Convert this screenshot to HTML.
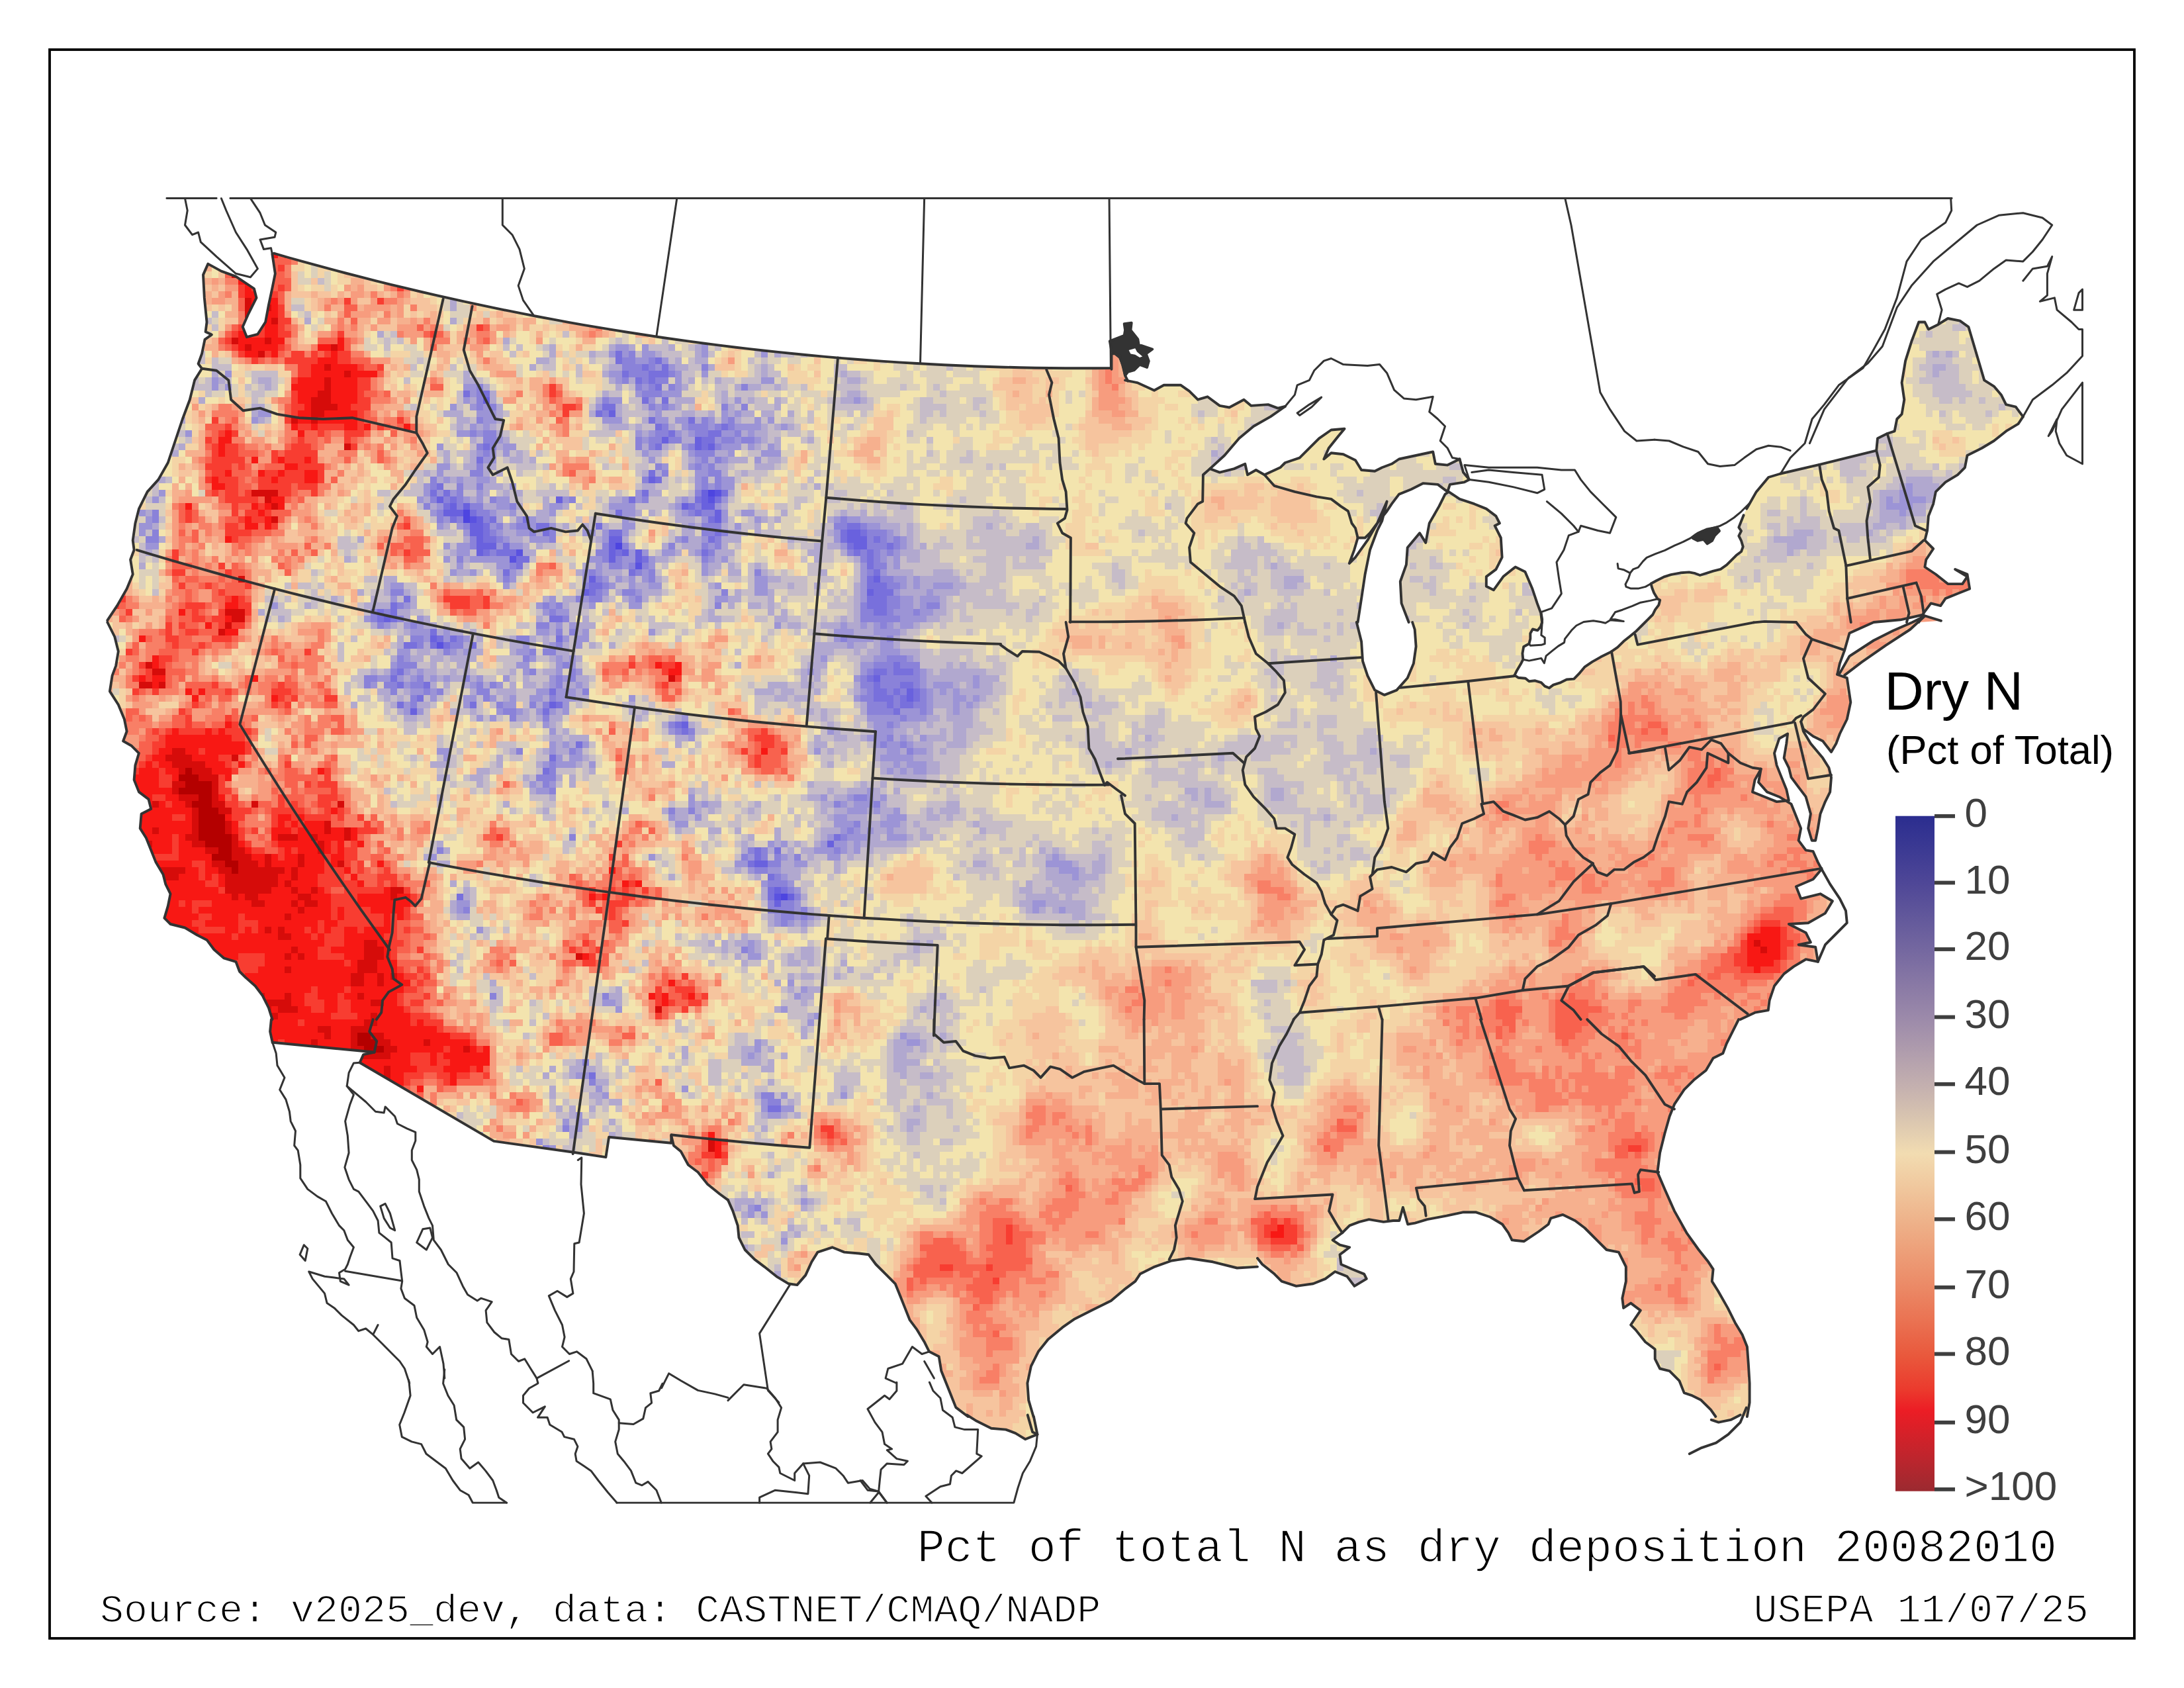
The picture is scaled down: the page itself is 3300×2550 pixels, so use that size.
<!DOCTYPE html>
<html><head><meta charset="utf-8"><title>Pct of total N as dry deposition 20082010</title>
<style>
html,body{margin:0;padding:0;background:#fff;}
body{width:3300px;height:2550px;overflow:hidden;position:relative;}
svg{position:absolute;left:0;top:0;display:block;}
.tk{font-family:"Liberation Sans",Arial,Helvetica,sans-serif;font-size:62px;fill:#3f3f3f;}
.lt{font-family:"Liberation Sans",Arial,Helvetica,sans-serif;font-size:82px;fill:#000;}
.ls{font-family:"Liberation Sans",Arial,Helvetica,sans-serif;font-size:61.5px;fill:#000;}
.cap{font-family:"Liberation Mono","Courier New",Courier,monospace;font-size:70px;fill:#000;stroke:#fff;stroke-width:1.6px;}
.src{font-family:"Liberation Mono","Courier New",Courier,monospace;font-size:60px;fill:#000;stroke:#fff;stroke-width:1.6px;}
</style></head>
<body>
<svg width="3300" height="2550" viewBox="0 0 3300 2550">
<rect x="0" y="0" width="3300" height="2550" fill="#fff"/>
<clipPath id="us"><path clip-rule="evenodd" d="M413.7 382.7l22 6.3 22 6.2 22.1 6 22.1 6 22.1 5.8 22.1 5.7 22.2 5.7 22.2 5.5 22.3 5.3 22.2 5.3 22.3 5.1 22.3 5.1 22.4 4.9 22.3 4.8 22.4 4.7 22.4 4.6 22.5 4.4 22.4 4.4 22.5 4.2 22.5 4.1 22.5 4 22.6 3.8 22.6 3.8 22.5 3.6 22.6 3.5 22.7 3.5 22.6 3.2 22.7 3.2 22.6 3.1 22.7 2.9 22.7 2.8 22.7 2.7 22.8 2.6 22.7 2.4 22.8 2.4 22.7 2.2 22.8 2.1 22.8 2 22.8 1.9 22.8 1.7 22.8 1.7 22.8 1.5 22.9 1.4 22.8 1.2 22.8 1.2 22.9 1.1 22.9 0.9 22.8 0.8 22.9 0.7 22.8 0.5 22.9 0.5 22.9 0.3 22.9 0.2 22.8 0.1 22.9 0 22.9 -0.2 1.1 -21.7 5.5 0 7 5.6 5 13 3 14 0 7.4 18.3 3.7 25.7 11.7 14.6 -8 25.6 0 12.9 9.1 12.8 12.8 14.6 -4.4 18.4 13.6 14.6 2.6 22 -11.8 11 9.2 25.6 -1.8 14.7 5.5 11 -2.6 -22 15.4 -25.7 14.6 -21.9 18.3 -22 25.7 -22 20.1 14.7 5.5 21.9 -5.5 16.5 -7.3 3.7 16.5 12.8 -7.3 12.8 7.3 23.8 -11 7.4 -7.3 21.9 -7.4 11 -10.9 18.3 -18.4 18.4 -12.8 20.1 -1.8 -9.2 11 -14.6 18.3 -7.3 16.5 11 -9.2 18.3 1.9 18.3 9.1 9.1 14.7 20.2 1.8 11 -5.5 14.6 -5.5 11 -7.3 25.7 -5.5 25.6 -5.5 3.7 18.3 18.3 1.8 18.3 -9.1 5.5 20.1 9.1 11 -7.3 3.7 -22 3.6 -3.6 11 -14.7 -11 -22 -1.8 -18.3 9.2 -18.3 7.3 -11 14.6 -7.3 11 -14.6 18.3 -11 14.7 -7.4 7.3 -11 0 -5.4 18.3 -7.4 20.2 9.2 -9.2 18.3 -25.6 14.7 -25.7 14.6 -32.9 -7.3 29.3 -7.3 14.6 -11 29.3 -7.4 36.7 -5.5 36.6 -5.5 35.9 -1.8 0 7.3 29.3 1.9 29.3 7.3 22 11 22 14.6 7.3 18.4 -7.3 16.4 -18.4 9.2 -21.9 3.7 -25.7 -1.9 -25.6 -3.6 -11 -5.5 0 -11 -28.6 -1.8 -32.9 9.1 -25.7 1.8 -25.6 18.4 -22 9.1 14.7 5.5 -29.4 14.7 -25.6 9.1 -18.3 5.5 -3.7 16.5 11 22 7.3 18.3 7.4 14.6 11 5.5 10.9 -7.3 3.7 9.2 18.3 1.8 29.3 -9.2 18.3 -14.6 11 0 14.7 11 5.5 14.6 -20.2 18.3 -14.6 14.7 7.3 11 25.7 7.3 21.9 5.5 14.7 1.8 13.9 -2.2 6.8 -4.5 5.5 -7.4 -1.8 -3.6 6.4 0 8.2 -1.9 7.4 -8.2 4.5 -1.8 10.1 0.9 9.2 -3.7 7.3 -5.5 9.1 -3.6 7.4 5.5 3.6 10.9 1 5.5 4.5 9.2 -0.9 9.2 2.8 5.4 5.5 6.5 2.7 6.4 -4.6 11 -3.6 9.1 -4.6 11 -0.9 7.3 -7.4 9.2 -10.9 11 -7.4 12.8 -7.3 14.7 -7.3 10.9 -7.4 9.2 -9.1 9.2 -7.3 9.1 -7.4 9.2 -9.1 9.1 -9.2 7.4 -7.3 3.6 -7.3 5.5 -7.4 1.8 -7.3 -3.6 -1.8 -5.5 -9.2 -2.8 -7.3 -1.8 -6.4 8.2 -4.6 11 -5.5 11 -3.6 14.7 -2.8 12.8 -0.9 9.2 1.8 7.3 2.8 9.1 -2.8 11 -3.6 11 -2.8 9.2 -6.4 7.3 -7.3 7.3 -7.3 7.4 -5.5 2.7 -7.4 -2.7 -9.1 -3.7 -7.3 3.7 -7.4 -3.7 -5.5 7.3 -18.3 4.6 -9.7 14.6 -25.7 18.4 -21.9 18.3 -5.5 58.6 -13.6 86.1 -21.2 1.8 -18.4 14.6 -7.3 11 -3.6 3.7 -18.4 7.3 -7.3 3.7 -22 -3.7 -25.6 5.5 -33 9.2 -29.3 11 -29.3 9.1 0 5.5 11 14.7 -7.3 14.6 -9.2 18.3 3.7 12.9 9.1 23.8 80.6 14.6 9.2 11 12.8 7.3 14.7 14.7 3.6 11 14.7 -7.3 11 -18.4 11 -18.3 14.6 -18.3 11 -22 11 -3.6 18.3 -11 11 -18.3 11 -14.7 14.6 -3.7 18.3 -7.3 18.4 -1.8 21.9 -3.7 14.7 12.8 12.8 -10.9 16.5 -1.9 11 16.5 11 18.3 14.6 22 0 7.3 -11 -18.3 -11 18.3 7.4 3.7 22 -18.3 7.3 -18.3 7.3 -7.4 11 -14.6 -3.7 -11 14.7 -7.3 13.9 33.7 -2.2 -28.6 -8.8 -33 7.3 -40.3 3.7 -36.6 16.5 -7.3 25.6 -7.3 20.2 -3.7 16.5 14.6 5.4 5.5 36.7 -5.5 25.6 -10.9 22 -5.5 14.7 -7.4 12.8 -12.8 -16.5 -14.6 -7.3 -14.7 -11 -3.7 -11 3.7 14.6 11 18.4 18.3 21.9 9.2 14.7 3.6 14.6 -1.8 22 -7.3 14.7 -7.4 18.3 -3.6 22 -3.7 18.3 -5.5 0 -5.5 -18.3 3.7 -22 -7.3 -25.7 -11 -14.6 -11 -14.7 -3.7 -14.6 -7.3 -14.7 3.7 -21.9 1.8 -14.7 -12.8 7.3 -7.3 22 3.6 18.3 7.3 18.3 7.4 18.3 3.6 16.5 -18.3 1.9 -18.3 -7.4 -18.3 -7.3 3.6 -18.3 9.2 -16.5 -3.7 20.2 12.9 14.6 18.3 7.3 18.3 11 7.3 18.3 7.3 18.4 -3.6 18.3 11 14.6 11 1.9 7.3 16.4 5.5 10.3 -12.8 15.4 -25.7 11 7.3 18.3 29.3 -7.3 18.4 10.9 -11 18.4 -25.7 14.6 -29.3 1.8 25.7 12.9 7.3 14.6 -18.3 3.7 25.6 3.6 3.7 22 -18.3 -3.6 -18.3 10.9 -14.7 11 -14.6 18.4 -7.4 21.9 -1.8 14.7 -20.2 3.6 -21.9 10.3 -2.6 0 -9.2 18.3 -9.1 18.3 -5.5 14.7 -14.7 7.3 -10.9 18.3 -18.4 14.7 -14.6 14.6 -14.7 22 -7.3 18.3 -7.3 25.7 -7.3 29.3 -3.7 29.3 11 25.6 14.6 33 18.4 32.9 18.3 25.7 14.6 18.3 7.3 11 -1.8 18.3 9.2 14.7 14.6 25.6 11 22 11 18.3 7.3 18.3 1.9 25.6 1.8 29.4 0 29.3 -3.7 21.2 -10.2 -2.4 -14.7 7.3 -18.3 3.7 -11 -3.7 6.6 -4.9 -7.3 -10.3 -14.7 -14.6 -14.6 -7.3 -11 -3.7 -7.3 -18.3 -14.7 -14.7 -14.6 -3.6 -7.4 -14.7 0 -14.6 -14.6 -11 -14.7 -18.3 -7.3 -7.4 7.3 -11 7.4 -10.9 -14.7 -11 -11 7.3 -1.8 -14.7 5.5 -25.6 0 -22 -11 -22 -18.3 -3.6 -14.7 -14.7 -18.3 -18.3 -14.6 -11 -18.4 -9.1 -18.3 5.5 -3.6 9.1 -14.7 11 -22 14.7 -18.3 -1.9 -5.5 -11 -9.1 -12.8 -18.4 -11 -21.9 -7.3 -18.3 0 -25.7 5.5 -29.3 5.5 -18.3 5.5 -11 1.8 -7.3 -25.6 -5.5 20.1 -9.2 0 -14.6 1.9 -22 -3.7 -14.7 3.7 -14.6 5.5 -11 10.9 -14.6 11 10.9 7.4 14.7 3.6 -14.7 11 1.9 14.7 16.5 7.3 18.3 7.3 3.6 7.3 -18.3 11 -11 -14.6 -18.3 -7.3 -14.6 10.9 -18.4 7.4 -25.6 3.6 -22 -7.3 -11 -11 -18.3 -14.6 -7.3 -9.2 0 12.8 -30.8 1.9 -36.6 -9.2 -36.6 -5.5 -25.7 3.7 -25.6 9.1 -22 11 -7.3 11 -14.7 11 -21.9 18.3 -29.3 14.7 -25.7 12.8 -18.3 12.8 -22 18.3 -14.6 18.3 -11 22 -5.5 25.7 1.8 25.6 7.3 24.9 5.9 26.9 -18.3 7.3 -14.7 -9.1 -14.6 -5.5 -22 -1.8 -22 -11 -14.6 -9.2 1.4 2.4 -18.3 -13.9 -7.3 -18.3 -7.3 -18.3 -7.4 -18.4 -3.6 -21.9 -14.7 -7.4 -7.3 -14.6 -11 -18.3 -11 -14.7 -7.3 -18.3 -7.3 -18.3 -7.4 -18.3 -14.6 -14.7 -14.7 -14.6 -10.9 -14.7 -14.7 -1.8 -22 -1.9 -18.3 -7.3 -22 7.3 -9.1 14.7 -9.2 20.1 -12.8 14.7 -12.8 -1.8 -18.3 -11 -18.4 -14.7 -14.6 -11 -14.7 -14.6 -9.1 -18.3 -1.8 -18.3 -7.4 -22 -7.3 -16.5 -12.5 -9.2 -18.3 -14.6 -14.6 -18.3 -14.7 -11 -11 -20.2 -11 -9.1 -3.6 -14.7 0 11 -94.2 -9.1 -4.7 30.4 -48.4 -7.4 -120.8 -16.8 -202.6 -118.7 5.5 -12.1 16.5 -3.6 -153.9 -14.7 -3.6 -16.5 1.8 -18.3 1.5 0 -5.5 -17.6 -9.2 -18.3 -11 -14.6 -14.6 -12.9 -9.2 -9.1 -5.5 -14.7 -18.3 -5.5 -14.7 -12.8 -10.9 -14.6 -14.7 -7.4 -18.3 -11 -22 -5.5 -9.1 -9.1 5.4 -18.3 3.7 -18.3 -7.3 -14.7 -3.7 -14.6 -11 -18.4 -7.3 -18.3 -7.3 -18.3 -9.2 -14.6 1.9 -22 14.6 -7.3 -3.7 -14.7 -14.6 -11 -7.3 -18.3 1.8 -22 5.5 -18.3 -11 -11 -12.8 -7.3 5.5 -14.7 -3.7 -18.3 -9.1 -22 -12.9 -20.1 3.7 -23.8 5.5 -14.7 3.7 -21.9 -5.5 -22 -11 -22 0 -2.9 14.6 -22 14.7 -25.6 9.1 -22 -3.6 -22 5.5 -14.7 -1.9 -14.6 3.7 -25.7 5.5 -21.9 12.8 -25.7 16.5 -18.3 14.6 -25.6 11 -33 11 -33 11 -29.3 7.3 -29.3 11 -17.6 -5.5 -7.3 5.5 -15.4 4.4 -21.2 10.3 -7.3 -9.2 -4.4 1.9 -14.7 -3.7 -36.6 -1.8 -34.8 7.3 -16.5 20.1 11 22 8.1 27.5 18.3 3.6 13.9 -12.8 25.6 -8 18.3 6.2 15.4 16.5 -4.4 11.7 -18.3 4.8 -25.6 5.5 -25.7 4.4 -21.9 -4.4 -29.3ZM2779.9 1016.9l14.6 -25.6 36.6 -23.8 29.3 -14.7 29.3 -12.8 18.4 -9.2 -22 20.2 -36.6 23.8 -36.7 25.6 -25.6 19.5Z"/></clipPath><g clip-path="url(#us)" shape-rendering="crispEdges" fill="none" stroke-width="10"><path stroke="#4d45e0" d="M1070 745h10M700 775h10M700 785h10M930 825h10M1180 1355h10"/>
<path stroke="#5a52e0" d="M1080 745h10M1070 755h10M710 785h10M780 835h10M770 845h10M960 855h10M660 975h10M1170 1355h10"/>
<path stroke="#6961de" d="M730 605h10M920 625h10M1000 665h10m40 0h10M1050 675h10m10 0h10M980 725h10M1060 745h10M660 755h10m170 0h10m210 0h10M680 765h10m10 0h10m320 0h10m20 0h20M670 775h30m380 0h10M720 785h10m350 0h10M710 795h20M710 805h20m550 0h20M720 815h10m190 0h20m340 0h30M720 825h30m170 0h10m360 0h20M720 835h10m190 0h10m10 0h10m10 0h10M920 845h10m30 0h10M890 875h10m420 0h10M880 895h10m420 0h10M580 935h10M650 965h10M1320 1025h10M1370 1045h10M1370 1055h10M830 1065h10M620 1075h10M1030 1095h10M1250 1275h10M1140 1305h20M1170 1345h10M1190 1355h10M1170 1365h10"/>
<path stroke="#7870dc" d="M930 535h10M930 545h10m50 0h10M970 555h10m20 0h10M940 565h10m30 0h30M960 575h10m10 0h10M990 585h10M700 595h10m20 0h10M970 605h10m20 0h10M910 615h20M900 625h10M980 635h10m50 0h10M990 645h10m90 0h10M1010 655h10m50 0h20M1060 665h20M730 675h10m250 0h10m60 0h10M720 695h10M980 715h10M990 725h10M660 735h10M650 745h10m10 0h10m290 0h10m110 0h10M680 755h10m260 0h10m90 0h10m20 0h10M670 765h10m360 0h10M710 775h10m210 0h10m110 0h10M680 785h10m50 0h10m40 0h10m270 0h10M730 795h10m70 0h20m70 0h10m370 0h20M730 805h10m80 0h10m90 0h20m140 0h10m180 0h10m20 0h10M730 815h20m320 0h10m190 0h10m40 0h10M760 825h10m510 0h10m50 0h10M730 835h10m10 0h30m150 0h10m120 0h10m220 0h10m10 0h10M780 845h20m170 0h10m330 0h10M780 855h10m520 0h10M760 865h10m180 0h10m360 0h10M1310 875h10M890 885h20m400 0h30M890 895h10m420 0h30M610 905h10m690 0h30M590 915h10m710 0h30M570 925h10m10 0h10m720 0h20M570 935h10m10 0h10m230 0h20M650 955h10M660 965h10m10 0h10m150 0h10M610 975h20m20 0h10m10 0h10m30 0h10M1350 1005h10M600 1015h10m710 0h20m10 0h30M590 1025h10m710 0h10M600 1035h10m30 0h10m670 0h10m30 0h20M830 1045h10m480 0h20m10 0h10m20 0h10M630 1055h10m680 0h30m10 0h10m10 0h10M600 1065h10m100 0h10m120 0h10m490 0h10m10 0h20M820 1075h10m520 0h10M1020 1095h10M1030 1105h10M870 1125h10M830 1145h10M820 1165h10M1260 1265h10M1140 1285h10m20 0h10M1140 1295h10M1130 1305h10M1160 1325h10M1160 1345h10m10 0h10M690 1355h10m460 0h10M890 1625h10M1160 1675h20"/>
<path stroke="#8a82d9" d="M950 535h10M940 545h20m20 0h10M940 555h30m10 0h10m70 0h10M950 565h30m30 0h10M940 575h10m20 0h10m10 0h20M720 585h10m230 0h10m10 0h10m20 0h10m100 0h10M720 595h10m240 0h30M720 605h10m180 0h10M720 615h10m10 0h10m230 0h10m10 0h10m80 0h10m20 0h10M910 625h10M720 635h10m330 0h10m30 0h10M1000 645h10m30 0h30m10 0h10m10 0h10M710 655h10m10 0h20m240 0h20m40 0h20m40 0h10M730 665h20m210 0h10m10 0h20m10 0h20m60 0h20m10 0h20M720 675h10m10 0h10m210 0h10m10 0h10m50 0h10m30 0h10M730 685h10m310 0h30M1060 695h10m10 0h10M720 705h10m260 0h10m50 0h10m10 0h10M710 715h20m270 0h10m60 0h20M650 725h10m310 0h10m80 0h10m10 0h10M650 735h10m30 0h10m20 0h10m330 0h10m10 0h10M690 745h10m350 0h10M650 755h10m10 0h10m10 0h10m40 0h10m110 0h10m100 0h10M640 765h10m40 0h10m10 0h20m40 0h10m270 0h10M230 775h10m420 0h10m50 0h20m300 0h10m10 0h20M230 785h10m420 0h10m20 0h10m30 0h10m530 0h10M700 795h10m40 0h10m20 0h20m260 0h30m170 0h20m20 0h10M230 805h10m500 0h10m50 0h10m20 0h10m220 0h20m10 0h10m210 0h30M220 815h20m470 0h10m30 0h10m70 0h10m190 0h10m40 0h10m220 0h10m10 0h10m10 0h10M710 825h10m190 0h10m20 0h10m60 0h10m40 0h10m10 0h10m220 0h30m10 0h10M740 835h10m150 0h20m150 0h10m200 0h10m10 0h10m10 0h10m10 0h10M690 845h10m210 0h10m10 0h10m120 0h10m230 0h10m10 0h10M770 855h10m140 0h20m10 0h10m10 0h10m340 0h20M890 865h10m60 0h10m10 0h10m150 0h10m160 0h10M760 875h10m130 0h10m70 0h10m340 0h20M880 885h10m20 0h10m420 0h20M590 895h20m290 0h10m30 0h20m130 0h10M870 905h10m10 0h20m50 0h10m370 0h20M600 915h10m210 0h10m10 0h10m230 0h10m210 0h10m30 0h20m40 0h20M560 925h10m10 0h10m240 0h10m460 0h20m20 0h10m30 0h10M560 935h10m30 0h10m240 0h10m440 0h60M570 945h10m40 0h10m180 0h20m500 0h10M840 955h10m10 0h10M620 965h20m50 0h10m80 0h20m470 0h10m60 0h10M630 975h10m40 0h20m140 0h10M670 985h10m120 0h10m10 0h20M600 995h10m180 0h10m540 0h30M600 1005h30m220 0h10m460 0h30m10 0h30M590 1015h10m200 0h10m50 0h10m440 0h10m20 0h10m30 0h10M550 1025h20m60 0h10m60 0h10m130 0h10m10 0h10m430 0h10m20 0h60M550 1035h10m20 0h20m20 0h20m80 0h10m10 0h10m90 0h10m450 0h20m10 0h30m20 0h10M590 1045h10m40 0h10m10 0h10m50 0h20m140 0h10m420 0h10m20 0h10m10 0h10m20 0h10M620 1055h10m100 0h10m90 0h10m460 0h20m30 0h10m30 0h10M620 1065h10m120 0h10m40 0h10m10 0h10m480 0h30m10 0h10m20 0h20M760 1075h20m530 0h40m40 0h10M770 1085h10m40 0h10m530 0h10M1010 1095h10m320 0h10M1020 1105h10m10 0h10M1340 1115h10M1330 1125h10m20 0h10M780 1135h10m70 0h10m500 0h10M830 1155h10M830 1165h10M810 1175h30M820 1185h10M830 1195h10M1290 1205h20M1260 1215h10m50 0h10M1010 1225h10m20 0h10M1290 1245h10M1280 1255h10M860 1265h10m400 0h10M660 1285h10m460 0h10m10 0h10m100 0h10M1120 1295h10m20 0h10m10 0h10m20 0h10M1160 1305h20M1140 1315h20M1170 1325h10M1160 1335h30M1190 1345h10M1200 1355h10M1160 1365h10m10 0h20M700 1375h10m450 0h40m10 0h10M1180 1385h20m10 0h10M1180 1395h10M1120 1435h10M740 1505h10m160 0h10M880 1605h10M890 1635h10M1150 1655h20M1160 1665h20M850 1705h10M820 1735h10M1140 1825h10M1110 1885h10"/>
<path stroke="#9c94d6" d="M830 475h10M1000 505h10M930 525h20m20 0h10m80 0h10M290 535h10m620 0h10m10 0h10m20 0h20m70 0h10m80 0h10M960 545h20m20 0h10M990 555h10m10 0h10M340 565h10m570 0h20m80 0h10m30 0h10M320 575h10m600 0h10m80 0h10m120 0h20M320 585h10m10 0h10m350 0h20m250 0h10m40 0h10M710 595h10m240 0h10m30 0h30M700 605h10m210 0h20m40 0h10m120 0h10m170 0h10M680 615h10m20 0h10m10 0h10m160 0h10m80 0h10m10 0h10M390 625h20m310 0h30m240 0h10m90 0h10m10 0h10M380 635h10m340 0h20m160 0h30m50 0h20m10 0h20m30 0h10m10 0h10m40 0h10m10 0h10M710 645h10m10 0h10m290 0h10m30 0h10m30 0h40m30 0h10M280 655h10m400 0h20m10 0h10m230 0h10m10 0h10m30 0h10m10 0h10m40 0h20m20 0h10M750 665h10m210 0h10m100 0h10m20 0h10m20 0h10M660 675h10m90 0h20m250 0h10m50 0h30m10 0h10m20 0h10M720 685h10m10 0h10m10 0h10m200 0h10m60 0h10m50 0h10m40 0h30M730 695h20m230 0h10m60 0h10m30 0h10m40 0h10M660 705h20m320 0h10m30 0h10m10 0h10M660 715h10m380 0h20M670 725h10m10 0h10m20 0h20m310 0h10m30 0h20M640 735h10m120 0h10m270 0h10m10 0h10m10 0h20m1770 0h10M240 745h10m390 0h10m10 0h10m10 0h10m30 0h10m230 0h10m1900 0h20M230 755h10m390 0h10m60 0h10m10 0h10m20 0h20m80 0h10m80 0h10m10 0h10m60 0h10m50 0h10m1750 0h10m10 0h40M660 765h10m80 0h20m60 0h20m70 0h40m60 0h10m50 0h10m1760 0h40M210 775h10m430 0h10m80 0h10m20 0h10m50 0h10m100 0h20m70 0h10m50 0h10m20 0h20m1730 0h10M220 785h10m440 0h10m100 0h10m10 0h10m130 0h10m110 0h10m20 0h10m40 0h10m110 0h10m10 0h20M210 795h20m430 0h10m20 0h10m40 0h10m20 0h10m20 0h10m20 0h10m100 0h20m80 0h10m60 0h10m190 0h20M210 805h10m480 0h10m40 0h10m20 0h20m80 0h20m10 0h10m20 0h10m310 0h10m70 0h10M760 815h10m30 0h30m80 0h10m100 0h10m30 0h10m190 0h10m70 0h10m10 0h10M220 825h20m430 0h10m10 0h20m40 0h10m10 0h20m280 0h10m190 0h10m80 0h10M690 835h20m240 0h10m10 0h10m20 0h20m30 0h10m270 0h10m10 0h10M670 845h10m30 0h60m120 0h20m30 0h20m20 0h10m80 0h10m10 0h10m230 0h10m10 0h10M690 855h10m50 0h20m130 0h10m30 0h10m30 0h10m70 0h10m230 0h10m40 0h10M680 865h10m20 0h10m50 0h10m100 0h10m10 0h10m60 0h10m80 0h10m230 0h10m20 0h10M770 875h10m100 0h10m20 0h10m10 0h10m10 0h10m10 0h10m160 0h20m140 0h10m40 0h20m10 0h10M590 885h20m150 0h10m150 0h10m20 0h10m20 0h20m80 0h10m50 0h20m140 0h10m50 0h10m10 0h10m20 0h30M910 895h10m40 0h10m170 0h20m140 0h10m40 0h10m40 0h10M590 905h10m230 0h10m40 0h10m60 0h10m120 0h20m200 0h10m50 0h20m10 0h30M410 915h10m190 0h10m190 0h10m10 0h10m50 0h10m50 0h20m390 0h20m10 0h10M820 925h10m10 0h20m490 0h30m10 0h20M550 935h10m70 0h10m720 0h40M580 945h10m20 0h10m10 0h10m200 0h10m10 0h10m300 0h10m90 0h10m20 0h10m10 0h10m10 0h10m10 0h20M620 955h30m20 0h10m130 0h20m50 0h10m90 0h10m270 0h30m30 0h40M640 965h10m20 0h10m20 0h10m140 0h10m10 0h20m370 0h10m10 0h40m10 0h10M790 975h10m30 0h10m30 0h10m400 0h10m40 0h20M600 985h20m60 0h10m10 0h10m70 0h20m530 0h30M610 995h10m180 0h10m30 0h10m10 0h10m370 0h10m70 0h20m30 0h10M590 1005h10m180 0h20m40 0h10m10 0h10m430 0h20M610 1015h10m10 0h10m150 0h10m40 0h10m20 0h10m340 0h10m70 0h10m80 0h10M570 1025h20m10 0h10m10 0h10m20 0h10m10 0h10m40 0h10m30 0h10m60 0h10m10 0h10m430 0h10m90 0h10m70 0h10M560 1035h10m40 0h10m90 0h10m30 0h10m70 0h10m30 0h10m510 0h10m10 0h30m30 0h10M620 1045h20m10 0h10m150 0h20m10 0h30m430 0h10m90 0h10m10 0h10m10 0h10M650 1055h10m40 0h20m20 0h10m20 0h10m20 0h20m20 0h30m80 0h10m330 0h10m100 0h10m30 0h20m10 0h10M610 1065h10m80 0h10m50 0h20m70 0h10m540 0h10m30 0h10m10 0h10M610 1075h10m10 0h10m110 0h10m20 0h10m20 0h10m10 0h10m10 0h10m500 0h30m10 0h10m30 0h10M720 1085h10m10 0h10m280 0h10m270 0h50m10 0h30M820 1095h10m490 0h20m10 0h10M830 1105h10m170 0h10m230 0h10m60 0h30M1040 1115h10m260 0h30m20 0h10m20 0h10M830 1125h10m10 0h10m20 0h10m430 0h10m10 0h20m10 0h10M660 1135h20m150 0h10m30 0h10m350 0h10m100 0h20m20 0h20M670 1145h10m160 0h10m10 0h20m450 0h50M820 1155h10m10 0h30m20 0h10m450 0h10m10 0h30M1340 1165h10m10 0h10m10 0h20M800 1185h10m20 0h10M810 1195h20m480 0h10M1040 1205h10m190 0h10m30 0h10m20 0h10m10 0h10M1040 1215h10m10 0h10m200 0h10m10 0h30M1280 1225h30m10 0h10m20 0h10M1010 1235h10m30 0h10m200 0h20m60 0h30M1020 1245h20m220 0h30m40 0h30M1270 1255h10m10 0h10m10 0h10m20 0h10M1250 1265h10m20 0h30m30 0h30M1160 1275h10m10 0h10m50 0h10m10 0h20m10 0h10M1230 1285h30m10 0h10m10 0h10M650 1295h10m320 0h10m140 0h10m40 0h10m60 0h20m320 0h10M1110 1305h20m70 0h20m360 0h40M1130 1315h10m20 0h20m420 0h30M1180 1325h10m430 0h10M1150 1335h10m30 0h10M1200 1345h10M690 1365h20m490 0h10m350 0h20M690 1375h10m500 0h10m350 0h10m30 0h10M1170 1385h10m20 0h10m10 0h10M1170 1395h10m10 0h10m10 0h10M720 1405h10M1130 1425h10M1130 1435h10M1130 1445h20M1190 1485h10M1210 1495h10M1200 1505h10M910 1515h20M930 1525h10m240 0h10M1230 1535h10M1220 1545h10M1360 1565h10M1140 1575h10m220 0h20M1140 1585h10M1130 1595h10M870 1625h20M900 1645h10m120 0h10M910 1655h10m260 0h10m80 0h10M1150 1665h10M1150 1675h10m20 0h20M870 1685h10m280 0h20M850 1695h10m10 0h10M870 1705h10M810 1725h10M830 1735h10M1210 1815h10M1130 1825h10M1130 1835h10m10 0h10M1180 1875h10M1120 1895h10"/>
<path stroke="#b1a8cf" d="M680 455h10M680 465h10M820 475h10M460 485h10m210 0h10M570 505h10m410 0h10M760 515h10M830 525h10m80 0h10m20 0h10m50 0h10m30 0h10M830 535h10m50 0h10m90 0h10m50 0h10m110 0h10m1740 0h10m10 0h10M290 545h10m510 0h20m190 0h10m20 0h20M290 555h10m500 0h10m110 0h20m80 0h20m30 0h10m70 0h10m1760 0h20M290 565h10m20 0h10m370 0h10m200 0h10m230 0h10m110 0h10m1640 0h10M330 575h10m50 0h20m290 0h20m200 0h10m20 0h10m80 0h10m30 0h10m190 0h20M400 585h10m320 0h10m190 0h10m90 0h10m70 0h10m10 0h20m20 0h10M740 595h10m160 0h10m170 0h10m180 0h20M300 605h10m400 0h10m20 0h10m150 0h10m110 0h30m40 0h10m30 0h10m30 0h10m90 0h20m10 0h10M380 615h20m350 0h10m170 0h10m30 0h10m40 0h10m70 0h10m60 0h10M380 625h10m280 0h30m50 0h10m130 0h10m30 0h10m40 0h10m40 0h20m20 0h10m20 0h10m10 0h20m10 0h20m20 0h10M270 635h10m110 0h10m290 0h20m40 0h10m210 0h10m70 0h10m50 0h10M690 645h10m20 0h10m10 0h10m170 0h30m10 0h10m40 0h10m130 0h10m10 0h10m10 0h10M750 655h10m210 0h10m50 0h10m80 0h10m10 0h20M710 665h10m40 0h10m260 0h20m100 0h10m10 0h10m40 0h10M270 675h10m470 0h10m210 0h10m20 0h10m130 0h10m20 0h10m1640 0h10M260 685h10m400 0h10m30 0h10m60 0h10m190 0h20m80 0h20m730 0h10M670 695h10m30 0h10m50 0h20m10 0h10m230 0h10m20 0h10m20 0h30m30 0h20m660 0h10M700 705h20m10 0h20m330 0h20m40 0h30M640 715h10m80 0h10m10 0h10m210 0h10m10 0h10m90 0h10m20 0h10M240 725h10m410 0h10m10 0h10m10 0h20m20 0h10m2130 0h40M700 735h20m10 0h30m210 0h20m240 0h10m1630 0h10m10 0h40M730 745h10m20 0h10m10 0h10m190 0h20m100 0h10m1730 0h30m20 0h40M640 755h10m60 0h10m100 0h10m90 0h20m80 0h10m10 0h10m1790 0h10m10 0h10m40 0h10M650 765h10m70 0h20m30 0h10m30 0h10m20 0h10m150 0h10m70 0h10m260 0h10m1470 0h10m40 0h20M220 775h10m520 0h20m40 0h20m90 0h10m30 0h10m10 0h10m30 0h10m150 0h10m80 0h10m20 0h10m780 0h10m740 0h30m10 0h30M750 785h10m50 0h20m120 0h10m60 0h30m100 0h10m10 0h10m70 0h10m40 0h40m1500 0h40M230 795h10m430 0h10m80 0h10m80 0h10m20 0h10m20 0h10m110 0h10m10 0h10m30 0h10m40 0h10m180 0h30m10 0h10m110 0h10m1330 0h20m20 0h10M760 805h20m30 0h10m210 0h20m50 0h20m20 0h10m100 0h10m90 0h10m10 0h10m1330 0h30m80 0h10M240 815h10m290 0h10m150 0h10m60 0h20m110 0h10m30 0h10m90 0h20m30 0h30m70 0h10m170 0h10m180 0h10m1110 0h50M790 825h10m10 0h10m130 0h10m40 0h10m20 0h30m30 0h10m130 0h10m10 0h20m100 0h10m10 0h10m150 0h20m1130 0h30M220 835h10m450 0h10m100 0h20m210 0h10m10 0h10m30 0h30m110 0h20m30 0h10m80 0h30m1310 0h10M520 845h10m170 0h10m280 0h20m70 0h10m140 0h10m50 0h10m40 0h10m20 0h20M210 855h10m660 0h10m20 0h10m150 0h20m10 0h10m30 0h10m190 0h10m570 0h10M690 865h20m40 0h10m20 0h10m80 0h10m30 0h30m130 0h10m20 0h20m30 0h10m80 0h10m90 0h40m30 0h30M580 875h20m150 0h10m180 0h10m40 0h10m160 0h20m190 0h10m10 0h60m490 0h30M580 885h10m370 0h20m90 0h10m110 0h10m30 0h10m50 0h10m70 0h10m10 0h20m30 0h20m480 0h20M540 895h10m30 0h10m20 0h10m310 0h10m30 0h30m110 0h10m40 0h10m120 0h10m60 0h40m10 0h40m430 0h10M500 905h10m50 0h10m50 0h10m190 0h10m20 0h20m40 0h10m20 0h10m20 0h10m120 0h20m40 0h10m120 0h10m80 0h10m30 0h10M460 915h10m80 0h40m30 0h10m220 0h10m20 0h10m210 0h10m20 0h20m10 0h10m120 0h10m80 0h10m30 0h10M390 925h10m200 0h20m450 0h10m80 0h10m10 0h10m100 0h10m110 0h20M420 935h10m180 0h10m20 0h10m160 0h10m60 0h10m180 0h20m80 0h20m80 0h10m10 0h10m100 0h20M560 945h10m20 0h10m40 0h20m170 0h10m30 0h30m290 0h20m30 0h30m10 0h20m10 0h10m30 0h10m20 0h10m540 0h10M610 955h10m40 0h10m10 0h20m10 0h10m110 0h10m30 0h10m410 0h30m40 0h10M600 965h10m110 0h10m40 0h10m20 0h10m10 0h10m490 0h10m20 0h10M600 975h10m30 0h10m50 0h10m60 0h20m30 0h10m20 0h10m30 0h10m20 0h10m300 0h50m10 0h20m10 0h10m20 0h10M630 985h20m10 0h10m20 0h10m10 0h20m40 0h10m60 0h20m370 0h30m30 0h10m10 0h20m30 0h30M590 995h10m20 0h20m10 0h20m10 0h40m110 0h10m10 0h10m10 0h10m350 0h10m60 0h20m60 0h10m620 0h10M650 1005h10m30 0h20m400 0h10m100 0h30m180 0h10m10 0h10M560 1015h10m10 0h10m30 0h10m10 0h20m20 0h10m10 0h10m60 0h10m40 0h20m370 0h10m10 0h10m160 0h10m10 0h70M610 1025h10m20 0h10m10 0h10m10 0h20m10 0h10m70 0h10m70 0h20m320 0h10m10 0h10m160 0h70m10 0h30M650 1035h10m10 0h10m20 0h10m20 0h10m30 0h10m10 0h20m10 0h10m20 0h20m10 0h10m270 0h30m20 0h20m60 0h10m100 0h10m30 0h10m10 0h10m10 0h20M570 1045h20m20 0h10m90 0h10m30 0h30m90 0h10m260 0h30m10 0h20m30 0h10m50 0h10m110 0h10m10 0h10m10 0h50m120 0h10M580 1055h10m10 0h10m150 0h10m50 0h10m40 0h20m280 0h20m10 0h20m190 0h30m20 0h10m10 0h10M530 1065h10m50 0h10m30 0h20m160 0h10m130 0h10m340 0h10m100 0h30m10 0h10m10 0h10m160 0h10M600 1075h10m70 0h10m20 0h10m70 0h10m40 0h10m100 0h10m10 0h10m240 0h10m10 0h10m50 0h10m120 0h10m10 0h20M610 1085h20m150 0h20m10 0h10m10 0h20m110 0h10m50 0h10m210 0h10m150 0h20m10 0h40M830 1095h10m160 0h10m30 0h10m200 0h10m50 0h10m40 0h30m10 0h10m30 0h30M850 1105h10m400 0h10m80 0h20m10 0h10m30 0h10m10 0h20M830 1115h20m10 0h30m130 0h20m190 0h10m20 0h20m20 0h10m40 0h10m10 0h10m20 0h30m10 0h20m270 0h10M840 1125h10m10 0h10m150 0h10m200 0h20m130 0h30m20 0h30M770 1135h10m40 0h10m10 0h20m390 0h10m60 0h20m20 0h10m30 0h10m10 0h10m270 0h10m360 0h10M750 1145h10m120 0h10m430 0h10m50 0h30m430 0h10M650 1155h30m70 0h10m50 0h10m50 0h10m120 0h20m230 0h10m70 0h20m10 0h10m30 0h20m250 0h10M720 1165h20m150 0h10m430 0h10m10 0h10m10 0h10m20 0h20M660 1175h20m30 0h20m60 0h10m40 0h10m10 0h10m480 0h50M720 1185h10m80 0h10m40 0h10m350 0h10m70 0h10m20 0h10M800 1195h10m230 0h10m200 0h10m20 0h30m10 0h10m20 0h10m430 0h20m10 0h10m90 0h20M660 1205h10m160 0h10m380 0h20m20 0h20m40 0h10m470 0h10m10 0h10m90 0h20M760 1215h10m140 0h10m130 0h10m10 0h20m50 0h10m90 0h20m20 0h10m40 0h10m90 0h20m370 0h30M820 1225h10m110 0h10m50 0h10m10 0h20m10 0h10m10 0h10m50 0h10m100 0h10m10 0h20m30 0h10m10 0h20m50 0h10m10 0h30M1020 1235h20m210 0h10m20 0h30m20 0h10m60 0h20m10 0h10m330 0h10m220 0h10M1300 1245h30m30 0h10m10 0h10m80 0h10M1020 1255h10m40 0h20m20 0h10m50 0h10m60 0h30m30 0h10m10 0h20m10 0h20m20 0h10m80 0h10M1130 1265h10m30 0h10m60 0h10m60 0h20m40 0h10m10 0h20M660 1275h10m450 0h10m40 0h10m20 0h10m20 0h10m40 0h10m10 0h70M670 1285h10m440 0h10m30 0h10m20 0h10m10 0h20m50 0h10m20 0h10m250 0h10m10 0h10M640 1295h10m540 0h10m20 0h10m50 0h10m290 0h10m10 0h10m50 0h10M660 1305h20m500 0h20m60 0h10m200 0h20m130 0h10m20 0h20M1110 1315h10m60 0h30m50 0h10m310 0h20m30 0h10m10 0h20M1010 1325h10m120 0h10m40 0h20m370 0h40m10 0h30M680 1335h10m860 0h10m30 0h50M700 1345h10m440 0h10m380 0h20m20 0h10m10 0h30M700 1355h10m440 0h10m50 0h10m330 0h50m10 0h10M680 1365h10m850 0h20m20 0h60M680 1375h10m530 0h10m320 0h10m10 0h10m10 0h10m10 0h30M690 1385h20m450 0h10m60 0h10m380 0h20M1160 1395h10m30 0h10m10 0h10M1210 1405h10M1120 1415h10M1070 1425h10m10 0h10m10 0h20m10 0h10m230 0h10m10 0h10M1090 1435h10m40 0h10m60 0h20m150 0h10M1110 1445h10m70 0h10m10 0h20M1120 1455h10m60 0h20m10 0h10m40 0h10M1280 1465h10M1190 1475h10m10 0h20m30 0h10M740 1485h10m420 0h10M930 1495h10m250 0h10m20 0h20M920 1505h20m270 0h20m190 0h10M930 1515h10m270 0h10m190 0h10M1170 1525h10m210 0h10M1220 1535h10M1210 1555h10M1210 1565h10m150 0h20m30 0h10M1150 1575h10m190 0h20m20 0h10M1030 1585h10m80 0h20m20 0h10m180 0h30m10 0h10M1030 1595h10m80 0h10m10 0h10m30 0h10m160 0h20M870 1605h10m240 0h30m10 0h10m180 0h40M830 1615h10m20 0h40m250 0h20m180 0h20M820 1625h10m30 0h10m490 0h10m20 0h20M900 1635h20m240 0h10M830 1645h10m430 0h10M830 1655h10m50 0h20m230 0h10m250 0h10M900 1665h10m10 0h20m250 0h10M840 1675h10m10 0h10m20 0h10m480 0h10M860 1685h10m280 0h10m20 0h10m10 0h10M880 1695h10m30 0h10m440 0h20M860 1705h10m280 0h10m210 0h10M720 1715h10m130 0h10m50 0h10M920 1735h10M840 1745h10M1160 1775h10M1210 1795h10M1110 1815h30m10 0h10m60 0h10M1110 1825h10m90 0h10M1120 1835h10M1190 1855h10M1180 1865h10m10 0h10M1120 1885h10M1170 1925h10"/>
<path stroke="#c6bcc8" d="M480 425h10M670 445h10m10 0h10M440 465h20M320 475h10m130 0h10m340 0h10M310 485h10m2640 0h10M300 495h10m10 0h10m2620 0h20M590 505h10m250 0h10m150 0h10m1890 0h10M580 515h10m10 0h10m320 0h10m60 0h10M580 525h10m170 0h10m10 0h10m30 0h10m150 0h30m30 0h10m30 0h10m110 0h10M300 535h10m460 0h10m120 0h20m40 0h10m30 0h30m40 0h10m60 0h10m30 0h20m10 0h10m1690 0h10m10 0h10m10 0h10M300 545h10m10 0h10m300 0h10m190 0h10m50 0h10m20 0h10m80 0h10m20 0h10m80 0h10m10 0h10m270 0h10m1470 0h40M320 555h30m270 0h10m50 0h10m130 0h20m30 0h10m30 0h10m120 0h20m80 0h10m10 0h10m90 0h20m150 0h10m1460 0h20m20 0h20M380 565h40m450 0h10m150 0h20m90 0h10m10 0h20m80 0h10m10 0h20m1610 0h10m10 0h30M280 575h20m10 0h10m20 0h10m30 0h10m20 0h10m190 0h10m100 0h10m300 0h10m20 0h10m20 0h20m10 0h30m30 0h10m80 0h10m20 0h10m1590 0h60M290 585h30m10 0h10m30 0h10m10 0h10m10 0h10m530 0h10m40 0h10m70 0h20m50 0h20m10 0h10m20 0h10m40 0h40m60 0h10m40 0h10m1500 0h50M310 595h10m60 0h20m290 0h10m220 0h20m140 0h10m20 0h30m130 0h10m20 0h10m110 0h10m1490 0h60M380 605h10m300 0h10m250 0h20m20 0h10m10 0h10m60 0h10m10 0h10m10 0h10m10 0h20m20 0h10m60 0h20m40 0h10m70 0h20m60 0h20m430 0h10m1000 0h20m10 0h10m20 0h10M620 615h10m60 0h10m190 0h10m40 0h10m10 0h10m70 0h10m60 0h10m20 0h30m90 0h60m70 0h40m40 0h10m430 0h20m1090 0h10M760 625h10m170 0h40m20 0h30m20 0h20m150 0h10m50 0h10m10 0h10m80 0h20m10 0h10m50 0h10m320 0h10m1110 0h10m60 0h10M400 635h10m300 0h10m220 0h10m60 0h10m60 0h10m30 0h20m10 0h10m20 0h20m20 0h10m160 0h10M680 645h10m10 0h10m40 0h10m150 0h10m30 0h10m10 0h20m30 0h10m130 0h10m30 0h10m70 0h10m600 0h10M260 655h20m480 0h10m120 0h40m230 0h20m10 0h20m10 0h10m140 0h10m1460 0h10M280 665h10m430 0h10m430 0h10m40 0h10m180 0h10m420 0h10m30 0h10m950 0h30M260 675h10m440 0h10m290 0h10m100 0h10m20 0h10m680 0h10m1000 0h10M660 685h10m20 0h20m40 0h10m10 0h10m10 0h10m10 0h10m140 0h10m30 0h10m20 0h10m90 0h20m250 0h10m50 0h10m370 0h10m350 0h10m570 0h80M700 695h10m50 0h10m20 0h10m170 0h10m10 0h10m30 0h10m110 0h10m20 0h10m260 0h20m360 0h10m30 0h10m310 0h10m10 0h10m560 0h40M680 705h10m90 0h30m10 0h10m80 0h10m40 0h20m50 0h10m60 0h10m60 0h10m310 0h10m10 0h10m310 0h60m300 0h20m570 0h30m70 0h10m30 0h10m30 0h10M620 715h20m10 0h10m10 0h40m70 0h10m170 0h10m140 0h10m10 0h30m70 0h10m610 0h10m920 0h40m50 0h50m20 0h10M230 725h10m10 0h10m370 0h10m360 0h10m10 0h10m10 0h10m20 0h10m30 0h10m20 0h10m70 0h10m950 0h20m590 0h10m60 0h20m40 0h40M230 735h10m380 0h20m30 0h20m70 0h10m60 0h10m120 0h10m20 0h20m200 0h10m30 0h10m910 0h10m10 0h10m650 0h20m60 0h10M230 745h10m330 0h20m20 0h30m60 0h20m30 0h10m10 0h10m30 0h50m70 0h10m100 0h10m210 0h20m60 0h10m700 0h10m770 0h10M220 755h10m10 0h10m480 0h10m30 0h20m110 0h10m70 0h30m90 0h10m90 0h20m30 0h20m180 0h10m1260 0h10m100 0h10m80 0h10M570 765h10m50 0h10m230 0h10m30 0h10m40 0h50m120 0h10m30 0h20m10 0h10m70 0h10m10 0h10m10 0h10m10 0h20m10 0h10m50 0h10m320 0h10m310 0h10m630 0h10m90 0h20m70 0h10M780 775h10m120 0h10m70 0h10m10 0h10m90 0h10m20 0h20m100 0h10m10 0h20m20 0h20m10 0h30m120 0h10m560 0h20m580 0h20m30 0h10m100 0h10M240 785h10m400 0h10m110 0h10m50 0h10m30 0h10m10 0h20m60 0h10m70 0h10m40 0h10m20 0h10m20 0h10m170 0h40m90 0h50m560 0h10m610 0h10m10 0h30m70 0h20m40 0h30M840 795h10m40 0h10m20 0h20m160 0h10m10 0h20m20 0h10m70 0h20m100 0h10m10 0h10m80 0h20m10 0h10m10 0h10m20 0h20m510 0h10m530 0h10m40 0h20m10 0h50m30 0h50m20 0h20m10 0h10M220 805h10m430 0h30m170 0h10m30 0h10m40 0h10m50 0h10m100 0h10m20 0h30m50 0h20m110 0h10m10 0h10m70 0h60m20 0h40m140 0h10m410 0h10m530 0h10m10 0h10m30 0h20m20 0h40m10 0h10m10 0h10M190 815h20m300 0h20m260 0h10m90 0h10m110 0h10m180 0h20m20 0h20m120 0h10m30 0h10m30 0h10m10 0h80m10 0h10m290 0h10m20 0h10m220 0h20m520 0h10m50 0h30m10 0h10m10 0h20m10 0h30M210 825h10m290 0h30m140 0h10m130 0h20m60 0h10m110 0h10m80 0h10m70 0h10m10 0h20m10 0h10m130 0h10m20 0h30m20 0h90m20 0h10m290 0h20m10 0h20m200 0h20m530 0h30m30 0h30M210 835h10m10 0h10m280 0h10m140 0h10m30 0h10m120 0h10m140 0h10m240 0h20m130 0h30m70 0h100m270 0h70m190 0h10m530 0h40m10 0h10m10 0h20M210 845h10m10 0h10m290 0h10m140 0h10m110 0h10m200 0h10m30 0h10m40 0h10m100 0h10m20 0h20m20 0h10m70 0h10m20 0h30m50 0h50m10 0h10m10 0h20m290 0h40m10 0h10m10 0h10m220 0h10m480 0h10m10 0h30M680 855h10m10 0h10m20 0h20m40 0h10m60 0h10m20 0h10m100 0h10m100 0h10m10 0h10m10 0h10m60 0h20m50 0h10m60 0h80m50 0h30m10 0h50m100 0h10m160 0h50m10 0h10m10 0h20m50 0h10m120 0h10m20 0h20m550 0h10M470 865h10m240 0h10m10 0h10m190 0h10m40 0h10m80 0h10m40 0h10m20 0h10m10 0h10m30 0h20m50 0h10m80 0h30m30 0h10m10 0h10m20 0h30m160 0h20m170 0h10m10 0h10m20 0h50m680 0h10M550 875h20m100 0h10m10 0h10m220 0h10m30 0h10m30 0h10m50 0h10m30 0h20m10 0h10m40 0h40m20 0h20m30 0h10m150 0h10m20 0h40m160 0h20m170 0h20m30 0h20m190 0h20m10 0h10m460 0h10m10 0h10M430 885h10m10 0h20m10 0h10m120 0h20m140 0h10m80 0h10m60 0h20m180 0h10m20 0h30m10 0h20m240 0h50m180 0h10m160 0h10m10 0h20m20 0h20m20 0h20m170 0h20m50 0h10m70 0h10M230 895h10m230 0h10m80 0h20m40 0h10m240 0h10m120 0h10m60 0h20m30 0h20m50 0h30m10 0h10m10 0h10m10 0h10m170 0h40m10 0h20m350 0h10m10 0h10m30 0h40m30 0h10m150 0h10m130 0h20M400 905h20m10 0h10m30 0h20m20 0h10m50 0h20m10 0h10m310 0h10m60 0h10m70 0h10m50 0h30m20 0h10m70 0h10m10 0h10m140 0h10m10 0h70m50 0h10m260 0h10m20 0h10m60 0h10m270 0h10M420 915h10m40 0h10m60 0h10m310 0h20m50 0h10m130 0h10m70 0h10m10 0h10m70 0h40m140 0h30m10 0h70m20 0h10m360 0h10m10 0h10m90 0h10M410 925h30m110 0h10m60 0h20m170 0h10m40 0h30m20 0h10m140 0h10m150 0h10m50 0h10m140 0h10m10 0h10m60 0h10m20 0h20m350 0h40m60 0h10m180 0h10m70 0h10M400 935h10m20 0h10m70 0h10m300 0h10m30 0h10m90 0h10m10 0h10m60 0h20m20 0h20m30 0h20m30 0h20m30 0h10m10 0h10m10 0h10m130 0h20m10 0h20m80 0h10m350 0h50m160 0h10m90 0h10M600 945h10m60 0h10m20 0h10m70 0h20m50 0h10m120 0h40m30 0h10m20 0h10m90 0h10m20 0h10m10 0h10m150 0h20m10 0h10m480 0h20m10 0h10m10 0h10m30 0h10m10 0h10m10 0h10m160 0h10M160 955h10m410 0h10m10 0h10m240 0h10m70 0h10m50 0h10m30 0h10m120 0h10m30 0h10m10 0h20m10 0h10m110 0h20m70 0h10m440 0h30m20 0h30m30 0h10M170 965h10m350 0h10m170 0h10m30 0h20m40 0h10m10 0h10m20 0h10m150 0h10m120 0h10m70 0h10m10 0h10m100 0h20m620 0h10M510 975h10m70 0h10m120 0h10m20 0h10m40 0h10m50 0h10m30 0h10m400 0h10m40 0h30M510 985h10m60 0h10m30 0h10m20 0h10m200 0h10m240 0h10m140 0h30m10 0h10m80 0h20m10 0h50m450 0h10M510 995h10m150 0h10m70 0h40m20 0h20m380 0h20m20 0h10m20 0h20m90 0h60m10 0h10m20 0h20m410 0h10m10 0h30m10 0h10M630 1005h20m20 0h10m40 0h10m30 0h20m50 0h10m30 0h10m330 0h10m70 0h10m90 0h40m10 0h10m10 0h20m20 0h20m400 0h20m50 0h40M540 1015h20m10 0h10m80 0h20m10 0h10m10 0h10m30 0h20m40 0h10m380 0h10m30 0h10m40 0h10m110 0h10m70 0h30m100 0h10m280 0h30m50 0h30M530 1025h20m180 0h20m20 0h10m20 0h30m60 0h10m320 0h10m370 0h30m290 0h10m60 0h40M520 1035h10m10 0h10m260 0h10m310 0h10m50 0h20m20 0h20m200 0h10m40 0h20m90 0h10m10 0h10m280 0h10m50 0h30m10 0h10M520 1045h10m70 0h10m60 0h10m60 0h10m30 0h30m360 0h10m20 0h30m50 0h10m210 0h20m80 0h20m10 0h20m350 0h30M540 1055h20m10 0h10m10 0h10m10 0h10m20 0h10m10 0h10m50 0h10m20 0h10m20 0h20m170 0h10m160 0h30m20 0h10m20 0h10m260 0h20m90 0h50m10 0h10m250 0h10m80 0h10M580 1065h10m60 0h10m60 0h10m10 0h10m40 0h10m70 0h10m60 0h10m30 0h10m150 0h20m30 0h20m10 0h20m50 0h10m180 0h20m80 0h10m10 0h10m20 0h10m10 0h40M580 1075h10m50 0h10m40 0h20m10 0h10m70 0h10m150 0h10m20 0h10m20 0h10m110 0h10m20 0h10m20 0h20m10 0h10m10 0h20m140 0h20m40 0h10m20 0h10m140 0h30m70 0h10m190 0h10M590 1085h10m30 0h20m60 0h10m10 0h10m10 0h10m40 0h10m160 0h10m30 0h10m200 0h20m10 0h10m30 0h20m110 0h10m40 0h10m110 0h30m20 0h20m70 0h30m190 0h10m30 0h30M610 1095h20m10 0h10m120 0h20m10 0h10m30 0h10m200 0h10m180 0h10m10 0h10m20 0h10m90 0h10m10 0h30m30 0h20m170 0h10m40 0h10m10 0h30m170 0h30m10 0h10m10 0h30M610 1105h20m80 0h10m120 0h10m150 0h10m40 0h20m170 0h10m20 0h20m10 0h20m50 0h10m10 0h30m10 0h10m20 0h40m140 0h30m40 0h40m240 0h10m60 0h20M660 1115h10m150 0h10m20 0h10m380 0h20m20 0h20m80 0h10m40 0h10m20 0h20m130 0h10m20 0h30m40 0h10m20 0h20m110 0h40m10 0h40m30 0h30m30 0h40M660 1125h10m10 0h10m30 0h10m20 0h30m110 0h10m150 0h10m160 0h10m30 0h40m10 0h10m90 0h20m30 0h10m160 0h50m10 0h10m10 0h40m100 0h90m10 0h10m40 0h30m20 0h30M690 1135h10m60 0h10m40 0h10m60 0h10m100 0h20m30 0h10m170 0h10m10 0h10m10 0h20m10 0h10m110 0h10m10 0h30m180 0h60m10 0h10m10 0h10m50 0h10m40 0h110m50 0h30m20 0h20m10 0h10M620 1145h10m30 0h10m10 0h10m80 0h20m20 0h20m20 0h10m30 0h10m340 0h20m10 0h10m130 0h40m200 0h60m20 0h20m50 0h10m20 0h10m10 0h20m20 0h30m90 0h80m10 0h30M680 1155h10m50 0h10m130 0h10m350 0h10m70 0h10m90 0h30m200 0h20m10 0h20m40 0h10m30 0h40m10 0h20m150 0h40m20 0h30m20 0h20M660 1165h10m70 0h20m50 0h10m20 0h30m10 0h10m530 0h30m200 0h10m10 0h10m50 0h50m10 0h20m30 0h10m50 0h30m70 0h30m10 0h10m10 0h20M700 1175h10m20 0h10m60 0h10m70 0h10m440 0h20m50 0h20m10 0h10m300 0h70m100 0h30m80 0h30M680 1185h10m40 0h10m50 0h10m40 0h10m210 0h10m70 0h10m80 0h40m20 0h10m10 0h20m20 0h50m20 0h10m10 0h10m290 0h10m30 0h60m70 0h60m60 0h10m10 0h10M580 1195h10m120 0h10m10 0h10m310 0h20m150 0h30m10 0h20m50 0h10m70 0h10m10 0h10m370 0h10m10 0h20m60 0h10m20 0h10m10 0h10m60 0h10m10 0h20m20 0h20M800 1205h30m230 0h10m10 0h10m80 0h10m30 0h10m30 0h10m80 0h30m60 0h20m280 0h10m40 0h20m10 0h10m10 0h30m50 0h10m20 0h20m80 0h10m10 0h40M590 1215h10m60 0h10m150 0h20m170 0h10m90 0h10m10 0h10m90 0h10m100 0h30m30 0h30m320 0h30m10 0h30m30 0h10m50 0h50m80 0h10m10 0h40M770 1225h10m30 0h10m60 0h10m170 0h10m10 0h10m30 0h10m10 0h10m40 0h10m30 0h10m10 0h10m100 0h10m20 0h10m10 0h10m30 0h10m10 0h20m250 0h60m10 0h50m60 0h60m10 0h20m50 0h30M820 1235h20m200 0h10m10 0h10m40 0h10m10 0h20m50 0h10m20 0h20m60 0h20m40 0h30m20 0h10m10 0h20m20 0h20m240 0h30m10 0h40m150 0h30m10 0h10m30 0h10M890 1245h10m110 0h10m30 0h30m20 0h20m80 0h10m10 0h10m10 0h20m110 0h10m10 0h50m20 0h10m10 0h50m230 0h40m10 0h10m130 0h10m10 0h10m20 0h10m20 0h10M860 1255h10m160 0h20m180 0h10m130 0h20m10 0h20m70 0h30m130 0h10m130 0h30m150 0h10M1070 1265h10m40 0h10m100 0h10m90 0h10m40 0h10m30 0h10m40 0h20m20 0h10m40 0h10m100 0h10m100 0h40m150 0h10m40 0h20M650 1275h10m190 0h20m190 0h10m10 0h10m20 0h10m10 0h10m50 0h10m10 0h10m150 0h20m70 0h10m80 0h10m10 0h20m60 0h20m120 0h20m160 0h10m40 0h10M650 1285h10m190 0h10m200 0h10m110 0h10m110 0h10m10 0h50m110 0h10m20 0h20m10 0h10m30 0h10m10 0h10m40 0h30m320 0h10m30 0h20M990 1295h10m110 0h10m40 0h10m40 0h10m10 0h20m20 0h10m10 0h30m10 0h10m130 0h30m40 0h10m10 0h20m30 0h50m10 0h10m130 0h10m200 0h10m10 0h30M1000 1305h10m210 0h20m30 0h10m30 0h10m130 0h10m30 0h10m30 0h20m10 0h20m50 0h20m20 0h10m300 0h10m10 0h10M1090 1315h20m10 0h10m80 0h10m10 0h10m30 0h10m180 0h50m60 0h10m60 0h10m20 0h10m310 0h20M800 1325h10m320 0h10m110 0h10m180 0h10m30 0h10m10 0h10m50 0h20m80 0h10M700 1335h10m90 0h20m390 0h20m300 0h10m20 0h30m50 0h30M710 1345h10m490 0h10m80 0h10m220 0h10m20 0h20m10 0h10m30 0h20m10 0h10M710 1355h10m590 0h10m210 0h20m50 0h10m10 0h40M710 1365h10m430 0h10m50 0h10m50 0h10m250 0h10m100 0h20M1230 1375h10m300 0h10m30 0h10m50 0h10M680 1385h10m460 0h10m80 0h10m120 0h10m170 0h70m20 0h30M1230 1395h10m130 0h10m220 0h30m10 0h10M730 1405h10m20 0h10m390 0h10m20 0h20m170 0h10m20 0h10m190 0h30M710 1415h10m10 0h10m280 0h10m30 0h10m10 0h10m10 0h10m20 0h20m230 0h50M970 1425h10m60 0h30m30 0h10m40 0h10m10 0h10m40 0h10m140 0h10m10 0h10M1060 1435h30m10 0h20m30 0h10m40 0h10m20 0h10m130 0h10m10 0h20M690 1445h10m390 0h10m20 0h10m20 0h10m20 0h10m10 0h10m20 0h10m30 0h10m70 0h40M680 1455h10m280 0h10m90 0h10m50 0h20m10 0h10m10 0h10m20 0h10m10 0h10m90 0h10m10 0h10m20 0h10M690 1465h10m250 0h10m160 0h10m30 0h10m40 0h10m20 0h10m10 0h10m50 0h10M730 1475h10m60 0h10m390 0h10m20 0h20m20 0h10m20 0h20m20 0h10M1210 1485h20m10 0h10m640 0h40m10 0h10M740 1495h20m130 0h10m20 0h10m250 0h10m10 0h10m270 0h10m410 0h30M750 1505h10m130 0h20m280 0h10m200 0h20M740 1515h20m40 0h10m80 0h20m270 0h30m10 0h10m160 0h20m10 0h20m470 0h10M740 1525h10m440 0h30m160 0h10m10 0h40M820 1535h10m360 0h30m160 0h10m10 0h10m10 0h10m10 0h10m460 0h10M760 1545h10m30 0h10m210 0h10m130 0h10m40 0h10m150 0h10m40 0h20M1020 1555h20m180 0h10m130 0h40m10 0h20m490 0h30M790 1565h10m310 0h20m220 0h10m30 0h30m10 0h10m500 0h30M1110 1575h20m210 0h10m50 0h10m10 0h20m490 0h30M990 1585h10m100 0h20m30 0h10m60 0h10m110 0h10m30 0h10m10 0h10m10 0h10m490 0h50M900 1595h10m100 0h10m80 0h20m30 0h10m180 0h10m20 0h30m510 0h60M850 1605h20m30 0h10m30 0h10m80 0h10m30 0h20m60 0h10m180 0h10m60 0h10m510 0h40M780 1615h10m110 0h10m20 0h10m10 0h10m40 0h10m10 0h10m40 0h20m180 0h10m60 0h10m20 0h40m10 0h10m510 0h40M850 1625h10m40 0h20m10 0h10m130 0h20m30 0h10m130 0h40m40 0h20m10 0h20m20 0h30m490 0h40M880 1635h10m180 0h20m170 0h40m40 0h20m10 0h60m510 0h30M880 1645h20m10 0h10m190 0h10m20 0h20m100 0h10m10 0h10m50 0h30m20 0h20m10 0h10M1040 1655h10m120 0h10m20 0h10m40 0h20m10 0h10m50 0h30m20 0h10m10 0h10M830 1665h10m10 0h10m30 0h10m10 0h10m220 0h10m30 0h10m10 0h10m40 0h10m80 0h20m20 0h10m10 0h40M830 1675h10m70 0h10m10 0h10m410 0h10m10 0h10m10 0h10m30 0h10M690 1685h10m140 0h20m30 0h10m240 0h10m40 0h10m160 0h40m30 0h10M860 1695h10m270 0h20m200 0h10m20 0h10M840 1705h10m60 0h10m10 0h10m190 0h10m200 0h10m10 0h10m10 0h20m40 0h10M870 1715h10m50 0h10m200 0h10m220 0h20M820 1725h10m30 0h10m70 0h20m180 0h30m200 0h20m30 0h20M850 1735h20M850 1745h30m280 0h10m210 0h10M910 1755h10M1170 1765h10M1200 1795h10m180 0h20m10 0h10M1120 1805h10m10 0h10m60 0h10m180 0h10M1100 1815h10m30 0h10m10 0h10m30 0h10m20 0h10m180 0h10M1100 1825h10m10 0h10m20 0h10m60 0h10M1140 1835h10M1120 1845h10m20 0h10m30 0h10m60 0h10m10 0h20M1200 1855h20m20 0h10m40 0h10M1120 1865h20m50 0h10M1110 1875h10M1130 1885h10m40 0h10M2030 1895h10M2020 1905h20M1170 1915h10m840 0h10M2040 1935h30M2050 1945h10"/>
<path stroke="#dcd0bb" d="M480 395h10M470 405h10M450 415h10m10 0h10m10 0h10M450 425h20m20 0h10M490 435h10M660 445h10m10 0h10M440 455h20m210 0h10m10 0h10M670 465h10m10 0h20M450 475h10m220 0h30m20 0h10m2200 0h20M300 485h10m10 0h10m150 0h10m200 0h10m130 0h20m2050 0h10m30 0h20M470 495h10m190 0h10m260 0h10m1960 0h40m20 0h10M310 505h10m260 0h10m350 0h10m1950 0h10m10 0h40M300 515h10m240 0h10m10 0h10m10 0h10m170 0h10m50 0h10m80 0h10m10 0h10m10 0h10m50 0h20m1850 0h70m10 0h10M550 525h20m40 0h20m180 0h10m90 0h10m110 0h10m30 0h10m80 0h40m1700 0h90M580 535h10m30 0h20m180 0h10m20 0h10m10 0h20m140 0h20m110 0h10m30 0h10m10 0h10m1740 0h30M330 545h20m260 0h20m10 0h10m40 0h10m160 0h10m30 0h20m220 0h10m10 0h20m10 0h20m50 0h10m10 0h10m40 0h10m10 0h40m20 0h20m10 0h10m10 0h10m1420 0h20m40 0h30m10 0h10M640 555h10m50 0h20m60 0h10m20 0h10m310 0h10m210 0h20m10 0h10m10 0h30m10 0h20m10 0h20m1400 0h10m60 0h40M330 565h10m30 0h10m240 0h20m30 0h30m10 0h10m60 0h10m40 0h10m10 0h10m190 0h10m10 0h20m40 0h10m160 0h20m40 0h20m10 0h40m10 0h40m1410 0h20m50 0h20m10 0h20M300 575h10m110 0h10m260 0h10m30 0h10m130 0h10m30 0h10m90 0h10m50 0h10m30 0h10m50 0h10m70 0h20m40 0h10m20 0h40m20 0h40m30 0h10m1400 0h20m60 0h20m10 0h20M280 585h10m60 0h10m20 0h10m350 0h10m160 0h20m10 0h10m90 0h10m10 0h10m30 0h10m80 0h20m90 0h60m10 0h20m10 0h10m10 0h10m20 0h40m1400 0h30m50 0h50M320 595h20m10 0h10m10 0h10m20 0h20m210 0h10m260 0h10m40 0h10m70 0h30m10 0h10m20 0h10m30 0h10m10 0h20m10 0h10m10 0h30m10 0h20m40 0h50m40 0h20m10 0h70m110 0h10m10 0h10m1250 0h30m60 0h30m10 0h10M390 605h10m350 0h10m130 0h10m300 0h10m20 0h20m70 0h10m50 0h10m20 0h40m10 0h10m20 0h10m110 0h10m190 0h30m70 0h10m980 0h30m20 0h10m10 0h20m10 0h50M370 615h10m20 0h10m200 0h10m30 0h10m40 0h10m240 0h10m70 0h10m40 0h10m40 0h10m50 0h20m20 0h10m10 0h10m110 0h20m40 0h40m10 0h20m300 0h40m50 0h20m20 0h10m970 0h110m10 0h30M660 625h10m30 0h20m360 0h10m80 0h10m20 0h10m40 0h30m30 0h10m60 0h10m20 0h10m10 0h50m10 0h20m290 0h10m10 0h20m50 0h50m970 0h10m20 0h10m10 0h40m10 0h10m20 0h10M680 635h10m200 0h20m50 0h10m200 0h10m20 0h20m30 0h10m30 0h20m70 0h10m10 0h60m20 0h30m300 0h10m60 0h50m1000 0h20m20 0h40M260 645h20m100 0h10m510 0h10m340 0h10m10 0h10m10 0h10m70 0h40m20 0h20m10 0h10m10 0h10m120 0h10m220 0h10m30 0h10m10 0h10m940 0h20m70 0h30m10 0h20M390 655h10m280 0h10m80 0h10m10 0h10m150 0h10m220 0h10m20 0h10m40 0h20m100 0h20m40 0h10m140 0h10m160 0h10m70 0h10m20 0h20m140 0h10m810 0h10m30 0h20M270 665h10m390 0h10m10 0h10m70 0h40m70 0h10m10 0h20m10 0h10m10 0h10m270 0h10m30 0h10m90 0h20m60 0h20m70 0h20m40 0h10m150 0h10m50 0h10m10 0h20m1000 0h20m20 0h10M670 675h20m90 0h20m80 0h10m50 0h20m60 0h10m160 0h10m20 0h20m160 0h10m30 0h30m60 0h30m10 0h30m220 0h20m10 0h20m290 0h10m660 0h20m10 0h50m80 0h10M680 685h10m130 0h10m90 0h10m10 0h20m160 0h10m50 0h20m30 0h10m10 0h10m110 0h10m30 0h10m10 0h30m10 0h10m10 0h50m10 0h20m20 0h10m20 0h10m180 0h20m20 0h10m90 0h10m40 0h10m100 0h20m10 0h20m10 0h10m680 0h40m70 0h30M660 695h10m10 0h10m60 0h10m140 0h20m30 0h20m160 0h10m90 0h30m110 0h10m10 0h30m10 0h20m20 0h100m10 0h40m100 0h10m70 0h30m110 0h10m140 0h50m30 0h20m10 0h10m550 0h20m40 0h30m10 0h50m50 0h20M640 705h20m30 0h10m50 0h30m30 0h10m100 0h20m10 0h10m20 0h10m120 0h30m40 0h10m30 0h20m10 0h20m100 0h30m20 0h70m10 0h10m70 0h10m10 0h30m70 0h20m80 0h30m110 0h30m10 0h10m20 0h20m40 0h30m10 0h40m20 0h20m20 0h10m480 0h30m10 0h20m10 0h10m30 0h20m20 0h30m10 0h30m20 0h20m10 0h10M610 715h10m120 0h10m40 0h20m210 0h10m10 0h10m50 0h10m50 0h10m20 0h10m40 0h10m120 0h10m20 0h20m10 0h10m10 0h10m10 0h30m10 0h40m150 0h20m10 0h10m60 0h50m10 0h20m130 0h10m50 0h150m480 0h40m80 0h20m10 0h20m50 0h20m10 0h20M640 725h10m110 0h10m40 0h10m140 0h10m40 0h10m10 0h10m80 0h20m10 0h30m10 0h10m60 0h10m10 0h20m50 0h40m70 0h30m10 0h10m10 0h20m160 0h10m20 0h20m80 0h10m180 0h30m10 0h40m20 0h60m20 0h10m480 0h30m10 0h20m10 0h10m10 0h10m10 0h30m10 0h20M810 735h20m20 0h10m150 0h20m10 0h10m60 0h10m20 0h10m40 0h20m10 0h10m10 0h10m10 0h60m10 0h40m10 0h10m70 0h40m10 0h40m200 0h10m270 0h70m20 0h50m10 0h10m10 0h20m490 0h10m10 0h10m50 0h60m90 0h10M220 745h10m70 0h10m280 0h20m180 0h20m60 0h10m20 0h20m20 0h10m60 0h30m70 0h10m30 0h10m10 0h10m10 0h40m10 0h20m20 0h30m10 0h10m20 0h40m20 0h10m20 0h60m10 0h40m110 0h10m70 0h10m20 0h10m240 0h30m10 0h40m20 0h20m40 0h30m510 0h10m60 0h40M530 755h10m40 0h20m190 0h30m10 0h10m40 0h10m20 0h10m90 0h10m90 0h10m70 0h10m20 0h10m40 0h30m10 0h10m10 0h50m50 0h20m10 0h30m30 0h30m40 0h10m70 0h20m70 0h30m240 0h80m90 0h10m460 0h20m10 0h20m10 0h10m50 0h10m10 0h20M220 765h30m330 0h10m310 0h10m190 0h30m10 0h10m40 0h10m50 0h30m10 0h10m10 0h10m10 0h10m40 0h10m20 0h20m10 0h60m30 0h20m50 0h10m50 0h10m100 0h20m270 0h20m10 0h10m560 0h30m10 0h20m10 0h20m50 0h20m100 0h10M240 775h10m240 0h20m60 0h10m50 0h20m140 0h20m30 0h10m40 0h20m190 0h10m60 0h10m10 0h10m30 0h10m10 0h10m50 0h10m20 0h10m30 0h10m40 0h10m10 0h50m10 0h20m130 0h10m40 0h10m50 0h20m250 0h10m10 0h10m90 0h10m80 0h10m400 0h10m20 0h30m10 0h30m10 0h60m80 0h20M200 785h20m420 0h10m270 0h20m20 0h10m40 0h10m100 0h10m50 0h30m20 0h10m140 0h10m60 0h20m50 0h20m30 0h30m100 0h40m20 0h10m10 0h10m270 0h10m80 0h10m80 0h30m390 0h40m10 0h10m30 0h70m90 0h10M200 795h10m30 0h10m300 0h10m120 0h10m170 0h10m90 0h20m40 0h10m150 0h20m20 0h20m150 0h10m30 0h10m10 0h20m40 0h10m10 0h20m20 0h20m100 0h60m10 0h20m90 0h10m270 0h20m80 0h20m360 0h10m20 0h10m20 0h10m50 0h30m110 0h10M200 805h10m310 0h10m120 0h10m30 0h10m140 0h10m20 0h10m80 0h10m50 0h10m20 0h10m120 0h40m170 0h70m60 0h20m40 0h10m120 0h10m10 0h40m100 0h10m200 0h10m60 0h10m460 0h30m20 0h10m10 0h10m60 0h20m60 0h10m10 0h20M210 815h10m310 0h10m130 0h30m180 0h10m60 0h10m40 0h10m170 0h10m30 0h20m150 0h30m10 0h30m10 0h10m100 0h30m50 0h10m40 0h20m10 0h10m10 0h10m80 0h20m10 0h20m180 0h10m60 0h10m460 0h20m20 0h10m90 0h10m10 0h10m20 0h10m30 0h10M540 825h10m250 0h10m30 0h10m120 0h10m120 0h10m30 0h10m50 0h10m190 0h10m30 0h20m120 0h20m150 0h10m10 0h10m60 0h30m20 0h10m20 0h20m200 0h10m470 0h50m90 0h100M510 835h10m10 0h10m120 0h10m220 0h10m80 0h10m120 0h10m20 0h10m60 0h10m40 0h10m150 0h70m180 0h10m30 0h10m20 0h40m50 0h20m80 0h30m10 0h10m90 0h10m50 0h50m10 0h10m10 0h10m400 0h10m10 0h20m60 0h10m20 0h90m10 0h10M190 845h10m20 0h10m250 0h10m80 0h10m260 0h30m150 0h30m60 0h10m20 0h20m100 0h20m140 0h30m10 0h10m50 0h10m10 0h10m20 0h20m90 0h30m10 0h80m30 0h30m40 0h10m10 0h10m10 0h10m10 0h60m20 0h10m70 0h40m10 0h10m450 0h20m10 0h10m30 0h60M230 855h10m220 0h10m100 0h10m90 0h10m30 0h20m260 0h10m40 0h20m30 0h10m140 0h20m180 0h50m30 0h10m120 0h30m10 0h20m50 0h20m10 0h10m30 0h20m50 0h10m40 0h50m10 0h30m70 0h20m10 0h20m20 0h20m350 0h10m60 0h110m10 0h20M210 865h30m240 0h10m180 0h10m110 0h10m250 0h10m110 0h10m10 0h10m250 0h10m10 0h20m30 0h60m80 0h20m20 0h10m110 0h10m10 0h30m10 0h10m10 0h20m50 0h70m70 0h80m340 0h10m20 0h20m30 0h40m10 0h20m10 0h20m10 0h30M210 875h10m10 0h10m230 0h10m90 0h10m100 0h10m10 0h20m60 0h10m80 0h10m170 0h10m10 0h10m10 0h10m20 0h10m90 0h20m20 0h10m10 0h10m170 0h20m40 0h10m30 0h30m50 0h10m20 0h10m20 0h20m120 0h30m20 0h30m50 0h10m10 0h50m70 0h20m20 0h10m10 0h20m30 0h10m390 0h10m10 0h10m10 0h10m10 0h60M210 885h10m10 0h10m230 0h10m70 0h30m290 0h10m120 0h10m50 0h10m150 0h10m10 0h10m10 0h10m10 0h10m220 0h20m40 0h20m10 0h20m10 0h20m20 0h20m10 0h20m130 0h10m10 0h10m20 0h20m80 0h30m10 0h10m60 0h40m20 0h10m50 0h20m30 0h10m20 0h10m300 0h30m10 0h10m10 0h60M400 895h10m10 0h10m30 0h10m20 0h10m50 0h10m70 0h10m140 0h10m50 0h10m70 0h10m80 0h10m30 0h20m30 0h10m60 0h20m30 0h10m30 0h10m10 0h10m200 0h10m20 0h10m10 0h30m10 0h20m10 0h50m20 0h20m120 0h10m10 0h30m30 0h30m40 0h30m20 0h50m40 0h50m10 0h30m10 0h40m30 0h10m30 0h10m330 0h10m20 0h40M420 905h10m20 0h20m20 0h10m340 0h10m130 0h10m70 0h10m50 0h10m60 0h40m10 0h20m10 0h10m160 0h10m70 0h50m10 0h10m30 0h40m190 0h20m10 0h60m10 0h100m10 0h10m40 0h110m10 0h20m30 0h50m340 0h10m30 0h20M400 915h10m40 0h10m20 0h10m10 0h20m280 0h10m100 0h10m20 0h10m20 0h10m80 0h10m20 0h10m10 0h10m60 0h10m20 0h10m240 0h10m70 0h20m10 0h30m30 0h10m190 0h80m10 0h10m10 0h10m10 0h90m10 0h10m40 0h30m20 0h30m10 0h40m50 0h40m290 0h10m30 0h40M400 925h10m30 0h20m20 0h10m10 0h10m130 0h10m150 0h10m80 0h10m30 0h10m20 0h20m50 0h10m40 0h40m10 0h30m10 0h10m10 0h10m10 0h10m10 0h50m160 0h10m10 0h60m10 0h20m20 0h20m250 0h80m40 0h60m10 0h30m50 0h30m50 0h20m10 0h20m40 0h10m20 0h30m300 0h10m10 0h10M410 935h10m120 0h10m110 0h10m220 0h20m60 0h10m20 0h10m100 0h10m40 0h10m40 0h30m10 0h10m180 0h10m20 0h80m10 0h30m300 0h20m50 0h100m70 0h30m20 0h40m10 0h10m10 0h10m20 0h10m10 0h10m20 0h10m320 0h10M420 945h10m100 0h30m100 0h10m10 0h10m20 0h10m80 0h10m130 0h10m70 0h20m20 0h10m80 0h20m50 0h10m180 0h10m10 0h80m10 0h50m260 0h10m50 0h20m40 0h10m10 0h30m10 0h10m10 0h10m10 0h10m110 0h10m20 0h10m10 0h30m30 0h30m170 0h10m90 0h30m60 0h20M510 955h10m40 0h20m10 0h10m100 0h10m10 0h10m30 0h20m20 0h10m80 0h10m40 0h20m40 0h10m10 0h10m10 0h10m60 0h30m10 0h10m10 0h10m10 0h10m40 0h10m140 0h10m10 0h50m10 0h10m10 0h10m30 0h10m10 0h20m250 0h10m70 0h10m30 0h20m30 0h30m10 0h30m120 0h20m20 0h20m30 0h30m160 0h30m180 0h10M160 965h10m10 0h10m420 0h10m270 0h10m20 0h30m30 0h10m130 0h10m30 0h10m40 0h20m10 0h10m130 0h10m30 0h20m50 0h30m30 0h10m260 0h10m70 0h40m10 0h50m10 0h60m110 0h10m10 0h10m10 0h80m170 0h10m70 0h10m40 0h10m20 0h10m30 0h10M760 975h10m110 0h10m40 0h10m70 0h10m100 0h10m30 0h10m220 0h10m20 0h70m10 0h20m10 0h20m360 0h30m10 0h100m80 0h10m50 0h20m40 0h40m250 0h30m10 0h10m60 0h10M590 985h10m210 0h10m50 0h40m180 0h10m100 0h30m180 0h10m50 0h20m10 0h10m10 0h10m380 0h10m10 0h20m10 0h20m10 0h50m210 0h40m260 0h10m10 0h10M560 995h10m70 0h10m550 0h10m50 0h20m170 0h10m10 0h20m20 0h30m310 0h10m50 0h10m10 0h10m30 0h10m10 0h20m10 0h30m200 0h20m10 0h30m250 0h10M330 1005h20m210 0h10m90 0h10m10 0h10m60 0h10m40 0h10m10 0h10m50 0h10m210 0h10m160 0h20m190 0h20m20 0h10m80 0h10m230 0h30m10 0h30m20 0h50m40 0h30m210 0h20M720 1015h30m30 0h10m60 0h10m20 0h20m290 0h10m60 0h10m10 0h10m230 0h10m70 0h20m10 0h20m210 0h10m30 0h10m30 0h50m30 0h20m260 0h10M780 1025h10m330 0h20m10 0h40m10 0h10m30 0h10m260 0h20m30 0h10m20 0h10m30 0h30m60 0h10m110 0h20m30 0h30m10 0h60m40 0h20m110 0h10m140 0h10m390 0h10m10 0h10M530 1035h10m30 0h10m80 0h10m10 0h20m60 0h10m120 0h10m210 0h20m10 0h20m110 0h20m230 0h10m40 0h10m10 0h20m10 0h10m10 0h20m50 0h30m160 0h20m10 0h10m10 0h30m30 0h10m10 0h10M170 1045h10m370 0h10m120 0h10m10 0h10m410 0h20m100 0h10m270 0h10m50 0h20m50 0h90m90 0h10m70 0h20m10 0h10m10 0h40m30 0h20m270 0h10m10 0h20m350 0h10m10 0h10M670 1055h10m10 0h10m230 0h10m20 0h10m150 0h10m140 0h20m220 0h10m50 0h30m50 0h10m10 0h20m10 0h20m100 0h10m80 0h10m10 0h40m10 0h30m10 0h30m270 0h30m10 0h30m330 0h10M550 1065h20m110 0h20m160 0h10m10 0h10m20 0h10m40 0h20m90 0h10m80 0h30m20 0h10m20 0h30m230 0h20m50 0h10m10 0h10m10 0h20m60 0h10m10 0h10m10 0h30m150 0h50m30 0h50m10 0h10m270 0h20m20 0h10m280 0h10M550 1075h10m30 0h10m130 0h10m120 0h10m70 0h10m30 0h10m10 0h10m60 0h10m70 0h20m100 0h30m180 0h20m10 0h10m40 0h10m10 0h70m30 0h20m30 0h20m10 0h10m140 0h40m10 0h10m10 0h80m280 0h10m300 0h30M580 1085h10m10 0h10m80 0h10m60 0h10m80 0h10m80 0h20m30 0h20m30 0h20m10 0h20m70 0h10m90 0h10m210 0h40m20 0h20m10 0h10m40 0h20m20 0h70m30 0h10m10 0h20m110 0h10m10 0h20m10 0h30m30 0h40m610 0h10M600 1095h10m20 0h10m90 0h10m70 0h10m140 0h10m20 0h10m80 0h10m140 0h10m30 0h20m10 0h10m180 0h30m20 0h30m20 0h30m20 0h20m10 0h20m10 0h10m10 0h10m30 0h70m90 0h10m30 0h10m10 0h10m30 0h60m570 0h10m10 0h10M400 1105h10m140 0h20m130 0h10m20 0h10m30 0h10m40 0h10m30 0h10m120 0h10m70 0h10m140 0h10m60 0h10m200 0h20m30 0h90m30 0h20m60 0h70m50 0h20m10 0h90m10 0h60m90 0h10m490 0h30M400 1115h10m260 0h10m10 0h20m100 0h10m180 0h20m30 0h10m160 0h10m250 0h40m50 0h40m10 0h20m30 0h20m10 0h10m10 0h10m30 0h60m10 0h10m10 0h20m40 0h10m40 0h30m30 0h30m70 0h30m530 0h10M600 1125h20m50 0h10m20 0h10m70 0h20m230 0h10m210 0h10m40 0h10m160 0h30m60 0h20m10 0h10m10 0h20m50 0h10m10 0h10m40 0h60m10 0h30m90 0h10m10 0h40m30 0h20m30 0h30m10 0h20m10 0h10M400 1135h20m120 0h10m10 0h10m30 0h10m70 0h10m60 0h10m130 0h10m150 0h10m220 0h10m10 0h20m140 0h20m80 0h10m10 0h10m40 0h10m80 0h10m10 0h30m10 0h10m10 0h40m110 0h30m10 0h10m30 0h20m40 0h70M540 1145h20m10 0h10m30 0h10m10 0h10m50 0h10m40 0h10m10 0h10m30 0h10m90 0h10m90 0h10m10 0h10m200 0h10m20 0h10m10 0h30m140 0h20m60 0h10m50 0h30m10 0h20m60 0h20m20 0h50m10 0h20m40 0h20m30 0h50m10 0h30m80 0h10m30 0h20M530 1155h10m30 0h10m40 0h10m60 0h10m30 0h10m50 0h20m90 0h10m350 0h20m10 0h10m10 0h10m130 0h30m10 0h10m50 0h10m30 0h10m30 0h20m50 0h10m20 0h10m10 0h30m40 0h10m20 0h110m10 0h30m40 0h20m30 0h20m20 0h20M530 1165h10m70 0h10m50 0h20m100 0h20m60 0h10m350 0h30m40 0h30m120 0h20m10 0h10m30 0h10m10 0h10m40 0h10m40 0h10m10 0h10m10 0h30m10 0h10m50 0h10m20 0h10m10 0h10m10 0h50m30 0h70m30 0h10m10 0h10m20 0h50m90 0h30M680 1175h10m90 0h10m80 0h10m10 0h30m130 0h10m50 0h10m110 0h30m40 0h30m90 0h10m10 0h20m20 0h10m10 0h10m100 0h20m60 0h10m10 0h30m70 0h40m10 0h20m20 0h10m30 0h80m30 0h90m90 0h20M600 1185h10m30 0h10m20 0h10m10 0h30m20 0h10m140 0h20m130 0h10m110 0h10m40 0h10m50 0h20m50 0h10m50 0h20m10 0h10m20 0h50m110 0h20m70 0h30m10 0h30m60 0h20m40 0h10m60 0h40m10 0h10m10 0h10m10 0h80M590 1195h10m40 0h10m10 0h20m40 0h10m160 0h30m160 0h10m10 0h20m220 0h10m10 0h50m10 0h10m10 0h20m10 0h40m80 0h10m10 0h10m90 0h80m60 0h20m20 0h20m40 0h10m10 0h20m10 0h10m10 0h10m10 0h10m20 0h20m20 0h20M600 1205h10m10 0h30m20 0h10m230 0h10m130 0h10m10 0h10m40 0h10m30 0h10m20 0h20m160 0h10m20 0h30m20 0h50m70 0h20m20 0h20m60 0h10m10 0h20m10 0h20m10 0h10m80 0h10m30 0h10m50 0h50m10 0h20m10 0h10m40 0h20M600 1215h30m50 0h10m60 0h10m50 0h10m100 0h10m10 0h10m70 0h20m50 0h20m10 0h10m20 0h30m10 0h40m140 0h30m50 0h50m60 0h20m10 0h20m10 0h10m70 0h50m30 0h10m110 0h10m50 0h60m10 0h10m10 0h10m40 0h10M660 1225h10m80 0h10m20 0h10m10 0h10m20 0h10m50 0h10m10 0h30m150 0h30m30 0h30m30 0h10m150 0h20m70 0h10m20 0h20m50 0h10m10 0h40m40 0h10m50 0h20m60 0h10m50 0h10m30 0h20m60 0h10m20 0h50m30 0h20M680 1235h10m210 0h10m10 0h10m70 0h10m80 0h10m20 0h10m50 0h10m20 0h20m230 0h20m20 0h50m40 0h10m10 0h10m50 0h10m30 0h30m80 0h30m50 0h20m10 0h40m50 0h30m10 0h30M1040 1245h10m30 0h20m20 0h20m40 0h20m30 0h10m200 0h20m70 0h60m60 0h10m20 0h20m30 0h30m40 0h10m10 0h10m80 0h40m10 0h10m10 0h20m10 0h20m10 0h20m10 0h10M690 1255h10m190 0h10m110 0h10m80 0h10m70 0h20m220 0h60m40 0h70m10 0h10m20 0h20m10 0h50m30 0h10m10 0h30m30 0h10m120 0h20m10 0h60M670 1265h20m140 0h10m10 0h10m20 0h10m130 0h10m50 0h10m20 0h10m60 0h20m20 0h10m180 0h10m10 0h10m10 0h20m20 0h20m10 0h40m10 0h40m10 0h50m10 0h20m70 0h10m180 0h10m10 0h40m20 0h10M1050 1275h10m10 0h10m10 0h10m40 0h20m60 0h10m160 0h30m20 0h20m10 0h80m10 0h10m20 0h30m10 0h20m20 0h40m50 0h30m20 0h20m130 0h10m10 0h40m10 0h40M640 1285h10m210 0h10m130 0h10m60 0h10m30 0h10m80 0h10m160 0h10m10 0h10m10 0h30m10 0h30m10 0h10m30 0h10m20 0h10m40 0h40m30 0h20m70 0h70m120 0h40m10 0h30m20 0h30M660 1295h20m140 0h10m140 0h10m20 0h20m300 0h10m10 0h10m80 0h40m30 0h40m10 0h10m120 0h20m70 0h20m10 0h10m10 0h30m110 0h60m10 0h10m30 0h10M610 1305h10m30 0h10m330 0h10m10 0h10m60 0h30m130 0h20m20 0h30m10 0h20m100 0h10m10 0h10m30 0h20m30 0h10m120 0h30m70 0h10m30 0h10m140 0h10m10 0h10m10 0h40m10 0h30M660 1315h10m60 0h10m250 0h10m10 0h10m200 0h10m10 0h20m60 0h10m100 0h30m50 0h60m110 0h10m290 0h10m20 0h30M730 1325h10m70 0h10m180 0h10m10 0h10m70 0h10m10 0h10m20 0h10m50 0h20m30 0h10m40 0h10m130 0h30m10 0h10m10 0h10m10 0h30m110 0h30m280 0h30m20 0h10m80 0h10M790 1335h10m400 0h10m30 0h30m10 0h10m170 0h70m10 0h10m120 0h30m100 0h10m290 0h20M690 1345h10m520 0h20m10 0h30m10 0h10m10 0h10m140 0h70m120 0h10m10 0h30m420 0h10M680 1355h10m450 0h10m70 0h10m20 0h20m10 0h20m170 0h30m10 0h20m130 0h30M1040 1365h20m160 0h10m10 0h20m20 0h10m40 0h10m120 0h30m20 0h20m130 0h20M670 1375h10m30 0h10m430 0h10m90 0h10m60 0h20m40 0h10m50 0h40m170 0h30M710 1385h20m10 0h10m220 0h10m280 0h20m40 0h10m30 0h10m10 0h20m20 0h10m20 0h20m10 0h10m40 0h20m120 0h20M710 1395h20m30 0h10m210 0h10m30 0h10m120 0h10m80 0h10m20 0h10m10 0h10m10 0h10m40 0h10m10 0h40m10 0h10m20 0h20m20 0h10m30 0h60m30 0h10m10 0h20m10 0h10M700 1405h10m30 0h10m240 0h10m150 0h10m10 0h20m30 0h10m40 0h20m80 0h10m10 0h20m10 0h10m150 0h30m30 0h30m10 0h10m140 0h10M680 1415h10m30 0h10m90 0h10m160 0h10m30 0h10m10 0h10m10 0h10m30 0h10m90 0h10m40 0h30m20 0h10m40 0h20m60 0h20m130 0h70m150 0h10m160 0h20M700 1425h10m30 0h10m230 0h10m30 0h20m190 0h10m20 0h20m30 0h60m40 0h30m10 0h10m510 0h20M680 1435h10m10 0h10m250 0h10m80 0h10m100 0h10m10 0h20m40 0h20m10 0h20m20 0h60m40 0h10m20 0h10m530 0h10M700 1445h10m330 0h30m10 0h10m10 0h10m60 0h10m60 0h10m10 0h10m20 0h10m20 0h30m40 0h30m100 0h10M690 1455h10m240 0h10m130 0h30m130 0h10m10 0h10m40 0h20m10 0h10m20 0h10m10 0h30m50 0h20m30 0h30M790 1465h10m160 0h10m140 0h10m60 0h30m10 0h20m10 0h10m10 0h10m10 0h30m10 0h30m10 0h10m20 0h10m50 0h30m10 0h60m340 0h50M680 1475h20m390 0h10m20 0h20m20 0h30m60 0h10m20 0h20m110 0h10m40 0h90m360 0h40m140 0h10M680 1485h10m30 0h20m160 0h10m30 0h10m170 0h10m10 0h10m50 0h10m20 0h10m10 0h100m50 0h10m10 0h10m30 0h50m420 0h10m10 0h10M720 1495h20m160 0h20m200 0h20m10 0h10m140 0h10m10 0h10m70 0h40m20 0h20m10 0h10m390 0h10m30 0h20M940 1505h10m200 0h10m20 0h10m120 0h30m30 0h30m30 0h20m20 0h10m10 0h10m130 0h10m250 0h50M730 1515h10m70 0h10m20 0h10m90 0h10m420 0h20m50 0h40m10 0h10m20 0h10m90 0h10m270 0h10m10 0h30M750 1525h10m40 0h20m40 0h10m30 0h30m290 0h20m130 0h10m60 0h10m440 0h60m70 0h10M740 1535h10m50 0h10m150 0h10m130 0h10m40 0h20m200 0h10m10 0h10m10 0h10m10 0h10m10 0h10m30 0h10m400 0h10m10 0h50M740 1545h20m280 0h10m20 0h10m60 0h20m30 0h20m20 0h10m120 0h10m10 0h40m20 0h10m40 0h10m130 0h10m270 0h60M760 1555h10m270 0h10m90 0h10m50 0h10m140 0h10m40 0h10m20 0h20m460 0h10m30 0h30M800 1565h10m190 0h10m20 0h10m60 0h10m20 0h20m70 0h10m110 0h10m90 0h10m470 0h20m30 0h10M980 1575h10m50 0h10m50 0h10m20 0h10m20 0h20m230 0h10m20 0h20m440 0h30m30 0h30M800 1585h10m70 0h10m130 0h10m30 0h10m140 0h10m110 0h10m70 0h10m10 0h20m450 0h20m50 0h30M830 1595h10m20 0h10m10 0h10m20 0h10m120 0h10m20 0h10m80 0h20m30 0h30m40 0h20m30 0h10m60 0h30m40 0h20m410 0h10m60 0h30M890 1605h10m30 0h10m80 0h10m10 0h10m40 0h30m90 0h50m10 0h20m10 0h40m50 0h10m20 0h40m450 0h20m40 0h20M770 1615h10m20 0h20m30 0h10m50 0h10m90 0h10m70 0h30m10 0h20m50 0h20m30 0h20m10 0h20m10 0h10m10 0h10m70 0h10m10 0h50m430 0h30m40 0h10M770 1625h10m10 0h20m30 0h10m70 0h10m10 0h10m60 0h10m10 0h10m60 0h10m20 0h20m10 0h10m160 0h10m100 0h20m460 0h10m40 0h10M770 1635h20m10 0h40m10 0h10m60 0h10m90 0h30m40 0h10m10 0h10m10 0h10m10 0h10m10 0h10m180 0h10m60 0h30m460 0h20m30 0h10M930 1645h10m80 0h10m20 0h10m20 0h10m10 0h10m20 0h10m20 0h40m90 0h20m60 0h20m20 0h10m10 0h10m10 0h20m20 0h10m440 0h30M820 1655h10m10 0h20m20 0h10m140 0h10m10 0h10m20 0h10m30 0h20m50 0h10m20 0h20m90 0h10m30 0h20m30 0h30m490 0h30M860 1665h30m60 0h10m300 0h20m40 0h10m30 0h20m10 0h10m40 0h20M700 1675h10m10 0h10m10 0h10m100 0h10m40 0h10m230 0h10m50 0h10m120 0h20m10 0h10m30 0h30m10 0h20M700 1685h20m10 0h20m70 0h10m50 0h10m10 0h20m290 0h10m130 0h10m40 0h30m10 0h30m660 0h10M690 1695h40m110 0h10m60 0h10m10 0h10m220 0h30m130 0h20m10 0h10m40 0h60m10 0h10M710 1705h10m70 0h10m80 0h10m30 0h10m210 0h10m10 0h10m160 0h10m10 0h10m40 0h40m10 0h20M710 1715h10m110 0h10m40 0h20m40 0h20m190 0h10m180 0h30m20 0h90M730 1725h10m90 0h30m10 0h30m10 0h10m80 0h10m110 0h20m190 0h10m10 0h20m20 0h20m30 0h20m460 0h10M870 1735h10m10 0h10m460 0h80m490 0h10M830 1745h10m40 0h10m30 0h10m220 0h10m40 0h10m140 0h10m10 0h10m10 0h30m40 0h10m10 0h10m430 0h10M1160 1755h10m10 0h20m10 0h10m110 0h30m10 0h10m10 0h30m10 0h10m10 0h30m440 0h10M1160 1765h10m10 0h20m140 0h10m10 0h20m10 0h10m10 0h70M1100 1775h10m10 0h10m20 0h10m10 0h10m190 0h20m20 0h10m10 0h10m10 0h20M1190 1785h10m10 0h10m130 0h100M1090 1795h20m10 0h10m60 0h10m100 0h10m60 0h20m20 0h10m10 0h10M1080 1805h20m10 0h10m40 0h10m20 0h20m10 0h30m60 0h10m70 0h10m10 0h20m340 0h20M1090 1815h10m70 0h10m10 0h10m40 0h10m50 0h10m70 0h40M1160 1825h10m10 0h10m40 0h10m170 0h20M1100 1835h20m40 0h10m30 0h10m10 0h10m50 0h30M1140 1845h10m60 0h10m10 0h10m30 0h10M1160 1855h10m60 0h10m30 0h20M1110 1865h10m50 0h10m30 0h20m10 0h20m10 0h40m700 0h10M1120 1875h10m20 0h30m10 0h10m30 0h10m40 0h10m20 0h20m10 0h10M1140 1885h10m20 0h10m10 0h10m110 0h20m10 0h10m660 0h10m10 0h20M1130 1895h10m20 0h10m10 0h10m120 0h20m670 0h30M1160 1905h20m130 0h20M1160 1915h10m150 0h10m510 0h10m180 0h30M1160 1925h10m850 0h50M1170 1935h20m840 0h10M1180 1945h10m850 0h10M2500 2045h40M2500 2055h30M2510 2065h20M1560 2135h10"/>
<path stroke="#f3e4ae" d="M310 395h10m140 0h10M320 405h10m130 0h10m30 0h10M320 415h10m130 0h10m30 0h10M500 425h10m60 0h10M460 435h10m40 0h10m120 0h10M640 445h10M660 455h10m30 0h10m10 0h10M740 465h10m10 0h10M310 475h10m10 0h10m100 0h10m30 0h10m180 0h10m110 0h10M470 485h10m190 0h10m130 0h10m2100 0h20M460 495h10m20 0h10m180 0h10m240 0h10m1950 0h20M320 505h10m130 0h10m90 0h10m180 0h10m20 0h20m30 0h10m90 0h10m10 0h10m20 0h10m1890 0h20m60 0h30M560 515h10m60 0h10m140 0h20m20 0h10m10 0h30m30 0h20m30 0h10m30 0h10m10 0h10m30 0h50m1780 0h10m70 0h10m10 0h10M570 525h10m10 0h20m20 0h10m100 0h10m20 0h10m10 0h20m40 0h10m40 0h10m50 0h10m50 0h10m60 0h10m1780 0h20M310 535h10m240 0h20m120 0h10m50 0h10m30 0h20m260 0h10m30 0h20m90 0h30m10 0h10m1590 0h40m50 0h10M650 545h10m20 0h10m80 0h40m30 0h10m30 0h10m140 0h10m30 0h10m40 0h10m50 0h10m20 0h20m10 0h20m10 0h10m30 0h10m20 0h10m40 0h20m40 0h10m10 0h20m1390 0h10m90 0h10M300 555h20m30 0h10m270 0h10m50 0h10m90 0h10m40 0h10m40 0h20m210 0h10m40 0h20m20 0h10m20 0h20m20 0h40m10 0h20m20 0h10m10 0h10m60 0h10m120 0h50m1240 0h10M300 565h20m320 0h10m70 0h20m50 0h20m30 0h10m10 0h10m230 0h10m70 0h10m30 0h10m10 0h20m60 0h40m20 0h10m40 0h10m40 0h30m110 0h20m1240 0h10m90 0h10M350 575h10m10 0h10m220 0h10m10 0h20m40 0h10m50 0h10m110 0h10m180 0h10m180 0h10m70 0h20m40 0h20m40 0h30m10 0h20m110 0h30m70 0h20m20 0h30m1090 0h10m100 0h10M420 585h10m170 0h10m20 0h10m40 0h20m50 0h10m100 0h40m150 0h10m10 0h10m150 0h30m130 0h10m30 0h20m40 0h10m110 0h30m90 0h60m1070 0h30M280 595h20m40 0h10m70 0h10m250 0h10m190 0h20m40 0h10m230 0h10m10 0h10m150 0h40m200 0h10m10 0h10m90 0h20m10 0h30m20 0h30m1040 0h20m120 0h10M310 605h20m10 0h10m270 0h10m20 0h10m10 0h10m260 0h10m120 0h10m80 0h10m20 0h10m20 0h10m100 0h50m70 0h10m40 0h10m90 0h10m10 0h20m120 0h50m30 0h10m40 0h20m970 0h20M270 615h20m350 0h10m20 0h10m80 0h20m10 0h10m260 0h10m110 0h10m20 0h10m20 0h10m80 0h10m20 0h10m130 0h10m90 0h40m110 0h10m20 0h20m40 0h10m30 0h10m980 0h40M370 625h10m30 0h10m230 0h10m480 0h10m30 0h10m20 0h10m10 0h20m40 0h10m60 0h20m130 0h10m80 0h40m110 0h50m40 0h10m20 0h20m970 0h50m10 0h10m20 0h10m60 0h20m10 0h10M410 635h10m230 0h10m10 0h10m80 0h10m180 0h10m280 0h10m20 0h20m60 0h30m80 0h20m30 0h10m70 0h40m120 0h30m10 0h10m20 0h20m10 0h10m10 0h10m980 0h70m20 0h20m40 0h50M280 645h10m370 0h20m200 0h20m320 0h10m30 0h10m40 0h10m30 0h20m40 0h20m20 0h10m10 0h10m10 0h20m80 0h20m140 0h40m10 0h10m10 0h20m10 0h30m120 0h30m840 0h70m30 0h10m20 0h10m10 0h10m10 0h10M780 655h10m30 0h10m110 0h10m280 0h20m30 0h20m60 0h10m30 0h40m10 0h50m10 0h20m20 0h40m10 0h30m110 0h20m10 0h70m10 0h20m120 0h40m830 0h30m20 0h10m30 0h60m10 0h20M260 665h10m380 0h20m10 0h10m10 0h10m100 0h10m70 0h10m20 0h10m250 0h30m30 0h10m10 0h10m80 0h20m20 0h10m10 0h30m30 0h30m30 0h10m20 0h40m10 0h10m120 0h20m10 0h10m10 0h30m40 0h10m110 0h50m850 0h20m10 0h10m50 0h60M250 675h10m390 0h10m30 0h10m100 0h10m10 0h10m10 0h10m40 0h30m260 0h10m10 0h20m20 0h30m10 0h10m50 0h10m10 0h40m10 0h30m30 0h20m20 0h20m30 0h10m30 0h30m80 0h10m10 0h70m10 0h10m150 0h50m130 0h10m750 0h10m50 0h20m10 0h10M270 685h10m580 0h10m150 0h10m80 0h10m120 0h10m90 0h30m10 0h20m20 0h10m50 0h10m50 0h10m20 0h20m10 0h20m10 0h10m50 0h10m10 0h60m30 0h10m150 0h40m10 0h40m80 0h10m20 0h10m730 0h30M250 695h10m20 0h10m400 0h10m110 0h30m90 0h10m70 0h10m200 0h10m30 0h30m50 0h10m10 0h10m10 0h10m30 0h10m140 0h10m40 0h30m20 0h50m10 0h30m20 0h20m150 0h110m80 0h30m570 0h20m90 0h10m50 0h50M250 705h10m300 0h10m330 0h10m100 0h10m220 0h10m20 0h30m40 0h30m30 0h20m100 0h40m10 0h10m10 0h10m30 0h10m40 0h20m20 0h40m10 0h10m10 0h10m90 0h20m10 0h20m30 0h10m10 0h20m20 0h40m30 0h10m40 0h20m520 0h10m30 0h10m20 0h10m60 0h20m80 0h10M230 715h30m300 0h30m170 0h20m30 0h10m10 0h10m70 0h30m10 0h10m210 0h20m20 0h20m20 0h10m20 0h10m10 0h10m30 0h30m10 0h20m20 0h10m10 0h10m10 0h10m30 0h10m40 0h10m10 0h70m10 0h20m10 0h20m20 0h10m20 0h20m10 0h20m80 0h30m10 0h90m10 0h50m600 0h30m40 0h40m60 0h10M260 725h10m10 0h10m280 0h10m30 0h10m130 0h10m10 0h40m20 0h30m340 0h10m20 0h30m40 0h20m10 0h20m40 0h30m20 0h20m30 0h10m10 0h10m20 0h10m30 0h50m10 0h30m10 0h20m10 0h20m20 0h30m10 0h40m10 0h30m40 0h40m30 0h40m30 0h10m40 0h20m90 0h20m440 0h20m30 0h10m20 0h10m10 0h10m50 0h10M240 735h20m10 0h10m10 0h10m240 0h10m10 0h30m190 0h10m10 0h10m30 0h10m60 0h10m110 0h10m110 0h20m10 0h10m130 0h10m40 0h10m10 0h20m30 0h20m40 0h10m40 0h50m10 0h30m10 0h100m10 0h20m20 0h20m170 0h40m70 0h20m530 0h60m10 0h10m10 0h10m10 0h30M210 745h10m70 0h10m230 0h10m20 0h10m170 0h10m170 0h10m20 0h10m40 0h10m130 0h10m80 0h10m70 0h10m10 0h10m50 0h20m10 0h10m70 0h10m40 0h10m10 0h60m10 0h20m10 0h50m10 0h10m10 0h20m10 0h10m10 0h10m170 0h40m80 0h20m520 0h80m10 0h20m30 0h10M210 755h10m30 0h10m260 0h10m70 0h30m240 0h10m240 0h20m10 0h40m40 0h20m50 0h10m10 0h10m50 0h50m60 0h30m30 0h20m30 0h20m20 0h30m20 0h40m20 0h10m30 0h10m190 0h40m80 0h10m50 0h30m10 0h30m400 0h30m20 0h10m40 0h20m20 0h10m10 0h10M480 765h10m20 0h10m70 0h10m200 0h10m50 0h10m340 0h20m10 0h10m140 0h20m90 0h30m20 0h20m10 0h20m10 0h20m20 0h10m10 0h60m20 0h10m30 0h10m190 0h10m20 0h40m40 0h10m50 0h20m20 0h20m20 0h10m380 0h30m30 0h10m50 0h50M200 775h10m350 0h10m10 0h10m280 0h20m80 0h10m20 0h10m150 0h10m30 0h20m20 0h10m140 0h40m10 0h10m80 0h30m10 0h50m30 0h10m10 0h40m10 0h10m30 0h10m20 0h10m200 0h40m10 0h10m110 0h50m10 0h20m380 0h30m100 0h10M500 785h10m40 0h10m10 0h10m180 0h10m70 0h20m50 0h10m60 0h10m120 0h10m90 0h10m20 0h10m140 0h60m90 0h30m30 0h20m20 0h10m10 0h40m40 0h20m10 0h10m10 0h10m90 0h10m110 0h40m20 0h10m80 0h20m10 0h10m10 0h10m10 0h10m380 0h40M190 795h10m240 0h10m60 0h10m130 0h10m210 0h10m130 0h10m130 0h10m10 0h10m20 0h20m180 0h20m20 0h10m140 0h20m30 0h50m60 0h10m20 0h20m80 0h30m100 0h40m10 0h20m110 0h30m10 0h20m390 0h20m240 0h20M190 805h10m40 0h10m260 0h10m10 0h10m430 0h10m150 0h10m450 0h20m30 0h10m10 0h10m10 0h30m60 0h30m20 0h10m10 0h30m10 0h40m90 0h40m10 0h20m120 0h70m380 0h20m210 0h20M660 815h10m180 0h10m10 0h10m80 0h10m20 0h10m120 0h20m30 0h10m460 0h20m30 0h20m20 0h10m10 0h10m10 0h40m10 0h10m10 0h10m60 0h30m40 0h10m10 0h10m10 0h20m20 0h20m80 0h80m10 0h10m380 0h20m200 0h20m10 0h10M190 825h20m30 0h10m410 0h10m210 0h20m60 0h10m10 0h20m160 0h10m430 0h10m50 0h90m10 0h10m10 0h30m10 0h20m100 0h30m20 0h10m10 0h20m10 0h40m70 0h20m10 0h40m20 0h10M190 835h10m290 0h10m310 0h20m40 0h10m240 0h10m20 0h20m30 0h10m380 0h30m60 0h30m10 0h20m40 0h50m20 0h10m100 0h10m10 0h70m10 0h10m110 0h10m10 0h10m10 0h30m380 0h10m200 0h10M200 845h10m190 0h10m80 0h10m40 0h10m10 0h10m90 0h10m200 0h20m240 0h10m20 0h10m50 0h10m220 0h10m130 0h90m30 0h10m80 0h30m120 0h10m60 0h20m10 0h30m100 0h40m10 0h20m20 0h10m330 0h20m130 0h90M190 855h20m10 0h10m10 0h10m220 0h20m30 0h30m250 0h10m60 0h10m130 0h10m100 0h10m30 0h10m10 0h10m10 0h20m40 0h10m10 0h10m290 0h70m60 0h50m20 0h10m20 0h20m210 0h40m130 0h40m10 0h10m10 0h20m240 0h10m30 0h40m140 0h50M190 865h20m290 0h10m30 0h10m20 0h10m20 0h10m40 0h10m70 0h10m260 0h10m30 0h10m70 0h10m80 0h10m30 0h20m10 0h10m290 0h80m50 0h20m10 0h50m10 0h20m10 0h10m200 0h30m120 0h20m10 0h10m10 0h20m10 0h10m10 0h20m200 0h20m10 0h20m20 0h30m70 0h10m20 0h10m30 0h10m10 0h30M200 875h10m10 0h10m190 0h20m40 0h10m40 0h10m60 0h20m120 0h10m40 0h10m60 0h10m170 0h10m30 0h10m180 0h10m250 0h30m30 0h50m10 0h20m50 0h10m50 0h30m10 0h20m140 0h10m50 0h30m120 0h30m10 0h90m200 0h20m10 0h40m10 0h20m50 0h10m60 0h50M220 885h10m170 0h30m110 0h10m80 0h20m100 0h10m80 0h10m160 0h10m70 0h20m10 0h10m120 0h10m10 0h10m250 0h40m20 0h10m20 0h10m20 0h20m110 0h30m10 0h10m10 0h10m130 0h20m30 0h10m10 0h20m110 0h40m30 0h20m20 0h10m210 0h10m30 0h10m40 0h20m30 0h10m10 0h10m60 0h30M220 895h10m220 0h10m360 0h10m20 0h10m380 0h10m280 0h10m30 0h10m20 0h10m50 0h20m20 0h20m70 0h30m10 0h10m170 0h10m180 0h10m40 0h30m10 0h10m310 0h20m10 0h20m10 0h20m40 0h30M520 905h10m20 0h10m70 0h20m280 0h10m60 0h20m150 0h10m50 0h10m350 0h30m40 0h40m110 0h30m210 0h10m190 0h30m330 0h60m10 0h30m20 0h20M390 915h10m30 0h20m40 0h10m130 0h20m250 0h10m70 0h10m40 0h10m80 0h10m60 0h20m10 0h30m350 0h30m10 0h20m160 0h10m80 0h10m220 0h20m30 0h10m40 0h50m300 0h30m10 0h30m40 0h60M460 925h20m30 0h20m120 0h10m130 0h10m100 0h10m30 0h10m30 0h30m10 0h10m170 0h10m380 0h20m10 0h20m180 0h20m300 0h50m50 0h40m20 0h10m280 0h50m10 0h10m10 0h20m10 0h10M440 935h20m40 0h10m20 0h10m80 0h10m20 0h10m10 0h10m90 0h10m10 0h10m70 0h10m110 0h10m10 0h30m550 0h10m220 0h70m270 0h20m60 0h10m10 0h20m10 0h10m10 0h20m150 0h10m100 0h70m10 0h20M150 945h20m220 0h30m100 0h10m220 0h10m10 0h10m120 0h10m20 0h10m10 0h10m10 0h10m60 0h10m20 0h10m10 0h20m10 0h10m10 0h10m360 0h10m50 0h20m230 0h10m10 0h10m10 0h10m10 0h10m240 0h40m10 0h20m50 0h30m30 0h30m130 0h10m10 0h10m30 0h20m20 0h10m30 0h60m30 0h10M180 955h10m310 0h10m10 0h10m20 0h10m170 0h10m10 0h10m30 0h10m120 0h10m30 0h10m40 0h10m40 0h10m30 0h10m30 0h10m60 0h10m180 0h10m70 0h10m10 0h30m10 0h10m20 0h10m250 0h30m10 0h10m10 0h10m230 0h50m20 0h20m20 0h30m30 0h10m10 0h10m170 0h10m20 0h30m20 0h90m10 0h10M510 965h10m20 0h20m30 0h10m130 0h10m160 0h10m40 0h10m30 0h30m10 0h20m10 0h10m70 0h10m20 0h10m20 0h10m180 0h10m10 0h10m20 0h50m30 0h30m10 0h20m250 0h50m10 0h10m40 0h10m180 0h50m10 0h10m10 0h10m230 0h20m10 0h20m20 0h30m20 0h30m10 0h20m10 0h30m10 0h10M170 975h20m310 0h10m10 0h30m260 0h10m90 0h10m180 0h20m10 0h10m30 0h10m10 0h10m20 0h10m170 0h20m70 0h10m20 0h10m20 0h20m240 0h10m10 0h80m30 0h10m100 0h20m70 0h50m20 0h40m40 0h20m150 0h30m30 0h20m50 0h20m20 0h20m10 0h10M520 985h20m200 0h30m140 0h10m180 0h10m10 0h20m40 0h10m300 0h10m10 0h10m10 0h30m270 0h50m10 0h20m40 0h10m20 0h10m50 0h20m70 0h40m20 0h10m20 0h30m40 0h20m180 0h10m30 0h10m20 0h10m10 0h20M170 995h10m190 0h10m140 0h10m40 0h20m290 0h10m220 0h10m70 0h10m340 0h20m70 0h20m180 0h20m10 0h10m20 0h20m140 0h20m60 0h30m50 0h10m10 0h10m30 0h10m160 0h10m20 0h10m60 0h20m10 0h10M320 1005h10m40 0h10m170 0h10m10 0h20m120 0h10m90 0h10m70 0h10m190 0h10m70 0h10m10 0h20m40 0h20m260 0h30m10 0h10m20 0h10m10 0h50m30 0h30m100 0h20m30 0h10m170 0h10m70 0h40m10 0h10m60 0h10m20 0h20m260 0h10m140 0h10M330 1015h10m190 0h10m550 0h30m60 0h10m60 0h10m10 0h10m250 0h70m60 0h10m20 0h50m70 0h50m10 0h30m140 0h30m70 0h70m50 0h40m400 0h50M510 1025h20m220 0h10m430 0h10m60 0h30m240 0h30m10 0h20m70 0h60m10 0h10m70 0h10m10 0h10m20 0h30m160 0h10m60 0h10m10 0h20m10 0h30m60 0h10m10 0h30m10 0h10m20 0h30m320 0h10m10 0h10m10 0h10M510 1035h10m260 0h10m250 0h20m10 0h10m20 0h10m140 0h20m260 0h40m10 0h10m70 0h50m30 0h10m50 0h80m10 0h10m40 0h10m90 0h20m40 0h50m10 0h10m20 0h30m60 0h40m10 0h40m10 0h10m290 0h70M510 1045h10m10 0h20m140 0h10m190 0h10m30 0h20m150 0h10m140 0h10m10 0h10m250 0h10m10 0h30m160 0h20m30 0h40m10 0h20m40 0h10m20 0h10m10 0h10m90 0h10m30 0h60m50 0h10m40 0h10m20 0h20m10 0h10m10 0h10m20 0h50m10 0h10m240 0h10m10 0h20m10 0h10m10 0h10M170 1055h10m180 0h10m160 0h10m20 0h10m320 0h40m10 0h10m180 0h10m100 0h10m270 0h10m20 0h20m120 0h10m20 0h40m20 0h40m10 0h20m50 0h10m60 0h10m70 0h10m30 0h30m10 0h30m40 0h60m40 0h20m30 0h10m30 0h20m270 0h10m20 0h10m10 0h10M170 1065h10m360 0h10m20 0h10m80 0h10m230 0h10m10 0h10m100 0h20m10 0h10m60 0h10m130 0h20m230 0h10m10 0h30m130 0h10m10 0h10m30 0h40m10 0h20m70 0h10m50 0h30m50 0h10m10 0h20m10 0h20m110 0h60m10 0h40m20 0h20m10 0h30m260 0h20m10 0h40M460 1075h10m70 0h10m10 0h20m160 0h10m120 0h10m20 0h40m90 0h40m60 0h10m380 0h10m10 0h20m10 0h10m120 0h30m40 0h40m80 0h20m60 0h10m80 0h30m130 0h60m10 0h20m10 0h20m10 0h30m300 0h10m10 0h30M540 1085h30m130 0h10m270 0h10m220 0h10m50 0h10m240 0h20m20 0h10m10 0h10m180 0h10m20 0h30m70 0h10m10 0h10m130 0h30m140 0h10m130 0h10m270 0h20m10 0h20m10 0h10M550 1095h50m70 0h20m10 0h10m10 0h10m120 0h10m40 0h10m60 0h10m240 0h10m290 0h20m30 0h20m30 0h20m50 0h10m130 0h10m40 0h40m160 0h20m10 0h40m190 0h20m300 0h10m10 0h10m10 0h10M410 1105h10m180 0h10m20 0h20m20 0h30m80 0h10m10 0h20m50 0h10m200 0h20m130 0h10m290 0h20m140 0h20m110 0h50m20 0h10m180 0h70m10 0h20m500 0h20M390 1115h10m160 0h10m50 0h10m50 0h10m20 0h10m170 0h10m80 0h20m60 0h20m130 0h10m310 0h10m10 0h20m120 0h10m120 0h10m10 0h10m240 0h30m30 0h30m470 0h30M390 1125h20m150 0h10m120 0h10m100 0h20m80 0h10m40 0h20m10 0h10m20 0h10m20 0h10m10 0h10m430 0h40m10 0h10m20 0h10m10 0h10m200 0h10m290 0h10m20 0h10m10 0h20m10 0h10m460 0h30M510 1135h30m50 0h10m10 0h20m10 0h10m60 0h20m10 0h10m40 0h10m100 0h10m120 0h10m440 0h10m30 0h40m10 0h10m10 0h40m140 0h10m200 0h10m170 0h10m20 0h10M440 1145h10m80 0h10m50 0h20m40 0h10m390 0h10m10 0h10m140 0h10m80 0h10m150 0h60m10 0h50m30 0h10m340 0h10m170 0h30m20 0h10M540 1155h20m40 0h20m10 0h10m60 0h10m50 0h10m10 0h10m120 0h20m30 0h10m50 0h20m10 0h10m170 0h10m40 0h10m10 0h10m170 0h10m10 0h50m10 0h30m10 0h10m10 0h10m80 0h20m230 0h10m180 0h30m20 0h60m30 0h10M560 1165h10m130 0h10m190 0h20m80 0h10m10 0h10m80 0h10m90 0h20m30 0h20m190 0h10m10 0h30m10 0h10m10 0h40m10 0h40m70 0h10m100 0h10m300 0h20m50 0h20m30 0h10M520 1175h20m50 0h10m30 0h20m40 0h10m40 0h10m100 0h10m160 0h10m10 0h10m10 0h10m30 0h10m110 0h10m30 0h40m160 0h20m10 0h10m10 0h100m20 0h60m10 0h10m140 0h10m20 0h20m240 0h10m60 0h20m20 0h10M540 1185h10m40 0h10m10 0h10m10 0h10m10 0h20m180 0h10m50 0h10m10 0h10m160 0h10m10 0h10m70 0h10m240 0h10m60 0h30m20 0h10m10 0h30m20 0h30m20 0h20m150 0h40m110 0h10m120 0h10m60 0h20M600 1195h20m30 0h10m20 0h10m100 0h10m40 0h40m140 0h10m90 0h20m20 0h20m10 0h30m240 0h10m40 0h10m20 0h20m10 0h20m10 0h10m10 0h30m30 0h30m160 0h20m100 0h10m10 0h10m110 0h10m80 0h10M560 1205h10m20 0h10m10 0h10m100 0h10m10 0h10m40 0h10m40 0h10m10 0h10m10 0h30m10 0h20m80 0h20m50 0h10m30 0h30m20 0h10m190 0h20m100 0h20m10 0h40m20 0h20m20 0h10m10 0h10m10 0h20m10 0h10m50 0h10m100 0h30m110 0h10m100 0h20M560 1215h10m100 0h10m60 0h10m30 0h20m60 0h20m20 0h10m20 0h10m10 0h20m20 0h10m180 0h10m310 0h20m10 0h30m20 0h10m20 0h10m20 0h60m160 0h40m120 0h10m80 0h10m340 0h10M600 1225h20m30 0h10m10 0h20m40 0h20m10 0h10m20 0h10m40 0h10m50 0h10m40 0h30m200 0h10m10 0h10m10 0h10m280 0h50m10 0h10m40 0h20m10 0h10m10 0h50m150 0h30M770 1235h20m20 0h10m50 0h10m10 0h10m10 0h10m10 0h20m120 0h20m60 0h10m10 0h10m10 0h10m350 0h40m10 0h10m10 0h50m10 0h30m140 0h20m10 0h20m20 0h10m160 0h20M670 1245h20m120 0h20m10 0h10m30 0h10m10 0h20m10 0h10m230 0h10m30 0h10m370 0h60m10 0h20m20 0h30m100 0h20m10 0h20m10 0h20m150 0h10m10 0h20M800 1255h10m40 0h10m20 0h10m10 0h10m140 0h20m20 0h10m20 0h10m80 0h20m360 0h10m10 0h20m80 0h10m10 0h10m10 0h10m70 0h10m10 0h30m10 0h10m10 0h10m10 0h20m90 0h20m10 0h30M650 1265h20m20 0h10m80 0h10m30 0h10m40 0h10m130 0h10m40 0h10m30 0h10m30 0h30m30 0h20m220 0h10m160 0h10m80 0h30m10 0h30m50 0h10m20 0h10m10 0h10m20 0h10m40 0h10m90 0h40m70 0h10m10 0h10M670 1275h30m130 0h20m20 0h10m10 0h10m520 0h20m180 0h10m80 0h10m10 0h30m70 0h10m10 0h40m10 0h10m40 0h10m110 0h10m80 0h10m10 0h10M680 1285h30m10 0h10m150 0h10m100 0h10m10 0h10m30 0h10m20 0h30m270 0h10m10 0h10m30 0h10m50 0h10m40 0h10m140 0h70m70 0h40m70 0h10m130 0h10m30 0h10M680 1295h10m170 0h10m90 0h10m90 0h10m20 0h10m250 0h10m10 0h10m20 0h30m270 0h30m20 0h20m20 0h10m70 0h10m70 0h10m120 0h20m30 0h10M630 1305h20m160 0h10m160 0h10m350 0h10m60 0h30m80 0h10m190 0h10m30 0h20m10 0h30m10 0h20m110 0h10m80 0h10m70 0h10M670 1315h20m80 0h10m20 0h20m180 0h10m270 0h40m100 0h10m260 0h40m40 0h40m10 0h20m120 0h20m60 0h50m20 0h30M670 1325h10m60 0h20m10 0h10m10 0h10m20 0h10m250 0h10m20 0h10m110 0h20m20 0h20m10 0h10m10 0h10m80 0h30m80 0h10m180 0h10m50 0h20m20 0h30m130 0h10m30 0h20m10 0h10m30 0h10m10 0h20m10 0h10M670 1335h10m10 0h10m10 0h10m60 0h10m30 0h10m190 0h10m80 0h10m10 0h10m90 0h10m60 0h20m90 0h20m10 0h20m310 0h30m10 0h40m130 0h50m90 0h20M680 1345h10m30 0h10m60 0h20m330 0h10m90 0h10m30 0h10m130 0h10m20 0h10m240 0h20m50 0h10m20 0h10m20 0h40m140 0h10m80 0h20M670 1355h10m40 0h20m20 0h10m470 0h10m20 0h10m20 0h10m10 0h10m50 0h10m10 0h10m20 0h40m30 0h10m180 0h20m60 0h10m80 0h10m240 0h40M760 1365h10m360 0h10m90 0h10m60 0h30m10 0h10m30 0h80m30 0h20m170 0h40m60 0h10m50 0h10m20 0h10m240 0h40M1260 1375h30m10 0h20m20 0h40m10 0h50m40 0h60m140 0h40m30 0h50m320 0h20M770 1385h10m360 0h10m100 0h10m20 0h10m20 0h10m10 0h30m40 0h20m10 0h20m20 0h10m10 0h20m10 0h10m160 0h20m40 0h50m30 0h10m160 0h10M680 1395h10m10 0h10m20 0h10m10 0h10m240 0h20m60 0h10m50 0h10m150 0h10m10 0h40m60 0h10m10 0h20m20 0h20m10 0h30m130 0h10m10 0h20m50 0h110m120 0h10m420 0h10M690 1405h10m10 0h10m50 0h10m30 0h20m150 0h10m10 0h20m10 0h10m90 0h20m80 0h20m10 0h10m20 0h80m60 0h70m20 0h10m10 0h10m10 0h20m90 0h10m10 0h10m60 0h30m20 0h20m10 0h30m110 0h30m410 0h20m80 0h10M740 1415h20m70 0h10m120 0h10m30 0h20m20 0h10m40 0h10m50 0h20m20 0h20m10 0h30m40 0h20m10 0h10m10 0h20m70 0h10m20 0h20m60 0h10m10 0h30m70 0h40m60 0h50m10 0h40m140 0h20m180 0h10m10 0h10m180 0h40m60 0h20M680 1425h20m130 0h10m110 0h10m50 0h10m60 0h10m70 0h10m10 0h10m10 0h20m60 0h30m130 0h10m10 0h20m60 0h10m30 0h60m10 0h10m10 0h10m10 0h10m80 0h40m20 0h10m140 0h40m170 0h10m10 0h20m180 0h20m60 0h10M720 1435h10m300 0h20m120 0h10m80 0h10m20 0h10m120 0h20m10 0h30m30 0h40m30 0h10m10 0h30m330 0h20m10 0h20m190 0h10m20 0h10m220 0h50M680 1445h10m30 0h10m50 0h10m230 0h10m40 0h10m80 0h10m80 0h10m20 0h10m20 0h10m100 0h20m20 0h20m30 0h10m10 0h30m30 0h10m300 0h10m20 0h10m20 0h50m470 0h30M700 1455h10m80 0h10m230 0h10m20 0h10m40 0h10m30 0h10m10 0h10m70 0h10m20 0h30m50 0h10m50 0h50m20 0h30m30 0h40m310 0h50m10 0h10m10 0h10m20 0h10m50 0h10m110 0h10m280 0h30M680 1465h10m10 0h10m370 0h10m10 0h10m20 0h20m20 0h10m180 0h10m10 0h20m10 0h50m30 0h10m60 0h10m320 0h10m50 0h10m50 0h20m40 0h30m380 0h10M930 1475h30m140 0h20m20 0h10m170 0h20m10 0h30m10 0h20m10 0h20m10 0h10m90 0h10m330 0h20m100 0h30m20 0h30m390 0h10M690 1485h20m90 0h10m100 0h10m10 0h10m20 0h10m130 0h10m20 0h10m10 0h10m20 0h10m160 0h10m20 0h20m10 0h10m10 0h30m50 0h20m10 0h10m320 0h20m120 0h30m30 0h40M660 1495h10m90 0h10m170 0h10m190 0h10m90 0h30m20 0h10m10 0h10m10 0h40m10 0h20m50 0h10m40 0h40m10 0h10m40 0h20m10 0h10m240 0h10m130 0h20m10 0h10m20 0h10m10 0h20m10 0h10M700 1505h10m20 0h10m20 0h10m10 0h10m50 0h10m30 0h10m240 0h10m20 0h20m50 0h10m100 0h30m80 0h20m10 0h10m10 0h30m30 0h10m30 0h30m240 0h20m50 0h20m50 0h40m50 0h30M760 1515h10m20 0h10m30 0h10m10 0h10m90 0h10m120 0h10m10 0h10m60 0h10m50 0h10m90 0h10m10 0h20m110 0h10m10 0h20m80 0h20m10 0h10m230 0h30m50 0h10m50 0h40m60 0h10M780 1525h20m30 0h10m10 0h10m80 0h30m110 0h20m40 0h20m170 0h20m100 0h80m70 0h60m220 0h10m60 0h20m60 0h20m40 0h10m20 0h10M750 1535h50m10 0h10m90 0h10m100 0h10m10 0h10m20 0h30m10 0h10m50 0h20m50 0h10m100 0h20m90 0h30m10 0h30m90 0h40m220 0h20m70 0h10m20 0h40m50 0h10M790 1545h10m10 0h10m210 0h10m50 0h10m20 0h10m110 0h10m80 0h10m110 0h20m10 0h10m10 0h10m130 0h20m230 0h20m60 0h50M750 1555h10m20 0h30m160 0h10m30 0h10m30 0h10m20 0h20m50 0h10m30 0h10m30 0h20m90 0h10m100 0h10m10 0h30m130 0h40m210 0h30m70 0h30M760 1565h30m190 0h10m90 0h10m60 0h10m40 0h10m20 0h10m210 0h50m130 0h30m210 0h50m60 0h30m30 0h10m10 0h10M800 1575h10m80 0h10m120 0h20m30 0h10m100 0h10m20 0h20m90 0h20m120 0h40m380 0h20m90 0h20m40 0h10M750 1585h10m50 0h10m80 0h20m40 0h30m10 0h10m60 0h30m70 0h10m10 0h20m20 0h10m10 0h10m10 0h10m10 0h10m10 0h20m120 0h60m380 0h10m140 0h20M820 1595h10m120 0h20m30 0h10m10 0h10m20 0h20m120 0h20m30 0h10m20 0h10m20 0h30m100 0h40m20 0h30m120 0h10m350 0h20m20 0h20M800 1605h10m10 0h30m60 0h20m20 0h20m20 0h30m30 0h10m110 0h10m10 0h20m50 0h10m20 0h10m100 0h10m50 0h50m130 0h10m250 0h10m80 0h20m60 0h20M820 1615h10m10 0h10m70 0h10m10 0h10m80 0h10m20 0h10m100 0h10m10 0h10m40 0h10m50 0h10m10 0h10m150 0h20m10 0h20m370 0h10m80 0h20m60 0h10M760 1625h10m10 0h10m20 0h10m10 0h10m220 0h10m20 0h10m10 0h10m30 0h10m10 0h10m30 0h20m10 0h20m40 0h30m130 0h30m30 0h10m380 0h10m60 0h20m60 0h10M790 1635h10m40 0h10m10 0h20m60 0h10m60 0h10m40 0h10m50 0h10m50 0h20m10 0h20m20 0h10m40 0h40m120 0h30m10 0h10m10 0h10m370 0h20m60 0h10M780 1645h10m10 0h10m10 0h10m10 0h10m70 0h10m110 0h10m20 0h10m10 0h10m20 0h10m70 0h60m50 0h10m10 0h10m100 0h10m20 0h10m20 0h40m370 0h30m30 0h10M760 1655h10m250 0h10m30 0h10m40 0h10m90 0h10m20 0h10m40 0h10m10 0h20m120 0h10m10 0h70m370 0h10m10 0h10M710 1665h10m10 0h10m80 0h10m10 0h10m90 0h10m30 0h20m30 0h30m20 0h10m120 0h20m10 0h10m30 0h10m40 0h10m120 0h10m20 0h20m10 0h10m400 0h40M660 1675h10m20 0h10m10 0h10m150 0h20m30 0h10m40 0h10m250 0h10m40 0h10m20 0h20m150 0h10m630 0h30M670 1685h10m40 0h10m70 0h20m100 0h20m190 0h10m190 0h20m120 0h20m620 0h20M680 1695h10m40 0h10m60 0h10m80 0h10m40 0h10m180 0h10m60 0h20m120 0h10m110 0h10m10 0h10m610 0h40M700 1705h10m10 0h10m50 0h10m40 0h10m100 0h20m40 0h10m160 0h10m140 0h10m140 0h30m600 0h40m180 0h10M730 1715h10m40 0h10m20 0h10m20 0h20m260 0h10m30 0h10m160 0h10m140 0h20m420 0h20m170 0h30m170 0h40M740 1725h10m180 0h10m380 0h10m10 0h10m60 0h10m40 0h40m410 0h10m10 0h30m150 0h10m200 0h20M880 1735h10m240 0h60m20 0h20m90 0h40m80 0h60m410 0h20m10 0h10M910 1745h10m200 0h30m20 0h20m20 0h10m110 0h20m10 0h10m50 0h40m10 0h10m10 0h10m410 0h10m10 0h20M1110 1755h10m30 0h10m40 0h10m110 0h10m30 0h10m10 0h10m30 0h10m10 0h10m30 0h10m420 0h10m10 0h10M1110 1765h10m20 0h10m50 0h10m120 0h10m10 0h10m20 0h10m10 0h10m70 0h10m430 0h20M1090 1775h10m80 0h30m80 0h10m10 0h10m30 0h20m20 0h20m10 0h10m10 0h10m20 0h20m420 0h10m10 0h10M1100 1785h30m20 0h40m10 0h10m30 0h10m50 0h10m30 0h10m100 0h10m10 0h10m290 0h40m110 0h20M1110 1795h10m50 0h20m30 0h10m10 0h10m40 0h10m10 0h10m40 0h10m70 0h10m320 0h30m130 0h10M1100 1805h10m20 0h10m10 0h10m10 0h10m100 0h30m70 0h10m40 0h10m310 0h20m20 0h10M1180 1815h10m80 0h10m10 0h10m10 0h30m20 0h20m50 0h20m310 0h30m260 0h10m40 0h10m20 0h10M1190 1825h10m50 0h30m10 0h20m70 0h30m20 0h10m310 0h30m270 0h10m40 0h40m20 0h10M1210 1835h10m10 0h30m10 0h10m70 0h20m10 0h50m330 0h20m260 0h20m100 0h20m50 0h10M1110 1845h10m10 0h10m60 0h10m10 0h10m10 0h20m40 0h20m20 0h10m20 0h10m650 0h20m110 0h20M1130 1855h30m20 0h10m30 0h10m20 0h20m30 0h20m10 0h10m670 0h10M1140 1865h10m10 0h10m90 0h10m50 0h30m670 0h20M1130 1875h20m50 0h20m20 0h20m10 0h10m50 0h10m10 0h10m640 0h40M1200 1885h10m10 0h30m30 0h10m700 0h20m10 0h10M1170 1895h10m70 0h20m30 0h10m20 0h10m370 0h20m10 0h30m220 0h10M1130 1905h10m10 0h10m170 0h10m380 0h30m10 0h10m70 0h10m150 0h20M1150 1915h10m560 0h10m20 0h20m50 0h20m40 0h10m120 0h10M1330 1925h10m660 0h20M1190 1935h10m10 0h10m780 0h10M1190 1945h10M2600 1955h10M2590 1965h10M2610 1975h10M1400 1985h10M1400 1995h10m210 0h20M2460 2005h10M2470 2015h10M2480 2025h10m30 0h10M2500 2035h30M2540 2045h10M2530 2055h20M2500 2065h10m20 0h10M2510 2075h30M2530 2085h10M2530 2095h10M2620 2115h10M1550 2125h20M1550 2135h10M1560 2145h10M1560 2155h10M1550 2165h30"/>
<path stroke="#f4d4a6" d="M450 395h10m10 0h10M440 405h20m20 0h20m10 0h10M310 415h10m160 0h10m20 0h10m20 0h10m10 0h10M510 425h20m30 0h10M450 435h10m10 0h20m10 0h10m60 0h10m50 0h10M300 445h10m190 0h10m110 0h10m20 0h10M300 455h10m150 0h10m180 0h10m70 0h10M320 465h10m10 0h10m110 0h10m140 0h10m40 0h10m50 0h20m10 0h10m20 0h20M470 475h10m20 0h10m100 0h10m10 0h10m70 0h10m60 0h10m10 0h10m30 0h10M330 485h10m110 0h10m100 0h10m90 0h10m30 0h10m30 0h10m70 0h10M310 495h10m10 0h10m140 0h10m200 0h10m80 0h10m10 0h20m10 0h10m110 0h20M550 505h10m120 0h10m110 0h10m10 0h10m10 0h10m10 0h10m150 0h10M460 515h20m130 0h10m60 0h10m110 0h10m60 0h10m90 0h10m60 0h10M750 525h10m80 0h10m10 0h10m10 0h20m200 0h10m10 0h20m10 0h10M330 535h10m250 0h30m20 0h10m40 0h10m30 0h10m40 0h10m70 0h10m220 0h10m10 0h10m140 0h10m10 0h40M310 545h10m380 0h20m130 0h10m10 0h10m200 0h10m20 0h10m170 0h20m10 0h10m160 0h40m1340 0h10M360 555h10m10 0h20m20 0h10m220 0h10m200 0h10m10 0h10m220 0h10m80 0h10m10 0h20m80 0h10m160 0h40m20 0h10m20 0h10m50 0h10m50 0h10m1160 0h10M350 565h20m50 0h20m150 0h10m10 0h10m190 0h10m80 0h10m180 0h10m10 0h20m60 0h30m290 0h20m30 0h60m20 0h10m1220 0h10M590 575h10m70 0h10m70 0h10m30 0h10m80 0h30m280 0h50m260 0h10m60 0h10m20 0h10m170 0h10m1070 0h10M360 585h10m210 0h10m30 0h10m40 0h10m80 0h10m20 0h10m100 0h10m310 0h10m330 0h20m10 0h20m30 0h10m60 0h20M300 595h10m50 0h10m300 0h10m110 0h10m70 0h10m180 0h10m80 0h10m80 0h10m250 0h20m40 0h20m10 0h10m40 0h10m90 0h10m30 0h20M330 605h10m30 0h10m20 0h10m220 0h10m20 0h10m10 0h10m90 0h30m240 0h20m140 0h10m290 0h10m40 0h10m10 0h20m40 0h10m70 0h40m100 0h30m980 0h10M300 615h10m100 0h10m210 0h10m20 0h10m140 0h10m60 0h10m180 0h10m140 0h10m90 0h10m10 0h20m150 0h10m20 0h10m40 0h10m40 0h10m70 0h30m10 0h20m70 0h30M270 625h20m340 0h20m120 0h20m90 0h10m430 0h20m10 0h10m160 0h20m50 0h10m120 0h30m100 0h10M280 635h10m20 0h10m50 0h10m260 0h10m120 0h10m20 0h10m20 0h10m20 0h10m10 0h10m340 0h10m20 0h10m40 0h10m200 0h20m40 0h10m40 0h10m100 0h10m30 0h10m10 0h10m30 0h10m10 0h10M290 645h10m90 0h10m10 0h10m340 0h10m40 0h10m390 0h10m10 0h20m50 0h10m200 0h40m10 0h30m30 0h10m100 0h20m40 0h10m10 0h10m1190 0h10m10 0h10M290 655h10m280 0h10m70 0h20m120 0h10m50 0h30m360 0h10m40 0h10m30 0h20m140 0h10m20 0h20m80 0h10m70 0h30m1180 0h30m60 0h10M410 665h10m410 0h10m100 0h10m330 0h10m50 0h10m90 0h10m50 0h30m90 0h20m50 0h50m40 0h10m1140 0h20m10 0h10M280 675h20m280 0h10m20 0h10m20 0h10m50 0h10m220 0h10m330 0h10m70 0h10m130 0h20m120 0h10m20 0h50m10 0h10m70 0h10m1110 0h10m10 0h30M250 685h10m280 0h10m50 0h10m40 0h10m140 0h10m20 0h10m30 0h20m20 0h10m10 0h10m70 0h10m180 0h10m10 0h10m30 0h20m40 0h10m310 0h10m10 0h30m10 0h10m60 0h30m1130 0h40M260 695h20m270 0h10m50 0h10m20 0h10m240 0h10m100 0h10m10 0h10m160 0h10m130 0h10m10 0h10m290 0h20m90 0h20M260 705h10m260 0h10m10 0h10m10 0h10m20 0h10m410 0h10m160 0h10m10 0h10m80 0h10m20 0h10m220 0h10m70 0h40m80 0h10m10 0h10M260 715h10m20 0h10m520 0h10m70 0h10m30 0h10m60 0h10m10 0h10m220 0h20m10 0h10m10 0h30m220 0h10m70 0h10m20 0h10m60 0h10m20 0h10m130 0h10M290 725h10m250 0h10m20 0h20m20 0h10m190 0h10m70 0h10m30 0h20m250 0h10m50 0h10m40 0h10m90 0h20m110 0h30m50 0h10m30 0h10m100 0h10m80 0h40m40 0h30m680 0h10M220 735h10m320 0h10m40 0h20m170 0h10m70 0h10m10 0h20m40 0h10m170 0h10m270 0h30m160 0h10m30 0h10m130 0h20m20 0h60m30 0h10m10 0h30m10 0h20m760 0h10M250 745h10m280 0h10m310 0h10m10 0h20m220 0h20m20 0h10m10 0h10m240 0h10m120 0h10m60 0h10m80 0h10m60 0h10m10 0h20m40 0h10m20 0h30m820 0h30M510 755h10m20 0h10m10 0h20m310 0h10m240 0h10m420 0h20m30 0h20m90 0h20m50 0h20m90 0h10m60 0h10m770 0h20M200 765h20m30 0h10m40 0h10m210 0h10m30 0h10m50 0h10m160 0h10m10 0h10m60 0h20m260 0h10m60 0h10m330 0h10m50 0h20m80 0h20m50 0h20m80 0h20m60 0h10m10 0h20m160 0h20m20 0h20M480 775h10m20 0h10m330 0h20m350 0h10m330 0h10m50 0h30m80 0h30m40 0h20m40 0h60m70 0h10m220 0h10M250 785h10m230 0h10m60 0h10m10 0h20m260 0h10m120 0h20m210 0h10m390 0h20m10 0h10m140 0h20m20 0h20m10 0h20m10 0h30m60 0h20m40 0h10m120 0h10m10 0h10m10 0h10M490 795h10m40 0h10m10 0h30m390 0h20m420 0h10m180 0h30m160 0h70m40 0h10m10 0h20m10 0h50m40 0h10m110 0h20m30 0h10M250 805h10m280 0h10m10 0h10m70 0h10m200 0h10m130 0h10m220 0h10m380 0h30m10 0h10m10 0h10m120 0h20m10 0h10m80 0h40m10 0h40m40 0h10m100 0h40m700 0h20M500 815h10m40 0h10m280 0h10m120 0h10m160 0h20m450 0h30m30 0h20m120 0h10m10 0h10m100 0h40m10 0h10m10 0h10m20 0h20m180 0h10m10 0h20m600 0h10m10 0h10M250 825h10m50 0h10m330 0h10m200 0h20m240 0h20m30 0h10m430 0h30m170 0h10m150 0h20m10 0h10m20 0h10m130 0h10m40 0h20m10 0h30m580 0h20M200 835h10m30 0h10m60 0h10m220 0h30m80 0h10m190 0h10m20 0h10m140 0h10m90 0h10m50 0h10m420 0h50m380 0h10m190 0h10m10 0h10m580 0h10M240 845h10m120 0h10m10 0h10m70 0h10m30 0h10m130 0h10m160 0h10m290 0h10m70 0h10m1010 0h10m20 0h20m580 0h10M400 855h10m90 0h10m40 0h20m80 0h20m180 0h10m160 0h10m140 0h10m90 0h10m520 0h10m390 0h10m40 0h10m550 0h40M410 865h10m30 0h20m20 0h10m20 0h20m10 0h10m20 0h20m40 0h10m200 0h10m230 0h10m100 0h10m520 0h10m50 0h10m410 0h10m10 0h10m40 0h10m470 0h10m30 0h30M240 875h10m140 0h10m10 0h10m30 0h20m40 0h20m10 0h10m70 0h10m30 0h10m50 0h20m90 0h10m10 0h10m150 0h10m10 0h10m690 0h50m30 0h10m680 0h20m20 0h10m40 0h10m190 0h10M200 885h10m280 0h20m20 0h10m160 0h10m30 0h10m290 0h20m50 0h10m600 0h60m30 0h10m10 0h10m430 0h10m210 0h20m10 0h30m10 0h20m190 0h20M210 895h10m20 0h10m160 0h10m10 0h20m30 0h10m10 0h10m10 0h10m230 0h10m30 0h10m20 0h10m20 0h10m150 0h30m670 0h20m20 0h30m700 0h40m20 0h10m70 0h10m120 0h40m10 0h10M440 905h10m90 0h10m260 0h10m200 0h10m10 0h10m650 0h20m70 0h20m740 0h10m30 0h20m140 0h20m10 0h10m10 0h10M520 915h10m120 0h10m260 0h10m60 0h10m10 0h10m20 0h20m600 0h50m20 0h10m60 0h20m720 0h50M490 925h10m30 0h10m240 0h10m160 0h10m80 0h20m60 0h10m480 0h10m20 0h10m10 0h10m10 0h20m100 0h20m670 0h20m30 0h50m100 0h10m10 0h50M150 935h10m230 0h10m70 0h20m30 0h10m150 0h10m60 0h20m30 0h10m100 0h10m20 0h20m80 0h10m80 0h10m460 0h100m110 0h10m670 0h10m10 0h10m10 0h60m100 0h40m30 0h10M200 945h10m220 0h10m70 0h10m170 0h10m60 0h10m190 0h10m140 0h10m10 0h10m450 0h20m20 0h10m20 0h20m10 0h10m30 0h10m60 0h20m30 0h10m10 0h10m620 0h30m20 0h20m120 0h10M390 955h10m10 0h10m10 0h10m90 0h10m240 0h10m180 0h10m70 0h10m10 0h10m100 0h10m390 0h10m90 0h20m20 0h20m60 0h20m40 0h10m10 0h10m420 0h10m170 0h10m10 0h20m30 0h20m110 0h40M190 965h10m320 0h10m40 0h10m330 0h10m40 0h10m80 0h10m40 0h20m10 0h10m40 0h20m200 0h10m170 0h20m130 0h20m50 0h20m60 0h10m410 0h20m180 0h20m40 0h10m120 0h10M360 975h10m180 0h10m170 0h10m200 0h10m90 0h10m90 0h10m30 0h10m10 0h20m350 0h40m60 0h10m50 0h10m60 0h10m10 0h10m480 0h10m110 0h30m30 0h30m50 0h10m30 0h20m40 0h30M180 985h10m160 0h10m120 0h10m10 0h10m40 0h30m340 0h20m10 0h10m80 0h20m100 0h20m10 0h10m360 0h30m10 0h20m180 0h30m50 0h10m170 0h10m100 0h20m10 0h20m190 0h80m10 0h30m10 0h10m50 0h10m10 0h10m20 0h40M340 995h10m10 0h10m10 0h10m100 0h10m220 0h10m160 0h30m130 0h10m30 0h20m10 0h10m40 0h20m370 0h70m20 0h80m70 0h30m40 0h20m270 0h50m10 0h10m10 0h10m170 0h20m10 0h20m10 0h20m10 0h30m40 0h10m10 0h10m40 0h10M400 1005h10m90 0h50m190 0h10m370 0h10m50 0h10m370 0h10m10 0h20m70 0h30m30 0h20m50 0h30m290 0h20m40 0h10m10 0h60m130 0h50m10 0h60m30 0h30m70 0h10m10 0h10m20 0h30m10 0h30m50 0h10M340 1015h10m160 0h10m530 0h10m20 0h10m30 0h60m470 0h10m10 0h20m50 0h10m40 0h20m310 0h20m70 0h50m120 0h10m20 0h50m110 0h10m110 0h10m50 0h10m40 0h10M900 1025h10m200 0h10m20 0h10m100 0h10m480 0h10m50 0h10m10 0h10m230 0h20m50 0h10m60 0h60m10 0h10m100 0h60m250 0h10m50 0h10M900 1035h10m40 0h10m790 0h10m30 0h10m80 0h10m170 0h20m70 0h10m10 0h20m30 0h60m40 0h10m40 0h10m10 0h60m190 0h10m10 0h20m70 0h10M180 1045h10m370 0h10m330 0h10m40 0h20m80 0h20m20 0h10m10 0h10m140 0h10m270 0h10m210 0h10m10 0h10m70 0h10m20 0h10m160 0h30m60 0h50m10 0h40m10 0h10m30 0h10m100 0h10m10 0h10m210 0h20m10 0h10M160 1055h10m10 0h10m180 0h10m660 0h10m10 0h50m120 0h10m10 0h20m260 0h20m210 0h20m70 0h10m200 0h30m30 0h10m30 0h40m60 0h40m110 0h10m220 0h40m10 0h20m30 0h10M180 1065h10m50 0h30m250 0h10m200 0h10m40 0h10m100 0h10m30 0h10m50 0h10m20 0h10m500 0h10m260 0h10m20 0h30m220 0h10m20 0h20m10 0h40m10 0h30m60 0h10m120 0h10m220 0h20m30 0h10M650 1075h20m210 0h20m110 0h10m160 0h20m330 0h10m270 0h40m240 0h20m10 0h40m10 0h10m10 0h10m10 0h10m60 0h10m20 0h10m60 0h20m240 0h10m40 0h10m30 0h10M390 1085h10m70 0h10m90 0h10m350 0h10m120 0h10m20 0h10m50 0h10m10 0h20m10 0h10m70 0h10m540 0h30m10 0h30m190 0h90m30 0h20m10 0h130m260 0h20m50 0h10m10 0h10M540 1095h10m100 0h10m30 0h10m10 0h10m20 0h30m20 0h10m60 0h20m10 0h10m10 0h10m30 0h10m20 0h10m70 0h20m10 0h10m110 0h10m620 0h40m220 0h10m40 0h60m70 0h40m40 0h20m250 0h20m40 0h10m10 0h20M580 1105h10m60 0h20m50 0h10m30 0h10m140 0h10m60 0h10m220 0h10m300 0h10m650 0h30m80 0h10m50 0h20m270 0h10m50 0h30M490 1115h10m40 0h10m30 0h40m20 0h10m70 0h20m20 0h10m10 0h20m100 0h10m190 0h10m410 0h10m10 0h10m630 0h30m80 0h10m40 0h10m290 0h10m40 0h40M410 1125h10m130 0h10m20 0h10m30 0h40m160 0h10m140 0h10m10 0h10m210 0h10m320 0h10m630 0h10m10 0h10m60 0h30m340 0h20m30 0h10m70 0h10M550 1135h10m90 0h10m40 0h10m20 0h10m60 0h10m140 0h20m40 0h20m30 0h30m400 0h30m650 0h20m10 0h10m70 0h30m340 0h40m50 0h20M400 1145h20m160 0h10m130 0h20m50 0h10m110 0h10m90 0h10m10 0h10m40 0h10m1090 0h20m10 0h30m10 0h10m10 0h30m450 0h10M560 1155h10m20 0h10m40 0h10m60 0h20m40 0h10m210 0h10m70 0h10m10 0h10m120 0h10m380 0h10m560 0h20m60 0h30m460 0h20M540 1165h10m20 0h40m10 0h40m120 0h10m130 0h10m80 0h10m30 0h10m10 0h40m170 0h20m850 0h10m10 0h30m70 0h30m440 0h20M620 1175h10m20 0h10m110 0h10m140 0h10m10 0h10m20 0h10m10 0h20m20 0h10m40 0h10m30 0h20m70 0h10m930 0h20m20 0h20m50 0h20m10 0h10m200 0h20m210 0h50M550 1185h10m20 0h10m280 0h20m30 0h10m100 0h10m10 0h10m10 0h10m10 0h10m50 0h10m350 0h10m30 0h20m10 0h10m80 0h20m460 0h10m30 0h20m20 0h30m210 0h20m10 0h10m220 0h50M370 1195h10m170 0h20m50 0h20m50 0h10m220 0h30m120 0h10m10 0h10m40 0h20m20 0h10m330 0h20m20 0h10m80 0h30m460 0h10m50 0h20m10 0h10m220 0h50m230 0h10M690 1205h10m10 0h10m10 0h10m10 0h10m10 0h20m60 0h10m10 0h10m80 0h10m20 0h10m100 0h20m400 0h10m110 0h10m10 0h10m540 0h20m220 0h60M630 1215h30m30 0h40m40 0h10m20 0h10m30 0h10m40 0h10m80 0h10m10 0h10m510 0h10m100 0h10m480 0h20m80 0h10m220 0h10m10 0h30M550 1225h10m60 0h20m70 0h10m150 0h10m100 0h20m640 0h10m460 0h10m250 0h20m60 0h50M660 1235h10m40 0h40m10 0h10m70 0h10m10 0h10m10 0h10m90 0h20m100 0h10m760 0h10m480 0h10m110 0h10M660 1245h10m30 0h10m10 0h10m140 0h10m40 0h10m210 0h10m10 0h10m680 0h10m20 0h10m210 0h20m40 0h20m40 0h10m240 0h20M610 1255h10m60 0h10m10 0h30m50 0h20m10 0h20m10 0h10m20 0h10m40 0h10m40 0h10m150 0h10m20 0h10m30 0h10m510 0h10m110 0h10m30 0h10m10 0h10m10 0h10m130 0h10m30 0h10m50 0h40m260 0h10m150 0h10M700 1265h20m190 0h10m130 0h10m30 0h10m630 0h10m90 0h20m10 0h10m10 0h20m10 0h40m140 0h20m40 0h10m10 0h10m30 0h10m400 0h10M640 1275h10m50 0h20m380 0h10m610 0h10m110 0h10m70 0h30m130 0h30m30 0h20m10 0h10M600 1285h10m20 0h10m70 0h10m110 0h20m40 0h20m60 0h20m30 0h10m850 0h10m40 0h20m150 0h10m10 0h10m10 0h40M630 1295h10m190 0h10m10 0h10m30 0h10m180 0h10m10 0h10m250 0h10m20 0h10m330 0h20m100 0h20m10 0h10m50 0h10m150 0h30m10 0h10M620 1305h10m50 0h10m110 0h10m10 0h20m30 0h10m20 0h10m50 0h10m50 0h10m320 0h20m20 0h20m300 0h10m10 0h30m90 0h10m90 0h10m130 0h40m10 0h10M630 1315h10m50 0h10m20 0h10m20 0h10m20 0h10m30 0h10m30 0h10m150 0h10m50 0h10m240 0h20m60 0h10m310 0h10m10 0h20m40 0h10m20 0h20m230 0h20m30 0h10m410 0h10M690 1325h30m110 0h10m150 0h10m90 0h10m190 0h10m400 0h10m10 0h20m10 0h20m20 0h20m30 0h10m110 0h10m80 0h10m10 0h10m10 0h10m40 0h10M720 1335h10m10 0h10m10 0h10m220 0h30m50 0h40m10 0h10m10 0h10m120 0h10m10 0h10m20 0h20m60 0h10m20 0h10m260 0h20m40 0h10m80 0h10m100 0h20m50 0h10m30 0h30m40 0h10m60 0h20M670 1345h10m50 0h10m40 0h10m30 0h10m10 0h10m230 0h10m10 0h10m210 0h10m70 0h20m10 0h20m270 0h10m10 0h30m10 0h20m10 0h20m40 0h10m90 0h40m10 0h20m50 0h10m30 0h30m50 0h20M750 1355h10m10 0h20m240 0h10m70 0h10m110 0h10m90 0h50m10 0h10m10 0h20m280 0h60m10 0h80m10 0h10m120 0h40m60 0h10m40 0h10m40 0h30M640 1365h10m20 0h10m40 0h10m20 0h10m10 0h10m210 0h10m140 0h10m110 0h10m20 0h10m50 0h30m340 0h10m20 0h30m10 0h20m10 0h20m10 0h20m10 0h10m100 0h10m20 0h10m80 0h10m40 0h10m10 0h10m20 0h20M760 1375h10m70 0h10m140 0h10m30 0h20m190 0h10m470 0h10m10 0h10m60 0h10m10 0h60m90 0h50m110 0h30m10 0h50m220 0h10M670 1385h10m80 0h10m10 0h10m220 0h10m270 0h20m200 0h10m190 0h20m10 0h10m50 0h30m10 0h50m100 0h10m10 0h10m100 0h20m20 0h10m20 0h20m10 0h10m190 0h50m40 0h60M690 1395h10m70 0h10m50 0h10m200 0h10m200 0h20m10 0h10m450 0h20m110 0h20m90 0h10m10 0h30m160 0h50m190 0h40m40 0h30M670 1405h10m70 0h10m70 0h20m120 0h10m40 0h10m10 0h20m30 0h10m150 0h10m240 0h20m10 0h10m10 0h10m140 0h20m30 0h10m30 0h20m60 0h10m90 0h10m30 0h50m130 0h60m160 0h10m20 0h10m10 0h10m10 0h40m10 0h10M670 1415h10m20 0h10m60 0h10m10 0h10m10 0h10m20 0h10m100 0h10m10 0h20m190 0h10m60 0h10m70 0h10m140 0h60m10 0h10m140 0h20m30 0h10m100 0h20m80 0h20m40 0h10m10 0h10m140 0h10m10 0h10m10 0h20m200 0h60M710 1425h10m240 0h10m220 0h10m40 0h20m220 0h60m20 0h20m60 0h10m10 0h10m10 0h10m10 0h10m50 0h20m40 0h20m10 0h60m40 0h20m60 0h30m150 0h10m20 0h10m160 0h10m20 0h60m10 0h20m30 0h10M670 1435h10m10 0h10m10 0h10m10 0h10m60 0h20m110 0h10m10 0h10m20 0h10m310 0h10m170 0h30m40 0h30m10 0h10m30 0h10m10 0h10m20 0h40m40 0h100m20 0h10m10 0h60m50 0h60m120 0h10m10 0h20m10 0h10m160 0h50m50 0h10M670 1445h10m30 0h10m70 0h10m150 0h30m20 0h10m290 0h10m130 0h20m20 0h30m50 0h30m10 0h30m60 0h10m10 0h10m10 0h10m90 0h20m20 0h30m10 0h20m10 0h20m50 0h30m10 0h20m110 0h80m10 0h10m40 0h10m100 0h50m30 0h10M710 1455h10m60 0h10m40 0h10m120 0h10m70 0h10m540 0h40m60 0h10m120 0h20m20 0h20m10 0h10m50 0h10m10 0h10m10 0h20m10 0h20m20 0h10m10 0h20m70 0h20m10 0h50m10 0h10m180 0h30M800 1465h10m10 0h20m30 0h10m90 0h10m80 0h20m10 0h10m50 0h10m410 0h30m240 0h10m30 0h10m70 0h50m20 0h40m30 0h10m80 0h40m220 0h30m10 0h20M660 1475h10m50 0h10m50 0h20m10 0h30m30 0h10m10 0h20m160 0h10m300 0h10m50 0h10m110 0h30m240 0h60m60 0h30m20 0h10m30 0h20m40 0h20m40 0h70m230 0h20m10 0h20M750 1485h20m20 0h10m10 0h20m50 0h20m20 0h10m160 0h10m10 0h10m40 0h10m190 0h20m150 0h10m10 0h50m10 0h10m210 0h30m140 0h10m30 0h30m40 0h10m40 0h50m240 0h10m10 0h30M790 1495h10m80 0h10m200 0h30m40 0h20m90 0h10m90 0h10m60 0h10m90 0h10m10 0h40m20 0h10m200 0h50m70 0h20m20 0h30m20 0h10m10 0h20m10 0h10m20 0h10m10 0h60M720 1505h10m40 0h10m20 0h10m10 0h10m30 0h10m80 0h10m150 0h20m10 0h10m150 0h10m220 0h30m10 0h30m40 0h10m210 0h10m90 0h20m20 0h10m40 0h50m30 0h20M720 1515h10m90 0h10m40 0h10m80 0h10m100 0h10m30 0h60m70 0h10m50 0h30m10 0h10m180 0h70m40 0h20m200 0h10m90 0h10m20 0h20m40 0h20m10 0h30m10 0h30M720 1525h10m90 0h10m40 0h20m180 0h10m20 0h20m40 0h10m70 0h20m60 0h10m20 0h20m160 0h50m80 0h10m200 0h10m90 0h50m30 0h40m10 0h20m10 0h20M850 1535h20m30 0h10m10 0h20m10 0h10m100 0h10m70 0h10m100 0h10m40 0h50m180 0h30m50 0h10m40 0h10m180 0h10m10 0h10m100 0h20m40 0h20m20 0h10m10 0h30M820 1545h10m90 0h10m30 0h10m40 0h10m30 0h10m20 0h10m10 0h10m70 0h10m90 0h10m10 0h10m30 0h20m110 0h10m30 0h30m80 0h10m30 0h10m160 0h10m30 0h20m130 0h30m20 0h60m10 0h10M810 1555h10m160 0h20m100 0h40m20 0h30m90 0h10m30 0h20m120 0h10m30 0h50m60 0h20m200 0h10m30 0h10m130 0h40m20 0h40M990 1565h10m10 0h20m10 0h10m40 0h10m60 0h30m50 0h10m30 0h20m10 0h10m10 0h10m160 0h20m10 0h20m50 0h30m30 0h10m160 0h20m160 0h10m10 0h10m10 0h10m10 0h20M760 1575h30m110 0h10m60 0h10m10 0h20m50 0h10m20 0h10m90 0h20m20 0h10m20 0h20m10 0h30m180 0h10m10 0h30m60 0h50m170 0h10m10 0h10m10 0h10m130 0h10m10 0h20m10 0h30M770 1585h10m60 0h10m10 0h10m20 0h10m40 0h10m60 0h10m20 0h20m120 0h10m90 0h10m10 0h10m200 0h50m40 0h10m10 0h40m160 0h10m10 0h10m30 0h10m110 0h20m10 0h10m20 0h30M760 1595h10m80 0h10m10 0h10m40 0h10m40 0h10m10 0h10m80 0h20m150 0h20m250 0h40m70 0h10m10 0h10m230 0h10m120 0h20m20 0h30M770 1605h10m30 0h10m150 0h10m80 0h10m110 0h10m320 0h40m10 0h10m10 0h10m40 0h10m10 0h10m230 0h10m110 0h60m20 0h10M750 1615h20m20 0h10m190 0h10m40 0h20m60 0h10m50 0h10m30 0h20m260 0h10m20 0h30m330 0h10m110 0h60m10 0h20M950 1625h10m30 0h10m20 0h10m160 0h20m20 0h10m250 0h30m10 0h30m10 0h10m320 0h10m90 0h30m20 0h10m10 0h40M930 1635h10m10 0h10m140 0h10m30 0h10m50 0h10m20 0h20m240 0h10m10 0h10m10 0h20m10 0h10m320 0h10m90 0h20m40 0h80M770 1645h10m30 0h10m30 0h10m10 0h10m130 0h10m300 0h10m150 0h10m50 0h10m340 0h20m70 0h10m100 0h10m10 0h10M700 1655h10m10 0h10m80 0h10m100 0h10m10 0h10m20 0h10m110 0h10m200 0h10m150 0h10m70 0h10m110 0h10m170 0h10m30 0h10m10 0h10m10 0h10m40 0h20m110 0h10m10 0h30M670 1665h20m30 0h10m400 0h10m90 0h10m50 0h20m160 0h20m20 0h10m10 0h10m120 0h10m250 0h10m40 0h10m110 0h10m10 0h40m90 0h10M730 1675h10m80 0h10m120 0h10m30 0h10m40 0h10m20 0h10m30 0h30m70 0h20m10 0h40m10 0h20m150 0h20m10 0h50m240 0h10m150 0h10m10 0h10m120 0h30M680 1685h10m90 0h10m40 0h10m100 0h10m10 0h10m70 0h10m20 0h20m10 0h10m110 0h10m50 0h10m10 0h30m160 0h20m320 0h20m110 0h20m100 0h30m30 0h20M760 1695h40m100 0h10m40 0h10m40 0h10m40 0h10m30 0h10m90 0h10m100 0h20m170 0h10m320 0h10m90 0h10m10 0h20m120 0h20m40 0h10M810 1705h20m70 0h10m70 0h10m20 0h20m80 0h10m60 0h20m10 0h20m270 0h20m380 0h60m130 0h10m40 0h10m150 0h20m10 0h10m10 0h10M800 1715h10m10 0h10m70 0h20m50 0h10m10 0h10m100 0h10m20 0h10m30 0h10m20 0h10m110 0h10m170 0h20m380 0h20m20 0h20m140 0h10m30 0h10m150 0h10M790 1725h10m120 0h10m40 0h10m130 0h10m50 0h10m130 0h10m180 0h20m370 0h20m190 0h10m10 0h20m150 0h10m10 0h10m20 0h10M780 1735h10m20 0h10m20 0h10m60 0h10m80 0h20m100 0h10m60 0h20m100 0h10m180 0h20m370 0h20m40 0h20m260 0h10m90 0h30M1110 1745h10m70 0h10m20 0h20m70 0h20m170 0h10m380 0h20m40 0h20M900 1755h10m190 0h10m10 0h30m20 0h10m40 0h10m10 0h10m60 0h10m170 0h20m10 0h10m10 0h10m230 0h10m110 0h10m30 0h20M1100 1765h10m40 0h10m50 0h10m40 0h10m10 0h10m20 0h20m160 0h20m260 0h10m20 0h10m90 0h20m20 0h20M1110 1775h10m20 0h10m60 0h10m30 0h10m20 0h10m10 0h10m10 0h30m140 0h50m230 0h50m80 0h10m10 0h10m10 0h10M1090 1785h10m30 0h20m70 0h10m40 0h30m10 0h20m130 0h10m10 0h10m10 0h10m300 0h10m90 0h10m20 0h10m30 0h10M1130 1795h10m10 0h20m60 0h10m10 0h20m50 0h40m90 0h10m290 0h20m30 0h10m90 0h30m80 0h30m10 0h10m250 0h10M1180 1805h10m60 0h30m40 0h60m60 0h20m280 0h10m50 0h10m100 0h10m10 0h10m80 0h40m40 0h30m50 0h10M1250 1815h10m20 0h10m50 0h20m380 0h20m30 0h10m220 0h30m10 0h10m20 0h10m10 0h20m10 0h40m10 0h10m30 0h10M1170 1825h10m20 0h10m30 0h10m30 0h10m20 0h70m60 0h10m290 0h10m30 0h20m220 0h10m10 0h10m10 0h10m20 0h10m40 0h20m10 0h10m40 0h20m10 0h10M1170 1835h20m70 0h10m40 0h40m20 0h10m370 0h10m260 0h20m20 0h10m20 0h30m10 0h30m20 0h10m10 0h20m20 0h10M1100 1845h10m50 0h20m140 0h20m10 0h20m20 0h20m310 0h50m230 0h30m20 0h20m20 0h30m20 0h10m30 0h10m50 0h10M1110 1855h20m40 0h10m140 0h10m10 0h30m350 0h30m250 0h10m10 0h40m30 0h10m30 0h10M1150 1865h10m70 0h10m70 0h10m30 0h10m370 0h10m260 0h10M1220 1875h10m30 0h10m20 0h20m400 0h20m10 0h10m240 0h10M1250 1885h30m10 0h20m20 0h10m10 0h10m340 0h40m10 0h30M1240 1895h10m20 0h30m40 0h10m350 0h10m20 0h10m30 0h10m200 0h10M1140 1905h10m30 0h10m40 0h10m100 0h10m300 0h10m40 0h20m30 0h10m10 0h10m30 0h30m10 0h50m90 0h10M1140 1915h10m30 0h10m20 0h10m110 0h20m350 0h20m10 0h20m100 0h30m10 0h20m80 0h20M1180 1925h10m20 0h10m120 0h10m270 0h30m60 0h10m10 0h10m130 0h10m90 0h10m10 0h10M1200 1935h10m420 0h30m10 0h10m300 0h20m590 0h10M1200 1945h10m420 0h40m20 0h10m890 0h10M1640 1955h20m930 0h10M1650 1965h20m930 0h10M1400 1975h30m170 0h10m10 0h10m960 0h20M1390 1985h10m10 0h20m160 0h30m10 0h20m960 0h20M1390 1995h10m10 0h20m160 0h30m840 0h20m50 0h10M1400 2005h30m170 0h20m850 0h20m10 0h50M1400 2015h20m1060 0h10m10 0h20m20 0h10M1400 2025h30m140 0h10m890 0h10m10 0h30m10 0h20M1390 2035h20m160 0h10m900 0h20m30 0h30M1570 2045h10m910 0h10M1560 2055h10m920 0h10M1430 2065h10m1100 0h10M2540 2075h10M1550 2085h10m980 0h10M1550 2095h10m980 0h10m80 0h10M1550 2105h10m980 0h20m60 0h30M1550 2115h10m990 0h10m50 0h10m10 0h20M1540 2125h10m1050 0h50M1450 2135h10m1120 0h30m10 0h20M1460 2145h10m70 0h20m1030 0h50M1470 2155h10m50 0h30m1040 0h10M1500 2165h10m20 0h20M1550 2175h20"/>
<path stroke="#f6c49e" d="M320 395h10M300 415h10m20 0h10m100 0h10m70 0h20m10 0h10M440 425h10m20 0h10m70 0h10M310 435h10m10 0h10m100 0h10m100 0h20M320 445h10m110 0h30m10 0h20m20 0h10m50 0h10m40 0h10M470 455h10m60 0h20m60 0h30M310 465h10m10 0h10m130 0h10m150 0h30m110 0h10M300 475h10m180 0h10m70 0h10m40 0h10m10 0h10m10 0h10m50 0h10m10 0h10m10 0h20M340 485h20m230 0h10m110 0h20m20 0h10m20 0h10M550 495h10m10 0h30m220 0h10m10 0h20m50 0h10M450 505h10m10 0h10m290 0h10m140 0h10m100 0h10M310 515h10m130 0h10m290 0h10m220 0h10m110 0h10M300 525h10m230 0h10m120 0h40m400 0h10M340 535h10m300 0h10m20 0h10m20 0h10m20 0h20m30 0h10m40 0h10m250 0h10M590 545h20m50 0h10m80 0h20m320 0h10m130 0h10M370 555h10m20 0h20m160 0h10m10 0h10m60 0h10m40 0h10m30 0h20m70 0h10m220 0h30m80 0h10m330 0h20m10 0h20M600 565h10m50 0h10m150 0h10m50 0h20m330 0h10m290 0h30m140 0h10M360 575h10m60 0h10m140 0h10m170 0h20m40 0h10m10 0h20m650 0h20m20 0h20m10 0h20m40 0h10m50 0h10M430 585h10m150 0h10m10 0h10m20 0h10m120 0h20m60 0h10m640 0h60m20 0h10m110 0h10m80 0h10M590 595h10m20 0h10m120 0h20m30 0h10m50 0h10m650 0h10m10 0h20m90 0h10m40 0h20M280 605h20m50 0h20m230 0h10m30 0h10m230 0h10m630 0h40m10 0h10m130 0h10M310 615h10m460 0h10m730 0h20m10 0h40m120 0h10M290 625h10m10 0h10m270 0h10m190 0h20m530 0h10m190 0h50m50 0h10m210 0h10M290 635h10m120 0h10m190 0h20m20 0h10m120 0h10m20 0h10m40 0h10m440 0h30m190 0h40m60 0h20m40 0h40M300 645h10m90 0h10m10 0h10m210 0h20m130 0h20m10 0h10m30 0h10m450 0h30m200 0h10m70 0h50m30 0h20M380 655h10m20 0h10m230 0h10m150 0h10m10 0h10m90 0h10m370 0h30m300 0h70M290 665h10m70 0h10m20 0h10m150 0h20m20 0h10m20 0h20m190 0h40m370 0h10m30 0h20m20 0h10m300 0h50m1230 0h10m20 0h10M600 675h10m220 0h10m10 0h30m410 0h10m30 0h10m300 0h20m1270 0h10M590 685h10m10 0h20m270 0h10m370 0h10m40 0h10m310 0h10M540 695h10m50 0h10m10 0h20m280 0h10m10 0h10m250 0h10m80 0h20M280 705h10m220 0h10m90 0h10m10 0h10m200 0h10m40 0h10m300 0h10m100 0h20M270 715h20m230 0h20m10 0h10m640 0h10M510 725h20m10 0h10m10 0h10m340 0h10m260 0h10M500 735h10m10 0h20m320 0h10m50 0h30m220 0h10m700 0h30m10 0h10m30 0h10M500 745h10m40 0h10m1270 0h40m10 0h20m30 0h50M480 755h30m40 0h10m1260 0h10m20 0h60m10 0h60M310 765h10m180 0h10m30 0h10m60 0h10m530 0h10m660 0h20m10 0h50m20 0h60M250 775h10m50 0h20m200 0h20m40 0h10m20 0h10m1190 0h40m60 0h70M320 785h10m110 0h10m30 0h10m20 0h20m10 0h10m330 0h10m930 0h20m20 0h10m60 0h60M250 795h10m240 0h10m10 0h20m100 0h10m350 0h10m910 0h10m20 0h10M430 805h20m30 0h30m80 0h10m400 0h10m950 0h10M250 815h10m170 0h30m30 0h10m60 0h10m80 0h10m200 0h10m290 0h10m1740 0h10M330 825h10m60 0h10m90 0h10m40 0h10m290 0h10m290 0h10m20 0h10m450 0h20m1220 0h10m20 0h20M320 835h20m140 0h10m1770 0h10m600 0h10m30 0h20M330 845h10m120 0h10m30 0h10m130 0h10m160 0h10m10 0h10m330 0h30m1660 0h20M390 855h10m10 0h10m70 0h10m10 0h10m80 0h10m420 0h10m150 0h10m1660 0h10M420 865h10m80 0h10m40 0h10m40 0h20m30 0h10m130 0h10m50 0h10m140 0h20m240 0h10m1550 0h20M250 875h10m180 0h10m40 0h10m130 0h10m10 0h10m360 0h10m1770 0h40M240 885h20m400 0h10m40 0h10m60 0h10m10 0h10m20 0h10m10 0h10m170 0h10m1540 0h20m190 0h60M200 895h10m180 0h10m110 0h10m120 0h10m100 0h10m10 0h10m30 0h10m920 0h20m770 0h20m10 0h50m190 0h10m10 0h40M210 905h20m10 0h10m140 0h10m390 0h20m220 0h10m10 0h10m660 0h20m10 0h40m710 0h50m10 0h30m180 0h10m10 0h10m10 0h20M380 915h10m140 0h10m240 0h10m210 0h10m10 0h10m680 0h20m50 0h20m700 0h40m220 0h10m10 0h10m10 0h20M200 925h20m10 0h20m290 0h10m190 0h10m10 0h10m240 0h10m630 0h10m10 0h10m20 0h50m40 0h10m710 0h30m220 0h10m10 0h10M170 935h10m30 0h30m220 0h10m20 0h10m280 0h10m130 0h10m190 0h10m570 0h50m30 0h30m690 0h10m10 0h10m200 0h30m10 0h10M170 945h20m20 0h10m10 0h10m140 0h10m50 0h10m50 0h10m210 0h10m10 0h10m160 0h20m680 0h20m10 0h20m20 0h10m10 0h30m10 0h10m30 0h20m910 0h50m10 0h10m120 0h20M170 955h10m200 0h10m10 0h10m10 0h10m10 0h10m90 0h10m190 0h10m150 0h10m180 0h10m490 0h90m20 0h20m20 0h20m30 0h10m930 0h10m140 0h10M380 965h10m40 0h30m40 0h10m50 0h10m170 0h10m220 0h10m620 0h10m40 0h10m10 0h60m20 0h10m30 0h10m900 0h20m60 0h10M370 975h20m100 0h10m60 0h10m10 0h10m150 0h10m200 0h10m40 0h10m20 0h10m10 0h10m20 0h20m50 0h10m450 0h10m30 0h10m20 0h20m10 0h20m10 0h30m930 0h20m30 0h10m10 0h20m20 0h10M170 985h10m180 0h20m110 0h10m40 0h10m180 0h10m200 0h10m80 0h10m20 0h20m60 0h20m430 0h10m20 0h130m10 0h10m10 0h20m810 0h10m10 0h20m40 0h30m30 0h40m10 0h20M310 995h10m10 0h10m10 0h10m30 0h10m10 0h10m80 0h10m20 0h20m180 0h10m330 0h20m60 0h10m570 0h40m10 0h20m600 0h20m80 0h10m80 0h10m10 0h40m10 0h30m10 0h60m10 0h60M310 1005h10m40 0h10m10 0h20m10 0h10m310 0h10m310 0h10m90 0h20m580 0h10m10 0h30m640 0h10m70 0h20m40 0h30m20 0h10m10 0h10m10 0h20m70 0h10m10 0h20M180 1015h10m120 0h10m30 0h10m10 0h10m70 0h10m30 0h10m20 0h10m1220 0h40m600 0h20m50 0h10m10 0h20m10 0h10m10 0h40m10 0h10m40 0h60m70 0h10M160 1025h10m170 0h10m150 0h10m520 0h10m50 0h20m640 0h10m10 0h30m640 0h30m50 0h20m20 0h30m30 0h10m10 0h50m70 0h10M170 1035h10m320 0h10m400 0h10m20 0h10m10 0h10m60 0h10m720 0h30m660 0h10m70 0h10m40 0h30m20 0h10m10 0h10m100 0h10m20 0h10M190 1045h10m720 0h10m40 0h20m50 0h10m20 0h10m690 0h10m90 0h20m380 0h10m160 0h10m120 0h40m20 0h20m100 0h10m30 0h10M260 1055h10m110 0h20m110 0h20m150 0h10m290 0h10m40 0h10m10 0h10m800 0h20m10 0h10m520 0h20m130 0h20m40 0h10m110 0h10M190 1065h10m240 0h10m550 0h10m40 0h10m20 0h10m10 0h30m730 0h10m10 0h20m230 0h10m40 0h10m230 0h10m150 0h20m10 0h30m100 0h10M170 1075h10m40 0h30m200 0h10m10 0h20m30 0h10m140 0h10m400 0h20m20 0h10m720 0h40m220 0h10m40 0h10m10 0h10m10 0h10m190 0h20m180 0h10m20 0h10M230 1085h10m160 0h10m30 0h10m200 0h10m10 0h10m180 0h20m40 0h10m200 0h20m710 0h10m310 0h30m170 0h20m10 0h10m160 0h20m10 0h20m100 0h10M390 1095h30m10 0h10m220 0h10m210 0h10m220 0h20m40 0h10m20 0h10m1000 0h70m40 0h20m40 0h10m200 0h30m110 0h10M390 1105h10m20 0h10m160 0h10m190 0h10m80 0h20m30 0h10m160 0h10m1100 0h10m20 0h10m10 0h30m10 0h20m10 0h20m30 0h10m190 0h60M410 1115h30m60 0h10m10 0h10m20 0h10m10 0h10m50 0h10m10 0h10m90 0h10m40 0h10m110 0h30m130 0h20m1110 0h40m20 0h20m10 0h40m10 0h50m190 0h10m30 0h10m90 0h20m10 0h10M380 1125h10m40 0h10m150 0h10m110 0h10m10 0h10m190 0h10m60 0h10m60 0h20m1120 0h10m20 0h30m30 0h60m20 0h20m230 0h10m60 0h20m10 0h40M450 1135h10m30 0h10m70 0h20m320 0h10m50 0h20m100 0h10m100 0h20m990 0h70m30 0h10m20 0h20m270 0h20m40 0h10m20 0h20m20 0h10M390 1145h10m70 0h20m20 0h20m30 0h10m70 0h10m310 0h10m10 0h20m40 0h10m10 0h10m20 0h10m1140 0h10m10 0h10m30 0h30m170 0h10m120 0h60m40 0h20M410 1155h10m90 0h20m50 0h10m390 0h10m70 0h10m40 0h10m90 0h10m1080 0h30m160 0h10m10 0h20m110 0h10m20 0h10m40 0h30M550 1165h10m130 0h10m10 0h10m40 0h20m180 0h10m10 0h20m30 0h20m10 0h10m1090 0h10m90 0h10m30 0h20m150 0h10m10 0h40m200 0h10m20 0h10M350 1175h10m180 0h20m10 0h10m30 0h10m140 0h10m190 0h10m10 0h10m20 0h10m50 0h10m80 0h10m30 0h10m960 0h20m90 0h10m190 0h20m20 0h10M530 1185h10m210 0h10m20 0h10m150 0h20m10 0h30m20 0h10m50 0h10m20 0h10m10 0h10m30 0h30m960 0h10m10 0h10m70 0h30m170 0h10m20 0h10m10 0h20M360 1195h10m200 0h10m120 0h10m30 0h10m20 0h20m90 0h10m60 0h20m40 0h10m10 0h10m1120 0h40m40 0h20m190 0h10m50 0h20m200 0h10m10 0h30M580 1205h10m60 0h10m20 0h10m70 0h10m170 0h20m40 0h10m1130 0h10m40 0h20m20 0h20m110 0h10m10 0h10m40 0h20m270 0h50M540 1215h10m30 0h10m140 0h10m110 0h10m20 0h10m80 0h10m1160 0h10m50 0h20m10 0h10m120 0h30m30 0h30m50 0h10m220 0h40M580 1225h20m40 0h10m70 0h10m120 0h10m1260 0h50m20 0h10m10 0h30m120 0h10m30 0h10m20 0h20m50 0h10m210 0h10m10 0h10M570 1235h10m20 0h20m20 0h20m10 0h10m20 0h10m80 0h20m40 0h10m110 0h10m1130 0h80m10 0h30m140 0h20m10 0h10m20 0h50m10 0h20m90 0h10m10 0h10m120 0h10M580 1245h10m20 0h10m30 0h10m30 0h10m10 0h10m10 0h10m10 0h10m10 0h30m30 0h10m10 0h20m130 0h10m140 0h10m980 0h20m20 0h40m130 0h30m30 0h60m20 0h10m110 0h30M650 1255h30m90 0h10m50 0h10m90 0h10m200 0h20m950 0h10m20 0h20m40 0h10m10 0h20m20 0h10m10 0h10m110 0h20m10 0h30m10 0h20m110 0h20m10 0h30M790 1265h30m20 0h10m130 0h10m10 0h10m20 0h20m1090 0h10m40 0h10m20 0h20m30 0h20m120 0h10m30 0h10m10 0h20m120 0h10m10 0h30M580 1275h10m20 0h10m170 0h10m20 0h10m50 0h10m30 0h10m60 0h40m10 0h10m840 0h10m10 0h10m190 0h30m50 0h10m10 0h30m20 0h20m330 0h40M610 1285h10m150 0h10m40 0h10m40 0h10m80 0h10m920 0h40m180 0h10m60 0h30m20 0h10m10 0h20m360 0h10M690 1295h40m70 0h20m20 0h10m20 0h20m20 0h10m30 0h10m60 0h10m40 0h10m300 0h10m500 0h10m30 0h10m210 0h30m410 0h10M600 1305h10m120 0h20m20 0h20m70 0h10m10 0h10m170 0h20m290 0h20m470 0h30m50 0h10m200 0h10m400 0h40M740 1315h10m40 0h10m90 0h10m160 0h20m270 0h60m330 0h10m110 0h30m60 0h10m200 0h10m30 0h10m360 0h10m10 0h10M720 1325h10m30 0h10m110 0h10m10 0h10m70 0h10m40 0h10m290 0h10m10 0h60m330 0h10m100 0h30m70 0h10m100 0h10m80 0h10m50 0h30m310 0h40M660 1335h10m60 0h10m10 0h10m10 0h10m250 0h10m10 0h10m280 0h60m320 0h40m100 0h20m160 0h30m80 0h10m40 0h10m20 0h10m320 0h20M660 1345h10m100 0h10m30 0h10m10 0h10m170 0h30m10 0h20m50 0h10m200 0h70m330 0h10m300 0h50m70 0h50m20 0h20m310 0h20m30 0h10m40 0h10M660 1355h10m70 0h10m40 0h20m30 0h30m140 0h20m10 0h20m10 0h30m20 0h20m740 0h20m60 0h40m40 0h10m40 0h10m60 0h40m30 0h20m310 0h20m30 0h30M850 1365h10m150 0h10m40 0h10m30 0h10m10 0h10m600 0h20m60 0h10m70 0h10m100 0h20m10 0h30m20 0h10m10 0h10m60 0h10m10 0h20m20 0h20m170 0h10m70 0h10m10 0h10m10 0h10m10 0h40m10 0h20m130 0h20M730 1375h10m10 0h10m10 0h20m180 0h20m120 0h40m140 0h10m430 0h10m60 0h10m10 0h10m60 0h10m70 0h10m50 0h20m60 0h10m50 0h10m50 0h20m160 0h40m10 0h10m20 0h60m10 0h20m30 0h20M640 1385h10m10 0h10m60 0h10m10 0h10m110 0h10m10 0h20m70 0h20m30 0h20m70 0h20m590 0h10m150 0h10m70 0h20m30 0h30m50 0h20m20 0h20m10 0h20m20 0h10m10 0h20m160 0h10m50 0h10m20 0h10m60 0h20M660 1395h10m70 0h10m30 0h10m50 0h10m10 0h10m190 0h10m20 0h20m20 0h10m570 0h30m210 0h30m50 0h20m50 0h40m30 0h20m50 0h10m160 0h10m50 0h40m30 0h40m10 0h10M680 1405h10m90 0h20m260 0h20m30 0h10m600 0h30m130 0h10m10 0h10m40 0h20m90 0h10m40 0h20m50 0h10m130 0h10m120 0h10m10 0h10m60 0h40M660 1415h10m20 0h10m60 0h10m30 0h10m360 0h10m560 0h10m130 0h50m20 0h10m70 0h10m10 0h20m180 0h30m10 0h10m10 0h20m60 0h20m120 0h60M660 1425h20m50 0h10m30 0h10m30 0h20m10 0h10m140 0h20m540 0h10m150 0h50m150 0h40m110 0h20m110 0h10m50 0h20m10 0h50m60 0h20m120 0h30m10 0h20M660 1435h10m160 0h10m100 0h10m50 0h20m620 0h10m10 0h20m40 0h40m100 0h20m10 0h10m170 0h10m90 0h20m60 0h90m60 0h10m110 0h10m20 0h20M800 1445h10m10 0h10m90 0h10m10 0h10m80 0h10m590 0h60m10 0h10m10 0h10m10 0h90m20 0h20m170 0h10m20 0h40m10 0h10m30 0h20m80 0h10m10 0h20m10 0h10m10 0h10m60 0h30M800 1455h30m90 0h20m10 0h10m40 0h10m40 0h10m570 0h20m10 0h30m10 0h40m50 0h10m10 0h10m20 0h20m20 0h10m150 0h20m40 0h20m40 0h10m80 0h10m10 0h10m10 0h20m10 0h20m50 0h10m30 0h20m60 0h20M670 1465h10m40 0h10m40 0h10m30 0h10m60 0h10m40 0h10m90 0h30m540 0h30m10 0h10m20 0h40m110 0h20m10 0h30m230 0h10m40 0h30m40 0h40m50 0h10m110 0h10m60 0h20M670 1475h10m20 0h20m20 0h20m10 0h10m100 0h10m70 0h10m90 0h10m520 0h60m20 0h10m20 0h10m270 0h20m120 0h10m20 0h10m70 0h20m200 0h10m50 0h10M670 1485h10m30 0h10m50 0h10m50 0h10m20 0h10m80 0h10m640 0h10m10 0h40m160 0h10m30 0h10m90 0h40m120 0h40m50 0h10m10 0h10m190 0h20m10 0h10m30 0h10M690 1495h20m60 0h20m30 0h10m10 0h30m90 0h10m100 0h20m190 0h10m350 0h20m150 0h10m150 0h20m210 0h10m30 0h10m190 0h20m10 0h10M690 1505h10m10 0h10m70 0h10m70 0h10m190 0h20m10 0h10m130 0h20m30 0h10m350 0h10m160 0h40m120 0h20m150 0h30M770 1515h20m70 0h10m10 0h10m200 0h10m150 0h10m20 0h20m360 0h10m170 0h20m110 0h20m80 0h10m70 0h20M680 1525h10m20 0h10m10 0h10m20 0h10m70 0h10m40 0h10m70 0h10m80 0h10m50 0h20m160 0h20m260 0h20m70 0h10m140 0h20m10 0h20M680 1535h10m140 0h10m50 0h10m40 0h10m20 0h10m50 0h10m80 0h20m130 0h20m270 0h50m60 0h10m130 0h40m10 0h10m190 0h20m50 0h40M690 1545h10m10 0h10m190 0h10m10 0h30m10 0h20m70 0h10m60 0h10m30 0h10m70 0h10m10 0h10m30 0h20m210 0h80m50 0h20m130 0h10m10 0h30m180 0h20m60 0h10M730 1555h20m20 0h10m50 0h10m120 0h10m30 0h10m50 0h10m180 0h10m10 0h10m10 0h30m230 0h60m60 0h30m40 0h10m10 0h10m50 0h10m10 0h30m180 0h20m40 0h50M750 1565h10m50 0h10m70 0h10m60 0h10m80 0h10m130 0h10m60 0h10m30 0h10m10 0h10m190 0h10m20 0h10m10 0h30m70 0h30m20 0h30m30 0h10m20 0h20m20 0h20m150 0h10m60 0h20m40 0h10M750 1575h10m30 0h10m10 0h10m90 0h10m40 0h10m40 0h10m30 0h10m20 0h10m150 0h10m30 0h10m220 0h10m30 0h60m50 0h80m30 0h20m30 0h10m10 0h10m10 0h10m150 0h10m60 0h20m60 0h10M760 1585h10m20 0h10m30 0h10m10 0h10m10 0h10m70 0h10m280 0h10m10 0h10m290 0h40m10 0h10m70 0h40m100 0h10m10 0h30m140 0h10m60 0h20m60 0h10M750 1595h10m10 0h10m20 0h10m30 0h10m40 0h10m30 0h10m40 0h10m570 0h30m10 0h30m30 0h30m10 0h30m30 0h10m40 0h30m10 0h40m200 0h20m70 0h10M750 1605h20m20 0h10m180 0h10m560 0h10m10 0h10m10 0h40m30 0h10m10 0h20m10 0h20m10 0h30m30 0h40m20 0h10m10 0h10m210 0h10m80 0h10M980 1615h10m570 0h50m10 0h70m10 0h20m30 0h20m30 0h40m40 0h10m210 0h30m10 0h10m30 0h20M960 1625h30m10 0h10m30 0h20m120 0h10m370 0h10m10 0h30m10 0h30m10 0h10m30 0h10m20 0h40m10 0h10m20 0h30m40 0h20m130 0h20m60 0h10m60 0h10m10 0h10M760 1635h10m190 0h10m10 0h10m10 0h10m40 0h10m490 0h10m10 0h110m40 0h10m10 0h10m40 0h10m10 0h30m40 0h10m120 0h20m10 0h10m80 0h20m50 0h10M750 1645h20m90 0h10m70 0h20m40 0h10m50 0h10m480 0h20m10 0h50m20 0h40m30 0h10m40 0h30m10 0h10m10 0h30m20 0h10m100 0h20m40 0h40m10 0h10m10 0h40M730 1655h10m10 0h10m100 0h20m50 0h10m10 0h10m20 0h10m80 0h10m20 0h10m510 0h10m10 0h20m60 0h20m30 0h10m10 0h30m10 0h10m10 0h10m30 0h10m90 0h10m60 0h40m10 0h10m30 0h10m60 0h20m10 0h10M640 1665h10m10 0h10m20 0h20m250 0h10m90 0h20m10 0h10m10 0h10m190 0h10m220 0h10m70 0h40m10 0h60m20 0h20m10 0h30m20 0h20m30 0h40m60 0h10m80 0h20m10 0h10m40 0h10m60 0h20m10 0h20M650 1675h10m20 0h10m250 0h10m10 0h10m10 0h10m60 0h10m20 0h10m570 0h120m20 0h10m20 0h20m30 0h20m20 0h20m10 0h10m10 0h30m70 0h20m60 0h10m60 0h10m10 0h20M760 1685h10m260 0h10m10 0h20m50 0h10m140 0h10m10 0h10m210 0h30m110 0h10m10 0h30m10 0h80m30 0h10m20 0h10m30 0h70m20 0h10m80 0h10m80 0h10m50 0h30m30 0h10M820 1695h20m150 0h10m10 0h10m20 0h10m20 0h10m40 0h10m160 0h10m200 0h40m130 0h30m10 0h10m20 0h40m50 0h20m30 0h10m20 0h10m10 0h10m20 0h30m80 0h10m70 0h10m50 0h10m20 0h10m20 0h100m10 0h10M890 1705h10m60 0h20m10 0h10m30 0h10m10 0h10m60 0h10m70 0h10m100 0h10m200 0h10m140 0h30m40 0h40m30 0h30m10 0h10m20 0h20m60 0h10m100 0h20m60 0h20m20 0h20m70 0h20m40 0h10m10 0h10M960 1715h10m10 0h10m10 0h30m80 0h10m100 0h10m60 0h10m10 0h10m200 0h10m140 0h20m140 0h40m10 0h20m60 0h20m80 0h40m90 0h10m50 0h50m50 0h30M770 1725h20m10 0h10m90 0h10m50 0h10m20 0h10m10 0h20m70 0h10m80 0h40m290 0h10m220 0h30m10 0h10m10 0h10m20 0h20m10 0h10m80 0h10m110 0h20m40 0h20m30 0h10m10 0h10m60 0h10m10 0h10m40 0h30M750 1735h20m20 0h20m90 0h10m110 0h20m70 0h10m170 0h20m210 0h30m200 0h30m100 0h10m190 0h70m40 0h40m50 0h50M890 1745h20m110 0h10m70 0h10m130 0h20m10 0h10m20 0h10m200 0h40m220 0h20m10 0h10m10 0h10m140 0h10m110 0h10m20 0h20m70 0h20m100 0h20M1250 1755h20m30 0h10m200 0h10m10 0h10m10 0h20m190 0h20m10 0h30m60 0h20m60 0h10m230 0h10m40 0h10m100 0h10M1090 1765h10m20 0h10m110 0h20m40 0h10m200 0h50m200 0h10m10 0h20m10 0h20m60 0h10m60 0h30m30 0h10m10 0h10m30 0h10m20 0h10m30 0h20m20 0h10m40 0h10M1260 1775h20m260 0h10m10 0h20m170 0h20m50 0h10m60 0h10m50 0h10m10 0h10m30 0h40m30 0h10m20 0h10m30 0h10m10 0h10m40 0h10m30 0h10m40 0h10M1080 1785h10m140 0h10m10 0h20m60 0h10m150 0h10m10 0h30m10 0h20m180 0h20m50 0h10m10 0h10m50 0h10m40 0h10m30 0h10m10 0h40m10 0h10m30 0h20m20 0h30m10 0h20m50 0h20m40 0h30M1070 1795h20m50 0h10m120 0h20m170 0h40m50 0h20m170 0h10m60 0h40m40 0h10m40 0h20m10 0h40m30 0h10m10 0h20m10 0h40m20 0h60m20 0h50m20 0h10m10 0h20m10 0h10m10 0h10M1460 1805h10m70 0h20m170 0h10m70 0h10m30 0h60m10 0h10m10 0h80m40 0h40m30 0h50m10 0h160M1260 1815h10m280 0h10m150 0h30m60 0h30m30 0h10m90 0h10m10 0h20m10 0h10m50 0h20m90 0h10m10 0h30m10 0h60m20 0h10m70 0h10M1450 1825h10m260 0h20m70 0h10m40 0h10m130 0h20m10 0h10m30 0h20m90 0h40m20 0h10m10 0h10m40 0h10M1190 1835h10m230 0h20m260 0h40m30 0h30m190 0h20m50 0h20m30 0h10m60 0h10m20 0h10m20 0h10m40 0h10M1180 1845h10m190 0h10m20 0h30m260 0h20m50 0h20m70 0h10m120 0h10m70 0h20m30 0h20m10 0h10m90 0h10m50 0h10m10 0h10M1370 1855h20m310 0h20m30 0h30m210 0h10m140 0h10m150 0h40M1360 1865h10m310 0h10m20 0h20m10 0h30m100 0h10m110 0h10m310 0h20M1360 1875h20m310 0h20m20 0h10m10 0h30m90 0h10m430 0h10M1150 1885h20m40 0h10m140 0h10m280 0h10m30 0h10m40 0h10m30 0h10m60 0h10m10 0h20m90 0h10m440 0h10m10 0h10M1140 1895h20m30 0h10m20 0h20m110 0h10m220 0h40m20 0h40m10 0h10m80 0h10m30 0h80M1200 1905h30m120 0h10m240 0h10m10 0h30m10 0h20m10 0h10m80 0h30m90 0h10m60 0h20M1220 1915h10m120 0h10m250 0h90m210 0h10m40 0h30M1190 1925h20m10 0h10m420 0h60m10 0h10m180 0h20m20 0h20m10 0h10m590 0h20M1340 1935h10m260 0h20m30 0h10m10 0h50m220 0h30m590 0h20M1610 1945h20m40 0h20m10 0h20m250 0h20m580 0h20M1610 1955h30m20 0h40m870 0h20M1350 1965h10m40 0h40m170 0h40m20 0h20m880 0h20M1380 1975h20m30 0h10m150 0h10m10 0h10m10 0h10m20 0h20m890 0h20M1380 1985h10m40 0h10m130 0h20m30 0h10m20 0h10m810 0h20m10 0h10m10 0h10m30 0h50M1570 1995h20m890 0h20m10 0h20m10 0h30m40 0h10M1370 2005h10m10 0h10m30 0h10m130 0h30m890 0h10m50 0h20M1390 2015h10m20 0h20m110 0h60m880 0h10m20 0h20m10 0h20M1390 2025h10m30 0h10m110 0h20m10 0h10m960 0h10M1410 2035h30m110 0h20M1420 2045h30m100 0h20m980 0h20M1410 2055h40m90 0h20m990 0h10M1440 2065h10m80 0h20m10 0h10m980 0h20M1440 2075h20m80 0h30m980 0h10M1430 2085h20m80 0h20m1000 0h20m70 0h10M1430 2095h20m90 0h10m1000 0h20m50 0h10m10 0h10M1430 2105h40m30 0h10m30 0h10m1010 0h10m30 0h20M1430 2115h80m20 0h20m1010 0h50M1440 2125h20m10 0h40m20 0h10m1030 0h30M1440 2135h10m20 0h20m10 0h10m10 0h30m1060 0h10m20 0h10M1470 2145h70m1040 0h10M1480 2155h50m1060 0h10M1490 2165h10m10 0h20M1530 2175h20"/>
<path stroke="#f6b08e" d="M300 405h20m10 0h10M300 425h20m10 0h10m190 0h20m30 0h10M300 435h10m10 0h10m200 0h10m80 0h10M310 445h10m30 0h10m70 0h10m30 0h10m30 0h10m30 0h10m10 0h10m10 0h10M310 455h10m20 0h20m70 0h10m40 0h10m120 0h10m90 0h10M300 465h10m40 0h10m70 0h10m40 0h10m10 0h20m20 0h10m40 0h10M340 475h20m200 0h10m20 0h10m50 0h10m90 0h10M440 485h10m40 0h20m10 0h10m10 0h20m40 0h20m10 0h10m10 0h10m100 0h20m10 0h20m40 0h20m10 0h10M450 495h10m80 0h10m150 0h10m30 0h10m20 0h10m10 0h10m60 0h30M330 505h10m200 0h10m140 0h20m50 0h10m40 0h10m50 0h10m30 0h10m40 0h20M320 515h10m310 0h10m40 0h10m10 0h10m160 0h20M310 525h20m120 0h20m60 0h10m100 0h10m10 0h10m60 0h10m130 0h10m260 0h10M320 535h10m220 0h10m100 0h20m1010 0h10M350 545h10m310 0h10m40 0h10m10 0h10m940 0h10M590 555h10m10 0h10m40 0h10m60 0h30m890 0h10m30 0h10M580 565h10m60 0h10m80 0h10m900 0h10m30 0h10M640 575h10m130 0h10m10 0h20m710 0h20m100 0h10M800 585h20m830 0h10m30 0h10M600 595h20m20 0h30m100 0h10m30 0h10m30 0h10m670 0h10m40 0h10m100 0h10M810 605h10m830 0h10m40 0h10M320 615h10m30 0h10m210 0h30m190 0h10m20 0h10m210 0h10m590 0h10m30 0h20M420 625h10m140 0h10m40 0h10m180 0h20m820 0h30m20 0h20M300 635h10m50 0h10m410 0h10m870 0h40M370 645h10m250 0h10m130 0h10m90 0h10m800 0h30M300 655h10m50 0h10m30 0h10m10 0h10m130 0h10m30 0h10m30 0h10M300 665h10m280 0h10m220 0h10m480 0h20M300 675h10m100 0h20m60 0h30m110 0h10m170 0h10m100 0h10m370 0h30M280 685h30m170 0h30m40 0h10m80 0h10m190 0h20m30 0h10m310 0h10m70 0h30M490 695h10m150 0h10m180 0h10m10 0h10m340 0h10m90 0h20M270 705h10m10 0h10m220 0h10m10 0h10m40 0h10m20 0h10m310 0h10M300 715h10m180 0h20m30 0h10m40 0h20m230 0h10m20 0h20M270 725h10m210 0h10m30 0h10m60 0h10m250 0h20m40 0h20M260 735h10m10 0h10m220 0h10m70 0h10m520 0h10M260 745h20m210 0h10m20 0h10M260 755h10m50 0h10m130 0h20m1350 0h20M450 765h10m10 0h10m10 0h10m30 0h10m10 0h10m40 0h10m1230 0h10M300 775h10m160 0h10m40 0h10m20 0h10m50 0h10M310 785h10m210 0h10m90 0h10M290 795h10m130 0h10m10 0h20m10 0h10m140 0h10M300 805h10m140 0h30m70 0h10m10 0h20M300 815h10m10 0h10m70 0h10m10 0h10m50 0h10m100 0h10m380 0h10M280 825h10m30 0h10m10 0h10m40 0h10m50 0h10m10 0h20m70 0h10m10 0h10m50 0h10m2240 0h20M300 835h10m30 0h10m40 0h30m10 0h10m10 0h10m40 0h10m320 0h10m20 0h10m300 0h20m1690 0h30M270 845h10m30 0h10m30 0h10m190 0h10m30 0h20m2270 0h10m20 0h10M340 855h10m30 0h10m60 0h10m120 0h10m250 0h10m2000 0h10m10 0h10M240 865h10m130 0h30m30 0h10m180 0h10m390 0h10m1810 0h20M190 875h10m180 0h10m10 0h10m90 0h10m130 0h10m150 0h10m10 0h10m10 0h10m1990 0h30M190 885h10m190 0h10m40 0h10m60 0h20m150 0h20m20 0h20m50 0h10m10 0h20m190 0h10M190 895h10m180 0h10m140 0h10m110 0h10m130 0h10m2070 0h10M230 905h10m140 0h10m140 0h10m110 0h10m90 0h10m20 0h10m950 0h10m1080 0h10m10 0h20m10 0h20m10 0h10m10 0h10M210 915h40m410 0h10m100 0h10m10 0h10m940 0h40m990 0h10m10 0h10m20 0h20m10 0h20m10 0h10M160 925h10m210 0h10m270 0h20m70 0h10m10 0h10m140 0h10m820 0h40m980 0h10m10 0h30m20 0h10m30 0h30M160 935h10m70 0h10m130 0h10m300 0h10m20 0h10m10 0h10m180 0h10m810 0h10m10 0h10m1000 0h10m50 0h10m30 0h20M190 945h10m40 0h10m200 0h20m1280 0h30m980 0h10m10 0h10m70 0h40M190 955h10m170 0h10m530 0h10m160 0h10m670 0h30m950 0h60m40 0h20m10 0h10M400 965h10m10 0h10m30 0h20m100 0h10m480 0h10m530 0h40m10 0h10m90 0h10m950 0h60m10 0h10m40 0h40M210 975h10m170 0h10m40 0h20m110 0h10m380 0h10m10 0h20m20 0h10m30 0h10m550 0h30m10 0h10m30 0h10m60 0h10m10 0h10m920 0h30m10 0h10m20 0h20m40 0h10M960 985h20m10 0h10m80 0h10m660 0h10m10 0h10m940 0h30m40 0h10m20 0h30M400 995h10m140 0h10m180 0h10m180 0h20m10 0h10m50 0h30m10 0h10m60 0h10m20 0h10m600 0h10m910 0h10m60 0h10M170 1005h10m10 0h10m100 0h10m40 0h10m120 0h10m410 0h10m130 0h10m10 0h10m60 0h20m610 0h10m740 0h10m90 0h20m140 0h10m20 0h10M160 1015h10m130 0h10m10 0h10m30 0h10m10 0h20m80 0h10m410 0h10m40 0h10m1510 0h10m20 0h10m10 0h10m60 0h40m140 0h30M170 1025h20m90 0h10m40 0h10m10 0h10m60 0h10m20 0h10m20 0h10m440 0h10m30 0h10m60 0h20m20 0h10m670 0h10m700 0h50m20 0h20m30 0h30m10 0h10m130 0h30M160 1035h10m10 0h10m80 0h10m70 0h10m100 0h10m500 0h10m80 0h10m10 0h20m1390 0h10m10 0h20m10 0h40m30 0h20m140 0h20M160 1045h10m740 0h10m110 0h10m1410 0h10m20 0h10m10 0h30m20 0h20m40 0h20m130 0h20M220 1055h20m10 0h10m10 0h10m710 0h10m110 0h10m760 0h10m550 0h10m60 0h40m10 0h10m20 0h40M230 1065h10m80 0h10m20 0h40m70 0h10m40 0h10m150 0h10m330 0h10m70 0h10m770 0h10m630 0h70m20 0h10m140 0h10M180 1075h10m60 0h10m100 0h10m130 0h20m10 0h10m1880 0h20m80 0h20m20 0h40m10 0h20m110 0h10M180 1085h10m220 0h10m10 0h10m80 0h10m130 0h10m10 0h10m200 0h30m180 0h20m70 0h10m1200 0h10m130 0h10m20 0h10m20 0h10m130 0h30M380 1095h10m30 0h10m90 0h10m400 0h20m150 0h10m50 0h10m10 0h20m1190 0h30m110 0h10m40 0h10m30 0h10m110 0h20m30 0h10M440 1105h10m40 0h10m70 0h10m160 0h10m190 0h10m10 0h10m140 0h10m60 0h30m1010 0h20m10 0h10m60 0h10m40 0h10m10 0h30m310 0h60M450 1115h10m50 0h10m10 0h10m200 0h10m20 0h10m170 0h20m150 0h10m60 0h10m1050 0h20m130 0h10m150 0h10m10 0h10m10 0h30m120 0h10m10 0h20M420 1125h10m50 0h20m10 0h40m20 0h10m160 0h10m160 0h20m10 0h10m250 0h10m1010 0h20m120 0h20m20 0h10m10 0h10m150 0h50m90 0h10M390 1135h10m30 0h10m40 0h10m10 0h10m120 0h10m280 0h10m260 0h10m1120 0h20m20 0h40m80 0h30m110 0h10m70 0h20M450 1145h20m230 0h20m200 0h10m170 0h20m70 0h30m1110 0h30m30 0h10m80 0h20m10 0h30m80 0h10m60 0h40M390 1155h20m50 0h20m490 0h10m60 0h10m30 0h10m10 0h10m10 0h10m70 0h10m1120 0h30m20 0h10m80 0h20m10 0h10m20 0h10m80 0h20m10 0h20m10 0h20M380 1165h10m70 0h10m50 0h10m420 0h10m10 0h10m210 0h20m1110 0h10m10 0h10m110 0h10m10 0h10m40 0h10m80 0h40m10 0h60M360 1175h30m10 0h10m100 0h10m60 0h10m10 0h10m140 0h10m190 0h10m180 0h20m20 0h10m1110 0h30m120 0h30m50 0h10m130 0h40m10 0h10M350 1185h40m130 0h10m30 0h20m40 0h10m330 0h10m30 0h10m1160 0h10m110 0h30m70 0h10m10 0h10m10 0h30m70 0h10m90 0h10m80 0h10M380 1195h10m140 0h20m210 0h10m200 0h10m10 0h20m1140 0h10m100 0h40m10 0h40m10 0h50m20 0h20m210 0h20m30 0h20M360 1205h20m150 0h30m10 0h10m120 0h10m260 0h10m30 0h10m1130 0h40m60 0h20m30 0h10m10 0h10m40 0h10m10 0h40m80 0h10m130 0h10M550 1215h10m10 0h10m1570 0h50m40 0h10m40 0h20m40 0h10m30 0h30m90 0h10m10 0h10m130 0h10m10 0h40M540 1225h10m10 0h20m110 0h20m150 0h10m1300 0h20m10 0h10m30 0h10m100 0h10m30 0h10m10 0h20m80 0h10m70 0h20m10 0h30m40 0h30m10 0h10m10 0h10M390 1235h10m150 0h10m20 0h10m30 0h20m50 0h10m250 0h20m190 0h10m1020 0h10m30 0h10m10 0h10m30 0h30m20 0h20m50 0h20m80 0h10m60 0h20m10 0h10m10 0h40m10 0h20m10 0h20m10 0h10M600 1245h10m150 0h10m30 0h10m130 0h10m40 0h10m1120 0h20m90 0h20m20 0h50m20 0h10m30 0h30m90 0h20m60 0h30m30 0h20m40 0h10m20 0h30M590 1255h10m130 0h10m170 0h10m20 0h10m40 0h20m1110 0h20m70 0h10m20 0h10m20 0h10m10 0h10m40 0h40m10 0h10m20 0h10m60 0h20m150 0h10m70 0h20M560 1265h30m20 0h10m20 0h10m70 0h10m40 0h10m110 0h20m10 0h20m20 0h10m1140 0h30m60 0h10m30 0h30m20 0h10m50 0h50m20 0h30m10 0h10m20 0h20m80 0h20m50 0h20M590 1275h20m10 0h10m90 0h20m20 0h10m10 0h10m10 0h20m80 0h20m40 0h30m1210 0h10m30 0h20m20 0h20m60 0h70m20 0h40m110 0h10m40 0h30M560 1285h10m20 0h10m20 0h10m100 0h10m10 0h10m30 0h30m90 0h10m10 0h10m10 0h10m1250 0h20m10 0h10m20 0h20m120 0h30m20 0h30m30 0h10m70 0h30m10 0h30M610 1295h20m120 0h30m120 0h10m20 0h10m100 0h20m840 0h10m10 0h10m250 0h40m10 0h50m100 0h10m10 0h30m10 0h10m60 0h10m30 0h40m10 0h20m20 0h20M550 1305h10m200 0h10m70 0h20m30 0h10m10 0h10m50 0h10m50 0h10m850 0h20m10 0h20m220 0h30m10 0h70m130 0h40m110 0h10m40 0h10m40 0h10M620 1315h10m10 0h20m100 0h10m60 0h30m10 0h20m20 0h10m60 0h10m40 0h10m850 0h10m20 0h10m10 0h10m200 0h10m10 0h30m10 0h50m40 0h10m110 0h10m10 0h20m80 0h20m20 0h10m10 0h10M620 1325h20m20 0h10m10 0h10m90 0h10m60 0h10m190 0h30m260 0h10m590 0h10m210 0h50m30 0h20m210 0h10m60 0h10m40 0h50m10 0h10M650 1335h10m170 0h30m110 0h20m50 0h10m10 0h10m810 0h10m60 0h10m200 0h40m40 0h10m200 0h10m90 0h10m20 0h70M740 1345h30m90 0h10m130 0h10m30 0h10m60 0h10m10 0h10m740 0h20m60 0h10m280 0h10m90 0h10m100 0h10m80 0h10m20 0h30m10 0h20m10 0h10m10 0h10m70 0h10M650 1355h10m170 0h10m160 0h10m50 0h10m830 0h10m140 0h40m160 0h10m40 0h10m20 0h30m90 0h30m40 0h10m20 0h10m20 0h30m30 0h20m90 0h20M650 1365h20m60 0h20m30 0h20m30 0h10m30 0h10m150 0h10m40 0h20m10 0h10m780 0h10m40 0h40m80 0h10m10 0h10m200 0h40m10 0h30m30 0h10m10 0h70m10 0h10m10 0h10m10 0h10m40 0h10m20 0h10m10 0h10m80 0h20M630 1375h40m50 0h10m10 0h10m40 0h10m20 0h10m40 0h10m70 0h20m30 0h30m20 0h30m860 0h10m10 0h10m80 0h20m10 0h30m200 0h60m20 0h10m70 0h20m60 0h10m20 0h30m20 0h10m100 0h30M650 1385h10m160 0h40m20 0h10m70 0h10m80 0h10m10 0h10m10 0h10m800 0h10m30 0h30m80 0h50m150 0h10m40 0h60m30 0h20m70 0h20m90 0h40m100 0h30M650 1395h10m10 0h10m110 0h30m30 0h10m100 0h20m10 0h10m30 0h10m10 0h10m10 0h10m30 0h10m770 0h10m10 0h10m10 0h20m100 0h50m40 0h30m80 0h20m20 0h50m50 0h20m170 0h10m10 0h30m110 0h10M650 1405h20m130 0h10m40 0h10m50 0h10m30 0h20m110 0h10m10 0h10m10 0h10m760 0h10m10 0h40m120 0h40m20 0h50m70 0h20m10 0h10m10 0h20m10 0h10m60 0h10m170 0h40M780 1415h10m60 0h10m50 0h10m800 0h20m190 0h20m120 0h30m20 0h70m90 0h10m10 0h10m20 0h10m250 0h10m10 0h10M720 1425h10m30 0h10m10 0h30m90 0h10m1170 0h70m10 0h30m80 0h10m50 0h10m260 0h10M650 1435h10m120 0h20m20 0h10m10 0h10m120 0h10m10 0h10m20 0h10m1050 0h30m10 0h50m210 0h20m130 0h20m190 0h10M770 1445h10m30 0h10m20 0h10m130 0h20m1110 0h10m10 0h30m140 0h10m30 0h60m120 0h50m150 0h10m10 0h10M650 1455h10m60 0h20m240 0h10m20 0h10m630 0h10m80 0h50m10 0h10m310 0h40m120 0h10m20 0h10m20 0h50m10 0h30m100 0h20m180 0h20M710 1465h10m60 0h10m50 0h10m70 0h10m10 0h10m30 0h20m20 0h10m600 0h10m10 0h20m40 0h30m40 0h10m10 0h20m300 0h10m10 0h20m110 0h10m10 0h30m10 0h60m20 0h10m10 0h10M760 1475h10m70 0h10m10 0h10m50 0h10m40 0h10m60 0h10m100 0h10m490 0h20m10 0h20m10 0h30m60 0h30m300 0h20m100 0h30m40 0h40m70 0h20m70 0h10M780 1485h10m80 0h10m90 0h10m90 0h10m580 0h50m20 0h10m60 0h20m400 0h10m10 0h20m20 0h10m10 0h10m10 0h40m60 0h10m80 0h10M710 1495h10m80 0h20m50 0h10m70 0h10m700 0h10m20 0h10m50 0h10m30 0h20m10 0h10m380 0h30m100 0h10m80 0h10m20 0h10m10 0h40M660 1505h10m10 0h10m120 0h10m10 0h10m10 0h10m110 0h10m110 0h10m160 0h30m370 0h10m10 0h10m70 0h10m30 0h20m360 0h40m80 0h10m120 0h30m20 0h30M690 1515h20m560 0h10m390 0h20m70 0h10m20 0h50m330 0h10M660 1525h20m10 0h20m60 0h10m260 0h10m220 0h30m380 0h10m70 0h10m20 0h30m20 0h10m300 0h20m430 0h20M670 1535h10m10 0h10m10 0h10m10 0h10m100 0h10m30 0h10m160 0h10m200 0h10m20 0h10m380 0h20m50 0h20m20 0h20m800 0h10M730 1545h10m30 0h20m40 0h10m60 0h10m90 0h10m100 0h10m170 0h10m390 0h20m20 0h10m10 0h70m330 0h30m380 0h20m20 0h10m10 0h10M820 1555h10m30 0h10m70 0h10m120 0h10m180 0h10m430 0h10m10 0h20m10 0h10m10 0h50m340 0h30m120 0h10m230 0h30m20 0h10M740 1565h10m150 0h20m330 0h10m10 0h10m280 0h10m130 0h20m30 0h30m10 0h20m300 0h40m10 0h30m110 0h30m160 0h10m40 0h50M740 1575h10m70 0h10m110 0h10m300 0h10m480 0h30m20 0h30m290 0h50m20 0h10m330 0h20m10 0h30M780 1585h10m130 0h20m720 0h30m40 0h70m10 0h10m290 0h10m20 0h30m10 0h20m30 0h10m50 0h10m230 0h50M790 1595h10m10 0h10m120 0h10m640 0h10m90 0h10m30 0h30m10 0h40m30 0h10m260 0h40m10 0h10m20 0h10m10 0h30m290 0h20M780 1605h10m880 0h10m20 0h10m20 0h10m30 0h30m40 0h20m10 0h10m230 0h80m10 0h40m70 0h20m170 0h10M960 1615h20m630 0h10m70 0h10m20 0h30m20 0h30m40 0h40m250 0h10m20 0h20m20 0h40m80 0h10m100 0h10m50 0h10M750 1625h10m850 0h10m30 0h10m10 0h30m10 0h20m40 0h10m10 0h20m30 0h40m240 0h30m10 0h20m10 0h10m10 0h20M750 1635h10m920 0h40m10 0h10m10 0h40m10 0h10m30 0h10m10 0h20m150 0h10m110 0h50m10 0h40M640 1645h20m30 0h50m50 0h10m170 0h10m590 0h10m50 0h20m40 0h30m10 0h40m30 0h10m10 0h10m30 0h20m130 0h40m110 0h110m210 0h10M640 1655h10m10 0h30m270 0h10m30 0h10m540 0h30m10 0h30m10 0h10m30 0h50m20 0h30m10 0h10m30 0h10m30 0h20m120 0h10m10 0h10m20 0h10m110 0h50m20 0h10m10 0h10m210 0h20M630 1665h10m100 0h10m220 0h10m120 0h10m10 0h10m450 0h10m20 0h10m110 0h20m20 0h10m30 0h20m20 0h30m110 0h30m40 0h10m90 0h20m10 0h30m50 0h10m10 0h10M670 1675h10m70 0h10m50 0h10m190 0h10m10 0h10m50 0h20m430 0h10m70 0h40m130 0h10m10 0h20m20 0h30m20 0h20m80 0h10m150 0h40m10 0h10m10 0h10m20 0h30m70 0h10m10 0h10m90 0h10M660 1685h10m80 0h10m10 0h10m170 0h10m20 0h10m260 0h20m270 0h10m70 0h30m10 0h10m30 0h10m80 0h30m40 0h30m100 0h20m50 0h10m100 0h50m30 0h30m10 0h10m10 0h80M750 1695h10m50 0h10m140 0h20m40 0h10m30 0h10m150 0h10m40 0h20m250 0h10m80 0h10m10 0h20m30 0h10m10 0h20m40 0h40m30 0h30m10 0h20m80 0h10m60 0h10m90 0h50m10 0h20m20 0h10m100 0h10m10 0h20M740 1705h10m10 0h20m20 0h10m280 0h20m170 0h10m10 0h10m220 0h10m110 0h20m30 0h40m40 0h30m30 0h10m10 0h20m90 0h30m60 0h10m100 0h20m20 0h70m90 0h10m140 0h10M740 1715h20m270 0h10m10 0h10m30 0h10m80 0h10m20 0h10m80 0h10m220 0h10m120 0h10m20 0h140m40 0h10m100 0h10m160 0h40m10 0h50m130 0h10M750 1725h20m530 0h10m220 0h10m40 0h10m10 0h10m20 0h10m20 0h40m10 0h40m30 0h10m10 0h10m10 0h20m20 0h10m10 0h10m80 0h20m70 0h20m80 0h30m10 0h10m10 0h60M770 1735h10m260 0h10m50 0h10m120 0h20m300 0h40m30 0h10m20 0h20m40 0h10m10 0h10m40 0h100m90 0h10m50 0h50m70 0h10m10 0h20m50 0h40m80 0h40M1030 1745h10m220 0h10m20 0h10m250 0h40m20 0h40m20 0h10m30 0h20m20 0h20m20 0h10m10 0h10m10 0h10m30 0h20m90 0h10m30 0h70m10 0h20m20 0h10m10 0h50m20 0h100m20 0h40m30 0h10m80 0h10M1030 1755h10m190 0h10m30 0h10m10 0h10m270 0h30m20 0h30m10 0h10m80 0h10m60 0h20m130 0h20m30 0h40m20 0h120m10 0h40m10 0h30m30 0h10m10 0h20m10 0h20m110 0h10M1130 1765h10m130 0h10m10 0h10m260 0h30m40 0h60m60 0h10m70 0h10m40 0h10m100 0h30m10 0h10m10 0h30m10 0h20m10 0h30m20 0h20m10 0h40m10 0h30m40 0h70M1050 1775h10m160 0h30m300 0h10m20 0h20m30 0h50m10 0h10m10 0h10m110 0h10m10 0h10m20 0h10m70 0h10m10 0h30m40 0h30m10 0h10m20 0h30m10 0h10m10 0h40m10 0h30m10 0h10m20 0h10m10 0h30m10 0h40m110 0h10M1540 1785h10m20 0h20m50 0h10m10 0h10m70 0h10m80 0h10m10 0h10m20 0h20m60 0h20m20 0h10m40 0h10m10 0h30m20 0h20m30 0h10m20 0h50m20 0h40m30 0h80m10 0h10M1500 1795h50m20 0h20m50 0h10m80 0h10m110 0h20m10 0h10m70 0h10m110 0h10m40 0h20m60 0h20m50 0h20m40 0h10m10 0h10m20 0h40M1470 1805h10m20 0h40m20 0h20m70 0h10m50 0h20m90 0h30m500 0h90M1450 1815h20m70 0h10m10 0h10m260 0h10m10 0h10m10 0h90m10 0h10m20 0h10m290 0h20m20 0h60m10 0h20m10 0h10M1530 1825h40m130 0h20m80 0h10m10 0h40m10 0h20m70 0h20m10 0h10m270 0h40m20 0h100m90 0h10M1450 1835h10m90 0h20m130 0h10m100 0h10m30 0h40m100 0h10m260 0h40m10 0h40m10 0h60m10 0h20M1440 1845h10m340 0h20m30 0h20m10 0h10m100 0h10m270 0h10m10 0h30m10 0h10m10 0h40m10 0h10m10 0h40M1390 1855h70m10 0h10m190 0h30m80 0h10m70 0h10m390 0h40m80 0h20m20 0h30M1370 1865h10m290 0h10m10 0h20m60 0h20m60 0h20m410 0h30m110 0h50M1460 1875h10m110 0h10m10 0h10m60 0h20m90 0h20m50 0h20m10 0h10m90 0h10m290 0h30m110 0h50M1370 1885h10m190 0h40m20 0h20m10 0h30m100 0h20m10 0h30m10 0h10m20 0h10m520 0h10m10 0h10m10 0h20M1200 1895h10m150 0h20m240 0h20m40 0h10m100 0h30m80 0h10m60 0h10m440 0h60M1190 1905h10m160 0h10m210 0h20m10 0h10m60 0h10m220 0h30m10 0h20m470 0h10m10 0h50M1190 1915h10m390 0h20m310 0h40m500 0h60m50 0h30M1350 1925h10m240 0h20m310 0h20m500 0h60m50 0h20M1600 1935h10m320 0h20m510 0h30M1600 1945h10m330 0h30m480 0h20m90 0h10M1410 1955h20m160 0h20m940 0h20M1360 1965h10m20 0h10m40 0h10m70 0h10m50 0h30m860 0h10m80 0h10M1360 1975h20m60 0h10m60 0h20m10 0h10m20 0h20m50 0h20m790 0h80m20 0h20M1360 1985h20m60 0h10m70 0h20m10 0h10m930 0h10m10 0h10m10 0h30M1370 1995h20m40 0h20m80 0h40m930 0h10m60 0h40m10 0h10M1380 2005h10m50 0h10m90 0h30m1000 0h10M1380 2015h10m50 0h20m70 0h20m1020 0h10M1440 2025h10m90 0h10m1010 0h10M1440 2035h10m90 0h10m1010 0h20M1400 2045h20m120 0h10M1450 2055h20m1090 0h20M1410 2065h20m20 0h30m40 0h10m20 0h10M1410 2075h30m20 0h10m50 0h20m1020 0h10m60 0h10M1420 2085h10m20 0h20m40 0h20m1040 0h10m30 0h30M1420 2095h10m20 0h20m40 0h30m1030 0h50M1470 2105h30m20 0h20m1030 0h30M1510 2115h20M1430 2125h10m20 0h10m40 0h20M1460 2135h10m20 0h10m10 0h10"/>
<path stroke="#f79c7e" d="M440 385h20M340 405h10m170 0h10M320 425h10M340 435h20m160 0h10m10 0h10m30 0h10M330 445h10m190 0h20m60 0h10M320 455h20m150 0h10m10 0h10m10 0h10m20 0h10m30 0h10m130 0h10M550 465h40m10 0h10m100 0h10M430 475h10m70 0h10m10 0h30m40 0h10M570 485h20m30 0h10m100 0h10m130 0h10m10 0h20M340 495h10m150 0h10m10 0h10m30 0h10m30 0h30m10 0h10m10 0h10m40 0h10m30 0h20m120 0h10M480 505h20m20 0h20m70 0h30m30 0h10m30 0h10m20 0h10m130 0h10m10 0h10M440 515h10m90 0h10m70 0h10m110 0h10m60 0h10M440 525h10m260 0h20m950 0h10M720 535h10m940 0h20M360 545h10m190 0h30m510 0h10m560 0h20M1660 555h10m10 0h10M750 565h30m880 0h10m10 0h10M570 575h10m80 0h10m160 0h10m820 0h10m10 0h20M570 585h10m1080 0h20M430 595h10m1220 0h30M410 605h10m170 0h10m10 0h10m140 0h20m40 0h10m20 0h20m790 0h40M290 615h10m50 0h10m60 0h10m130 0h20m240 0h10m830 0h30M300 625h10m50 0h10m210 0h10m20 0h10m220 0h10m10 0h20m800 0h20M330 635h10m230 0h10m230 0h10M360 645h10m410 0h10m40 0h20M370 655h10m190 0h10m30 0h30m200 0h10M380 665h20m20 0h10m70 0h20m30 0h10m20 0h10m20 0h10M390 675h10m140 0h10m10 0h10m20 0h10m20 0h10M400 685h10m150 0h10m10 0h10m40 0h10M290 695h10m90 0h20m70 0h10m10 0h20m10 0h10m20 0h10m20 0h10m250 0h10m10 0h20M240 705h10m50 0h10m70 0h10m110 0h10m70 0h10m240 0h10M890 715h10M300 725h10m570 0h10M300 735h10m570 0h10M280 745h10m220 0h10M270 755h50M320 765h10m100 0h10m20 0h10M260 775h10m60 0h20m90 0h30M260 785h10m160 0h10m10 0h10m10 0h10m120 0h10m10 0h10M260 795h10m10 0h10m30 0h10m90 0h10m160 0h10m20 0h10M260 805h10m10 0h10m30 0h20m260 0h20m360 0h10M260 815h10m40 0h10m10 0h10m70 0h10m40 0h10m100 0h10m20 0h10M260 825h10m20 0h10m80 0h10m20 0h40M250 835h10m20 0h10m70 0h10m10 0h10m70 0h10m100 0h20M280 845h10m10 0h10m30 0h10m10 0h10m10 0h10m30 0h10m10 0h10m130 0h10m2300 0h20M250 855h10m40 0h10m10 0h10m40 0h10m60 0h10m140 0h10m20 0h30m2230 0h30m50 0h10M280 865h10m10 0h30m490 0h30m2020 0h10m70 0h30M810 875h10m2050 0h10m50 0h30M380 885h10m280 0h10m2170 0h30m10 0h10m80 0h10M250 895h10m40 0h20m340 0h10m60 0h10m2120 0h10m10 0h40m10 0h10m10 0h10m10 0h10M200 905h10m50 0h10m30 0h20m420 0h10m10 0h20m2060 0h10m20 0h10m40 0h10m10 0h20M250 915h10m500 0h10m2070 0h10m20 0h10m10 0h50M170 925h10m40 0h10m90 0h10m390 0h20m2080 0h20m10 0h30m30 0h10M200 935h10m490 0h20m10 0h10m1020 0h10m1020 0h50m10 0h30m20 0h30M220 945h10m240 0h30m2290 0h20m20 0h30M200 955h10m150 0h10m80 0h30m10 0h10m2300 0h20m40 0h10M200 965h10m160 0h10m10 0h10m90 0h10m580 0h20m670 0h20m1030 0h20M190 975h10m200 0h10m10 0h10m30 0h10m500 0h10m90 0h10m700 0h10m1030 0h30M210 985h10m90 0h10m10 0h20m30 0h20m30 0h30m520 0h10m10 0h30M180 995h10m20 0h10m80 0h10m10 0h10m100 0h10m10 0h10m460 0h10m210 0h10M280 1005h10m200 0h10m530 0h10m30 0h20M190 1015h10m200 0h40m60 0h10m460 0h10m50 0h20m10 0h20M300 1025h20m40 0h10m20 0h10m60 0h20m440 0h10m20 0h20m10 0h10m70 0h20M380 1035h10m60 0h10m30 0h10m420 0h20m40 0h10m1470 0h30m10 0h10M270 1045h10m80 0h10m10 0h10m70 0h20m20 0h10m500 0h10m60 0h10m1370 0h20m10 0h10m30 0h20m230 0h10M190 1055h10m10 0h10m20 0h10m30 0h10m30 0h10m20 0h10m90 0h10m20 0h10m530 0h10m1420 0h30m10 0h20m40 0h10m200 0h50M200 1065h30m40 0h10m60 0h10m40 0h10m2030 0h30m10 0h10m20 0h10m250 0h50M210 1075h10m40 0h10m20 0h30m20 0h10m20 0h50m20 0h10m40 0h10m1950 0h10m10 0h20m10 0h20m20 0h20m190 0h50M240 1085h20m30 0h20m110 0h10m20 0h10m70 0h10m340 0h10m230 0h10m1290 0h20m70 0h30m10 0h20m200 0h30M230 1095h10m200 0h20m10 0h10m20 0h10m20 0h10m590 0h30m1260 0h10m40 0h10m40 0h10m10 0h20m10 0h10m180 0h30M180 1105h10m20 0h10m230 0h10m70 0h20m200 0h10m140 0h10m40 0h10m10 0h10m190 0h10m1240 0h10m90 0h60M180 1115h30m270 0h10m420 0h10m50 0h10m130 0h10m60 0h10m10 0h10m1200 0h20m30 0h10m50 0h40m10 0h10M190 1125h20m240 0h10m10 0h10m20 0h10m580 0h10m10 0h20m60 0h10m1210 0h10m40 0h10m10 0h40m20 0h40M420 1135h10m10 0h10m10 0h10m470 0h10m150 0h10m1290 0h40m10 0h30m30 0h40m20 0h50M370 1145h10m560 0h20m10 0h10m140 0h10m1230 0h30m10 0h40m10 0h30m60 0h10m20 0h10m10 0h30M380 1155h10m50 0h20m470 0h30m230 0h10m1160 0h20m10 0h50m10 0h20m70 0h20m30 0h10m10 0h10m80 0h20M360 1165h20m30 0h10m90 0h10m600 0h20m1190 0h10m10 0h110m80 0h10m110 0h10M390 1175h10m100 0h10m50 0h10m360 0h10m150 0h10m70 0h10m1150 0h80m10 0h30m90 0h10m60 0h60m40 0h10M390 1185h20m10 0h10m20 0h10m50 0h10m250 0h10m230 0h10m1300 0h70m10 0h10m10 0h10m110 0h10m70 0h10m10 0h80M390 1195h20m20 0h10m310 0h10m220 0h10m1310 0h10m40 0h10m50 0h20m100 0h20m50 0h60m20 0h30M390 1205h20m1860 0h30m10 0h10m10 0h30m160 0h40m10 0h60m10 0h10m10 0h50M530 1215h10m1710 0h10m20 0h10m20 0h40m170 0h10m10 0h20m10 0h100m10 0h10M530 1225h10m1710 0h10m10 0h80m170 0h50m10 0h10m20 0h10m30 0h40M590 1235h10m150 0h10m1480 0h10m10 0h10m10 0h10m30 0h20m50 0h10m120 0h40m10 0h10m90 0h10m20 0h10m20 0h10M590 1245h10m20 0h20m310 0h10m20 0h10m1260 0h20m50 0h20m180 0h10m20 0h10m10 0h10m80 0h10m10 0h20m10 0h20M390 1255h10m180 0h10m30 0h10m1620 0h10m40 0h40m40 0h10m120 0h10m10 0h70m70 0h70M590 1265h10m20 0h20m310 0h10m30 0h10m1300 0h20m10 0h20m50 0h10m100 0h40m130 0h20m20 0h30M560 1275h10m60 0h10m300 0h10m80 0h10m1260 0h10m40 0h10m70 0h20m40 0h20m10 0h50m10 0h20m80 0h50M740 1285h10m10 0h10m10 0h10m130 0h10m10 0h10m80 0h20m1240 0h20m30 0h70m30 0h20m30 0h30m10 0h70m70 0h30m30 0h10M580 1295h20m130 0h20m30 0h20m1110 0h10m300 0h10m50 0h40m10 0h50m10 0h10m30 0h10m10 0h40m10 0h10m10 0h30m70 0h20m20 0h20m20 0h10m10 0h30M690 1305h30m30 0h10m30 0h10m150 0h10m80 0h20m850 0h10m270 0h10m70 0h70m10 0h10m10 0h30m40 0h30m20 0h60m60 0h40m10 0h10m10 0h20m30 0h10m10 0h10M600 1315h20m80 0h20m180 0h10m30 0h10m20 0h10m60 0h20m840 0h20m10 0h10m320 0h40m10 0h40m30 0h40m10 0h10m20 0h50m20 0h10m70 0h80m10 0h20m20 0h20M640 1325h20m180 0h10m40 0h10m70 0h10m60 0h10m830 0h60m330 0h80m30 0h10m20 0h60m10 0h30m20 0h10m100 0h10m10 0h70M890 1335h10m990 0h10m20 0h30m300 0h10m10 0h70m10 0h40m20 0h10m10 0h20m10 0h30m40 0h20m100 0h90M630 1345h30m190 0h10m210 0h10m10 0h10m840 0h20m300 0h90m10 0h30m30 0h40m10 0h30m10 0h40m90 0h10m30 0h40m10 0h20M640 1355h10m160 0h10m280 0h10m800 0h20m20 0h10m300 0h10m20 0h10m10 0h20m30 0h90m30 0h40m10 0h20m110 0h30m30 0h30M810 1365h20m10 0h10m10 0h10m30 0h10m70 0h10m10 0h10m10 0h10m40 0h10m830 0h40m110 0h10m180 0h10m20 0h20m40 0h10m30 0h30m230 0h10m10 0h20m50 0h10M800 1375h10m40 0h10m20 0h20m180 0h30m790 0h40m10 0h10m110 0h10m170 0h60m60 0h20m10 0h10m230 0h20m70 0h10M790 1385h10m140 0h20m40 0h10m10 0h10m50 0h10m10 0h20m790 0h30m320 0h20m10 0h10m70 0h20m240 0h20M640 1395h10m170 0h10m40 0h20m20 0h10m30 0h10m160 0h10m770 0h10m10 0h10m340 0h20m50 0h20m10 0h20m240 0h10m80 0h20M640 1405h10m210 0h30m10 0h10m30 0h10m1320 0h10m10 0h10m40 0h10m20 0h30m220 0h10m90 0h10M860 1415h10m20 0h20m10 0h10m10 0h10m1150 0h20m220 0h10m30 0h10m210 0h10m120 0h10M640 1425h20m90 0h10m110 0h10m50 0h20m1200 0h10m200 0h30m200 0h10m10 0h10m110 0h10M640 1435h10m110 0h10m1340 0h10m220 0h40m190 0h40m110 0h20M620 1445h20m20 0h10m60 0h20m100 0h20m30 0h10m20 0h10m70 0h10m1550 0h10m150 0h10m10 0h10M670 1455h10m80 0h10m70 0h10m140 0h10m20 0h10m1520 0h20m150 0h10M650 1465h10m70 0h20m10 0h10m90 0h10m40 0h10m90 0h10m720 0h20m10 0h10m10 0h10m330 0h10m140 0h10m100 0h20m10 0h10m100 0h40M850 1475h10m50 0h10m70 0h10m20 0h10m20 0h10m20 0h10m650 0h60m480 0h40m40 0h20m10 0h40m100 0h20M660 1485h10m180 0h10m120 0h10m60 0h20m640 0h20m10 0h20m10 0h30m460 0h20m10 0h10m10 0h10m40 0h20m10 0h10m10 0h10m100 0h20m130 0h10M670 1495h20m140 0h10m130 0h20m70 0h10m600 0h20m30 0h30m10 0h30m460 0h90m10 0h20m40 0h20m90 0h10m110 0h50M960 1505h10m700 0h10m10 0h30m10 0h30m10 0h30m420 0h40m30 0h10m10 0h20m10 0h10m60 0h10m40 0h20m30 0h10m50 0h20m10 0h10m10 0h20m20 0h10M670 1515h20m20 0h10m250 0h10m280 0h10m420 0h20m20 0h30m10 0h20m390 0h70m50 0h40m80 0h40m20 0h40m60 0h50m10 0h20m10 0h10M650 1525h10m600 0h10m420 0h10m10 0h50m10 0h20m380 0h10m10 0h10m30 0h10m60 0h40m90 0h30m10 0h40m50 0h40m20 0h30m10 0h20M700 1535h10m10 0h10m140 0h10m100 0h10m20 0h10m680 0h50m20 0h20m380 0h30m20 0h10m70 0h40m100 0h10m10 0h70m20 0h60m10 0h40M670 1545h20m10 0h10m10 0h10m120 0h40m100 0h10m260 0h10m440 0h20m10 0h10m440 0h20m10 0h20m50 0h10m10 0h30m90 0h30m10 0h10m10 0h70m20 0h20m10 0h10M700 1555h10m10 0h10m110 0h10m30 0h50m780 0h10m470 0h10m20 0h10m60 0h20m10 0h20m80 0h10m10 0h10m10 0h90m30 0h20m10 0h20M720 1565h20m80 0h10m30 0h30m30 0h20m30 0h10m80 0h20m1110 0h20m10 0h10m20 0h10m30 0h10m30 0h20m60 0h20m40 0h20m10 0h40m50 0h30M870 1575h20m60 0h10m1200 0h10m20 0h10m10 0h60m10 0h70m50 0h40m20 0h10m10 0h40m20 0h10m30 0h20m10 0h10M740 1585h10m70 0h10m970 0h10m310 0h20m60 0h30m10 0h20m10 0h20m10 0h20m10 0h30m30 0h50m40 0h50m50 0h40M740 1595h10m30 0h10m1360 0h10m10 0h10m20 0h10m30 0h10m30 0h90m10 0h10m10 0h10m10 0h30m10 0h10m10 0h50m20 0h60M740 1605h10m1490 0h20m30 0h20m20 0h60m20 0h90m10 0h90M740 1615h10m1400 0h10m80 0h10m40 0h30m20 0h10m10 0h30m20 0h20m40 0h20m10 0h10m10 0h10m20 0h30M740 1625h10m1400 0h10m70 0h20m70 0h10m10 0h10m10 0h10m60 0h10m30 0h30m40 0h10m10 0h10M970 1635h10m870 0h10m390 0h10m40 0h10m40 0h10m10 0h10m80 0h60m10 0h40M740 1645h10m210 0h10m10 0h20m1270 0h40m40 0h10m10 0h10m10 0h10m70 0h10m10 0h40m10 0h20M690 1655h10m10 0h10m60 0h30m180 0h10m10 0h10m560 0h10m420 0h10m10 0h20m110 0h10m100 0h50m40 0h10m90 0h20m20 0h50M750 1665h30m20 0h20m180 0h30m520 0h30m10 0h20m410 0h40m120 0h10m90 0h10m10 0h20m50 0h20m60 0h20m10 0h60M760 1675h10m30 0h10m210 0h10m30 0h10m480 0h10m20 0h40m390 0h20m20 0h20m130 0h10m80 0h30m20 0h20m10 0h10m10 0h20m10 0h10m10 0h40m10 0h30m10 0h10M790 1685h10m170 0h10m10 0h40m60 0h10m10 0h10m110 0h20m330 0h10m20 0h10m390 0h40m250 0h10m80 0h40m10 0h10m20 0h60M740 1695h10m230 0h10m40 0h10m40 0h10m20 0h10m110 0h10m10 0h10m290 0h10m20 0h10m10 0h30m10 0h10m350 0h20m30 0h10m190 0h10m150 0h10m10 0h10m30 0h60M730 1705h10m300 0h10m10 0h10m200 0h10m10 0h10m240 0h10m20 0h40m10 0h20m360 0h10m40 0h10m320 0h20m10 0h30m30 0h10m10 0h30M760 1715h20m10 0h10m480 0h10m250 0h10m10 0h60m10 0h10m10 0h10m330 0h10m10 0h10m30 0h10m330 0h40m70 0h10M980 1725h10m40 0h30m120 0h10m40 0h10m40 0h20m240 0h40m10 0h10m10 0h20m20 0h10m40 0h10m320 0h30m320 0h50m70 0h20M1260 1735h30m300 0h30m10 0h20m20 0h40m10 0h10m10 0h10m230 0h20m160 0h10m230 0h30m70 0h20M1280 1745h10m300 0h20m40 0h20m10 0h30m20 0h20m90 0h30m120 0h20m140 0h10m230 0h30m10 0h10m50 0h20M1280 1755h10m310 0h20m30 0h10m10 0h80m90 0h40m110 0h30m40 0h20m210 0h30m10 0h10m50 0h20m70 0h20m10 0h10M1040 1765h20m160 0h10m360 0h40m60 0h30m10 0h20m90 0h40m400 0h40m70 0h20m80 0h30M1080 1775h10m40 0h10m460 0h10m10 0h10m50 0h10m10 0h10m30 0h10m90 0h10m10 0h20m220 0h10m170 0h20m50 0h10m40 0h30m10 0h10M1070 1785h10m510 0h10m30 0h10m10 0h10m10 0h10m20 0h10m20 0h10m120 0h20m540 0h10M1590 1795h20m20 0h10m10 0h40m30 0h10m140 0h10m500 0h10m40 0h10m70 0h10M1480 1805h20m80 0h30m30 0h10m10 0h20m10 0h20m730 0h10m60 0h20M1470 1815h10m10 0h20m20 0h10m30 0h20m40 0h40m20 0h20m130 0h10m480 0h10m90 0h10m10 0h40m10 0h30M1460 1825h30m30 0h10m40 0h10m50 0h70m190 0h30m10 0h20m30 0h10m330 0h10m100 0h60m10 0h20m10 0h10M1460 1835h20m60 0h10m40 0h10m20 0h80m120 0h30m40 0h10m70 0h20m360 0h10m60 0h10m20 0h20m30 0h40M1450 1845h30m70 0h30m30 0h80m120 0h10m60 0h10m80 0h10m290 0h10m100 0h10m10 0h10m40 0h20m40 0h40M1460 1855h10m90 0h30m10 0h70m120 0h70m10 0h20m80 0h20m410 0h20m30 0h30m20 0h40M1380 1865h10m20 0h20m10 0h40m100 0h60m20 0h10m120 0h10m10 0h40m30 0h10m90 0h10m280 0h10m110 0h30m50 0h10m20 0h20m10 0h30M1380 1875h10m80 0h10m110 0h10m10 0h60m130 0h50m40 0h10m70 0h10m420 0h20m50 0h10m10 0h20m30 0h10m10 0h10M1380 1885h10m70 0h20m80 0h10m40 0h20m180 0h10m150 0h10m430 0h10m60 0h40m30 0h20M1210 1895h10m160 0h10m80 0h10m80 0h20m330 0h10m20 0h10m10 0h10m510 0h50m10 0h40M1370 1905h10m180 0h20m360 0h10m500 0h10m50 0h20m10 0h50M1200 1915h10m150 0h10m190 0h30m860 0h10m60 0h20m10 0h20M1360 1925h20m180 0h20m930 0h50M1350 1935h20m170 0h10m30 0h20m850 0h10m30 0h40m10 0h30M1350 1945h20m30 0h20m10 0h10m100 0h60m840 0h10m20 0h30m10 0h10m20 0h20M1350 1955h20m10 0h30m20 0h10m10 0h10m60 0h10m10 0h30m10 0h10m850 0h80m20 0h10M1370 1965h20m120 0h10m10 0h50m860 0h30m10 0h50m20 0h10M1450 1975h20m30 0h10m20 0h10m10 0h20m960 0h20M1450 1985h10m30 0h30m20 0h10m10 0h10M1450 1995h10m40 0h30M1450 2005h20m10 0h10m30 0h20m1040 0h10m10 0h30M1460 2015h10m40 0h20m1050 0h10m10 0h40M1450 2025h40m40 0h10m1030 0h20m20 0h10m20 0h10M1450 2035h40m40 0h10m1040 0h20M1450 2045h40m10 0h40m1030 0h10m50 0h20M1470 2055h70m1070 0h30M1480 2065h20m10 0h10m1050 0h10m30 0h40M1470 2075h20m20 0h10m1050 0h10m20 0h30m10 0h10M1470 2085h10m1110 0h20M1470 2095h40M1510 2105h10"/>
<path stroke="#f87f66" d="M440 395h10M430 405h10M430 415h10M340 425h20m230 0h10M590 435h10m10 0h10M340 445h10m210 0h10m30 0h10M500 455h10m70 0h20M490 465h10m120 0h10M360 475h10m210 0h10M360 485h10m140 0h10m120 0h10M440 495h10m60 0h10m10 0h10m110 0h10m240 0h10m10 0h10M440 505h10m50 0h10m90 0h10m110 0h20m150 0h10M430 515h10m90 0h10m110 0h30m20 0h10m10 0h10M330 525h10m130 0h10M350 535h10m70 0h10m20 0h10m60 0h20M370 545h10m20 0h10m10 0h10m300 0h10M430 555h20m1220 0h10M440 565h10m1220 0h10M560 575h10m80 0h10m1010 0h10M560 585h10m250 0h10m10 0h10m830 0h10M570 595h10m200 0h10m30 0h10M420 605h20m120 0h30m250 0h10m20 0h10M330 615h20m490 0h10M320 625h40m200 0h10m30 0h10m220 0h10M340 635h10m230 0h20m10 0h10m230 0h10M350 645h10m70 0h10m120 0h10m20 0h10m250 0h10M310 655h10m110 0h20m50 0h20m330 0h10M350 665h20m60 0h10m40 0h10m50 0h10m70 0h10M370 675h20m10 0h10m70 0h10m60 0h10m10 0h10M310 685h10m70 0h10m110 0h30M300 695h10m60 0h10m200 0h10M390 705h10m90 0h10m350 0h40M380 715h10m120 0h10m330 0h10M370 725h10m510 0h10M310 735h10m60 0h10m90 0h20M450 745h20m10 0h10M440 755h10M260 765h10m20 0h10m30 0h20m90 0h10M360 775h10m230 0h10M300 785h10m20 0h10m120 0h10M270 795h10m20 0h20m10 0h10m130 0h10M310 805h10m90 0h20m190 0h20M270 815h20m90 0h20m70 0h10m100 0h10m50 0h10M270 825h10m20 0h10m40 0h10m10 0h10m110 0h10m110 0h10M270 835h10m10 0h10m50 0h10m10 0h10m40 0h10m170 0h10M250 845h10m30 0h10m20 0h10m80 0h10m10 0h10m10 0h10m170 0h10M290 855h10m10 0h10m40 0h10m60 0h10m170 0h10m190 0h20m2080 0h10M250 865h10m30 0h10m30 0h10m30 0h10m430 0h10m2060 0h50M270 875h10m20 0h30m10 0h10m20 0h10m2500 0h50m30 0h20M180 885h10m70 0h10m10 0h20m30 0h10m310 0h10m2220 0h10m10 0h80M180 895h10m70 0h20m10 0h10m70 0h10m300 0h40m20 0h10m2170 0h10m10 0h10m10 0h10M170 905h10m10 0h10m50 0h10m10 0h10m10 0h10m360 0h10m2230 0h10M190 915h20m50 0h10m50 0h10m340 0h10m60 0h20M180 925h10m60 0h20m40 0h10m370 0h10M190 935h10m60 0h10M260 945h10m30 0h10m60 0h10m350 0h10m2070 0h20M210 955h30m20 0h10m210 0h10M230 965h20m40 0h30m40 0h10m40 0h10m60 0h10M220 975h30m70 0h20m10 0h10m50 0h10m10 0h10m30 0h20M220 985h20m30 0h20m10 0h10m10 0h10m70 0h10m10 0h10m40 0h10M190 995h20m10 0h10m40 0h30m140 0h10m10 0h30m480 0h10m20 0h10M180 1005h10m10 0h10m50 0h20m10 0h10m120 0h20m10 0h30m430 0h40m10 0h20M170 1015h10m20 0h10m70 0h20m140 0h10m10 0h20m440 0h20m20 0h10m10 0h20M190 1025h10m60 0h10m20 0h10m20 0h10m70 0h20m20 0h10m40 0h10m410 0h10m20 0h10m40 0h20M190 1035h20m50 0h10m60 0h20m10 0h10m20 0h20m60 0h10m530 0h20M220 1045h10m10 0h30m100 0h10m10 0h20m40 0h10m20 0h10m500 0h10M200 1055h10m90 0h10m90 0h10m50 0h20m2000 0h10M280 1065h10m20 0h10m10 0h10m60 0h10m40 0h10m10 0h20m1970 0h10m10 0h20M320 1075h20m80 0h10m680 0h10m1320 0h10m10 0h10m20 0h10M200 1085h10m10 0h10m80 0h30m20 0h20m80 0h10m10 0h20m1940 0h70M180 1095h50m10 0h20m50 0h10m50 0h10m80 0h10m10 0h20m420 0h10m1500 0h40m10 0h10m20 0h10m40 0h10M190 1105h20m220 0h10m20 0h30m30 0h10m590 0h10m30 0h10m1260 0h50m10 0h20M210 1115h10m160 0h10m50 0h10m1990 0h20m10 0h50M1100 1125h10m20 0h10m1290 0h30m10 0h10m40 0h20M200 1135h10m170 0h10m80 0h10m450 0h10m170 0h10m10 0h10m1300 0h10m100 0h20M380 1145h10m30 0h10m60 0h10m680 0h10m1250 0h10m100 0h20m10 0h10M420 1155h10m50 0h10m10 0h10m670 0h10m1250 0h10m110 0h30m10 0h10M390 1165h10m20 0h10m20 0h10m40 0h10m420 0h20m190 0h10m20 0h10m1370 0h40m10 0h20M410 1175h20m50 0h10m700 0h10m1210 0h10m130 0h30m20 0h10M340 1185h10m60 0h10m2130 0h30m10 0h30M350 1195h10m60 0h10m20 0h10m50 0h20m2020 0h50M380 1205h10m20 0h10m40 0h20m40 0h10m450 0h10m1570 0h10m60 0h10M370 1215h10m30 0h10m40 0h10m50 0h10m1730 0h20m280 0h10M390 1225h10m70 0h10m1780 0h10m300 0h10M370 1235h20m10 0h10m110 0h20m1730 0h10m280 0h10M370 1245h40m110 0h30m10 0h10m70 0h10m90 0h10m220 0h10m1550 0h20m10 0h10m100 0h10M600 1255h10m20 0h20m100 0h20m180 0h20m1550 0h10M370 1265h20m10 0h10m140 0h10m40 0h10m150 0h10m170 0h10m20 0h10m1340 0h10m220 0h40m110 0h20M380 1275h20m150 0h10m180 0h20m10 0h10m170 0h10m1350 0h40m160 0h10m50 0h10M540 1285h20m10 0h10m1730 0h30m360 0h30M540 1295h20m40 0h10m420 0h10m1280 0h10m160 0h10m180 0h20m10 0h10M590 1305h10m120 0h10m190 0h20m1400 0h10m10 0h10m100 0h20m180 0h10m20 0h30m10 0h10M560 1315h10m20 0h10m350 0h20m1380 0h30m130 0h20m160 0h10m20 0h20M600 1325h10m260 0h10m30 0h10m20 0h10m10 0h10m1290 0h10m80 0h30m10 0h20m100 0h20m200 0h20M610 1335h30m220 0h10m10 0h10m10 0h20m10 0h10m960 0h20m340 0h10m70 0h10m40 0h20m10 0h10m60 0h40M620 1345h10m240 0h10m20 0h10m50 0h10m10 0h10m910 0h40m450 0h30m80 0h10m210 0h10M820 1355h10m40 0h10m40 0h10m30 0h10m10 0h10m940 0h20m320 0h20m400 0h30M630 1365h10m160 0h10m140 0h10m10 0h10m1280 0h20m400 0h50M620 1375h10m180 0h10m10 0h10m20 0h10m70 0h10m1710 0h20m30 0h20M800 1385h20m40 0h10m190 0h10m1210 0h10m70 0h10m280 0h10m50 0h20M620 1395h20m250 0h20m1450 0h10m270 0h10m60 0h10M890 1405h10m1450 0h20m260 0h10m70 0h10M620 1415h20m10 0h10m210 0h10m50 0h10m1410 0h30m240 0h10m90 0h10M620 1425h20m220 0h10m50 0h10m1410 0h20m260 0h10m90 0h10M620 1435h10m110 0h20m10 0h10m70 0h10m20 0h10m20 0h20m1780 0h10M600 1445h20m30 0h10m90 0h20m60 0h10m1740 0h20m110 0h10M640 1455h10m10 0h10m70 0h10m120 0h10m1690 0h30m100 0h20M620 1465h10m30 0h10m80 0h10m90 0h10m30 0h20m90 0h10m750 0h10m800 0h20m110 0h20M650 1475h10m320 0h10m20 0h10m1360 0h10m160 0h10m10 0h10m20 0h20m60 0h20M840 1485h10m140 0h10m30 0h10m40 0h10m670 0h10m610 0h10m10 0h10m130 0h10m10 0h70m10 0h30m10 0h10M640 1495h20m340 0h10m40 0h10m640 0h20m650 0h40m120 0h110M650 1505h10m10 0h10m1040 0h10m530 0h30m40 0h10m10 0h20m10 0h30m10 0h10m90 0h50m20 0h10m10 0h10m20 0h20m10 0h20M640 1515h20m320 0h10m70 0h10m640 0h20m520 0h10m20 0h20m40 0h10m50 0h20m40 0h20m40 0h60m50 0h10m20 0h10M640 1525h10m330 0h10m20 0h20m20 0h10m640 0h10m470 0h10m10 0h30m10 0h20m80 0h10m70 0h10m30 0h10m40 0h50m90 0h10M660 1535h10m1530 0h20m10 0h30m30 0h10m40 0h10m50 0h40m10 0h10m70 0h20m110 0h10M840 1545h10m40 0h10m1280 0h10m20 0h10m20 0h30m30 0h10m30 0h10m50 0h30m30 0h10m10 0h10m140 0h10M690 1555h10m10 0h10m130 0h10m10 0h10m50 0h10m10 0h10m1240 0h20m10 0h30m10 0h10m60 0h10m40 0h30m10 0h10m10 0h10M850 1565h10m1350 0h10m10 0h20m20 0h20m90 0h30m20 0h20m10 0h10M720 1575h20m110 0h20m50 0h20m1260 0h10m60 0h10m70 0h10m10 0h30m40 0h20m10 0h10m120 0h10M2260 1585h10m50 0h10m30 0h30m50 0h40M2250 1595h30m90 0h10m10 0h10m10 0h10m30 0h10m10 0h10M2260 1605h30m100 0h20M2250 1615h40m40 0h10m10 0h10m30 0h20m30 0h30m40 0h10m10 0h20m30 0h10M2250 1625h70m10 0h10m10 0h10m10 0h60m10 0h30m30 0h40m10 0h10m10 0h10M640 1635h20m70 0h20m1510 0h40m10 0h40m10 0h10m10 0h80m60 0h10M620 1645h10m40 0h20m1620 0h40m10 0h10m10 0h10m10 0h70m60 0h10M620 1655h10m20 0h10m80 0h10m20 0h10m1540 0h40m10 0h90M650 1665h10m130 0h10m1520 0h50m20 0h60m20 0h10M770 1675h30m200 0h10m550 0h20m450 0h20m270 0h20m70 0h10m10 0h10m80 0h10M1550 1685h30m10 0h20m440 0h10m370 0h10m10 0h20M1100 1695h10m130 0h10m10 0h10m290 0h20m10 0h10m430 0h20m370 0h10m10 0h30M750 1705h10m310 0h20m140 0h10m20 0h10m280 0h20m40 0h10m20 0h10m360 0h10m380 0h10m30 0h30m10 0h10M1040 1715h10m30 0h10m100 0h10m30 0h10m30 0h10m270 0h10m60 0h10m10 0h10m350 0h10m10 0h30m380 0h40m10 0h20m10 0h10M1240 1725h10m10 0h10m370 0h10m340 0h40m400 0h20m40 0h10M1050 1735h10m190 0h10m750 0h20m400 0h10m50 0h10M1040 1745h20m950 0h10m440 0h10m10 0h10M1040 1755h10m10 0h10m10 0h10m1320 0h70M1060 1765h10m10 0h10m140 0h10m480 0h10m680 0h80M1070 1775h10m530 0h10m100 0h20m690 0h10m10 0h60M1060 1785h10m530 0h30m50 0h20m10 0h20m710 0h30m30 0h20M1620 1795h10m60 0h30m720 0h40m20 0h10M1610 1805h30m40 0h10m760 0h60M1480 1815h10m20 0h20m60 0h40m40 0h20m800 0h10M1490 1825h30m60 0h50m290 0h10m20 0h10m530 0h10M1480 1835h60m30 0h20m10 0h20m280 0h10m10 0h50m500 0h30M1480 1845h20m30 0h20m30 0h30m80 0h10m120 0h20m120 0h10m500 0h40M1480 1855h20m40 0h20m30 0h10m290 0h10m580 0h20m40 0h10M1390 1865h20m20 0h10m40 0h20m60 0h20m60 0h20m140 0h10m80 0h10m70 0h10m500 0h20m20 0h10M1390 1875h20m30 0h20m20 0h20m50 0h30m380 0h10m510 0h10m20 0h30m10 0h10M1450 1885h10m20 0h10m60 0h10m340 0h20m30 0h10m560 0h30M1390 1895h10m60 0h10m10 0h20m50 0h10m360 0h20m10 0h10m570 0h10M1380 1905h10m70 0h30m1040 0h10M1370 1915h10m170 0h10m980 0h10M1440 1925h10m20 0h10m40 0h40m20 0h20M1380 1935h10m10 0h70m40 0h30m10 0h30m950 0h10M1380 1945h20m20 0h10m10 0h20m50 0h30m960 0h10m10 0h20M1370 1955h10m60 0h10m10 0h10m30 0h20m10 0h10m30 0h10m940 0h20M1450 1965h30m20 0h10m1020 0h20M1480 1975h20M1460 1985h30M1460 1995h40M1470 2005h10m10 0h30m1070 0h10m30 0h10M1470 2015h30m1090 0h10M1490 2025h40m1060 0h20m10 0h20M1490 2035h40m1070 0h50M1490 2045h10m1080 0h50M2580 2055h30m30 0h10M1500 2065h10m1070 0h10m10 0h10M1490 2075h20m1070 0h20M1480 2085h30m1070 0h10"/>
<path stroke="#f8624e" d="M420 385h10M400 395h40M410 405h10M340 415h10m60 0h20M410 425h30m160 0h10M410 435h10m10 0h10M420 445h10M360 455h10m50 0h10M360 465h10m150 0h20M520 475h10M370 485h10m150 0h10M350 495h10m10 0h10m50 0h10m190 0h10m90 0h10M340 505h10m290 0h10m10 0h10M330 515h10m140 0h30m10 0h10m200 0h10M340 525h10m80 0h10m80 0h10m120 0h10M420 535h10m50 0h10M390 545h10m10 0h10m110 0h30M550 555h20M570 565h10M650 585h20M550 595h20m10 0h10m250 0h10M830 605h10M430 615h10m430 0h10M430 625h10m110 0h10M350 635h10m190 0h20m270 0h10M310 645h30m240 0h10m10 0h10m10 0h10M320 655h10m130 0h20m10 0h10m50 0h10m30 0h10M320 665h10m110 0h10m10 0h20m10 0h10m30 0h10M310 675h10m40 0h10m60 0h10m30 0h10M360 685h30m30 0h10m140 0h10M310 695h10m200 0h10m40 0h10M350 705h10m10 0h10m20 0h30M310 715h10m30 0h30m480 0h10M360 725h10m10 0h10m110 0h10M360 735h20m60 0h10M310 745h10m10 0h10m20 0h10m70 0h10M330 755h10m50 0h10m30 0h10m10 0h10M270 765h10m80 0h20M270 775h10m10 0h10m110 0h30M270 785h10m10 0h10m40 0h20m60 0h10m180 0h10M360 795h10m20 0h10m200 0h10M270 805h10m10 0h10m80 0h30M290 815h10m60 0h20m230 0h30M360 825h10m90 0h10m100 0h10m10 0h20m10 0h20M440 835h10m20 0h10m110 0h10m20 0h30M610 845h20M260 855h30m60 0h10m60 0h10m400 0h10M350 865h20m60 0h10M260 875h10m10 0h20m30 0h10m10 0h10M300 885h10m10 0h10m10 0h30M280 895h10m30 0h10m10 0h30m300 0h10m40 0h10M280 905h10m30 0h20m30 0h10m330 0h20M180 915h10m80 0h10m30 0h10m10 0h10m370 0h20M280 925h10m10 0h10m370 0h10m10 0h20M180 935h10m60 0h10m10 0h20m20 0h10m50 0h10M280 945h20m20 0h10M240 955h10m20 0h10m20 0h30M220 965h10m40 0h20m60 0h10M200 975h10m40 0h10m10 0h30m10 0h10m20 0h10M200 985h10m30 0h30m140 0h10M260 995h10m150 0h10m520 0h10m20 0h20m10 0h10M250 1005h10m180 0h10m530 0h10M210 1015h10m30 0h30m630 0h10m20 0h10M250 1025h10m10 0h10m90 0h10m50 0h10M250 1035h10m20 0h40m50 0h10m30 0h10m10 0h20m30 0h10m500 0h10M210 1045h10m70 0h10m10 0h30m10 0h10m80 0h10m40 0h10m500 0h10m10 0h10M310 1055h10m10 0h20m80 0h10m560 0h20M300 1065h10m110 0h10m60 0h20M190 1075h20m70 0h10m60 0h10m70 0h10m660 0h10M190 1085h10m10 0h10m40 0h20m70 0h10m20 0h10m110 0h20M260 1095h20m10 0h20m10 0h20m20 0h10m140 0h10m1970 0h20M220 1105h10m10 0h10m130 0h10m110 0h20m400 0h10m200 0h20m1330 0h10m20 0h10M220 1115h20m130 0h10m80 0h20m650 0h10m30 0h10m1250 0h10M210 1125h20m210 0h10m10 0h10m670 0h10m20 0h20M210 1135h20m910 0h10m10 0h20M200 1145h20m140 0h10m60 0h10m60 0h10m420 0h10m190 0h10m10 0h30M190 1155h20m140 0h10m10 0h10m110 0h10m630 0h10m10 0h30M190 1165h10m200 0h10m20 0h20m20 0h10m670 0h20m10 0h10m1400 0h10M190 1175h10m230 0h50m2100 0h20M430 1185h20m20 0h10m280 0h10m1810 0h10M410 1195h10m20 0h10m10 0h40M340 1205h10m80 0h30m50 0h10M360 1215h10m20 0h20m20 0h10m10 0h10m10 0h10m20 0h10M380 1225h10m10 0h10m50 0h10m10 0h10m30 0h10M500 1235h10m50 0h10M360 1245h10m130 0h20m50 0h10m380 0h10M370 1255h10m20 0h10m160 0h10m160 0h10m230 0h10M390 1265h10m140 0h10m180 0h20M400 1275h10m110 0h10m40 0h10M400 1285h20m160 0h10M560 1295h20m360 0h10M530 1305h10m20 0h10m10 0h10m350 0h10M530 1315h10m10 0h10m10 0h10m350 0h10M520 1325h10m10 0h30m40 0h10m240 0h10m50 0h20m10 0h10M550 1335h20m10 0h10m10 0h10m30 0h10m220 0h10m40 0h10M500 1345h20m360 0h10m20 0h10m10 0h10m10 0h10m30 0h10M630 1355h10m240 0h10m40 0h10m30 0h10m10 0h10M880 1365h10m20 0h10m40 0h10M910 1375h10m10 0h10m1740 0h30M620 1385h20m270 0h10m10 0h10m1720 0h50M600 1395h20m300 0h20m1710 0h10m30 0h20M600 1405h10m10 0h20m280 0h20m1700 0h10m50 0h10M600 1415h20m20 0h10m230 0h10m1740 0h10m60 0h20M610 1425h10m230 0h10m30 0h10m10 0h10m1790 0h10M600 1435h20m250 0h10m10 0h10m1710 0h20m70 0h10M640 1445h10m260 0h10m1680 0h20m80 0h10M600 1455h40m110 0h10m10 0h10m70 0h20m30 0h20m1680 0h20m70 0h10M610 1465h10m20 0h10m1940 0h40m60 0h10M630 1475h10m360 0h10m1550 0h10m10 0h20m20 0h60M620 1485h10m10 0h20m340 0h10m10 0h10m10 0h10m1500 0h10m70 0h10M630 1495h10m370 0h10M610 1505h30m370 0h20m20 0h10m1310 0h10M610 1515h10m40 0h10m350 0h20m1220 0h20m70 0h50M620 1525h20m360 0h10m1250 0h40m50 0h70M650 1535h10m340 0h10m1250 0h30m60 0h50M2270 1545h20m60 0h50M670 1555h20m1570 0h10m10 0h10m60 0h40M710 1565h10m110 0h20m90 0h20m1300 0h10m80 0h30m70 0h10M830 1575h20m1510 0h10M730 1615h10M640 1625h20m50 0h20M620 1635h20m20 0h10m20 0h40m260 0h10M610 1645h10m40 0h10M610 1655h10m10 0h10M780 1665h10M2020 1695h10M2020 1705h30M1060 1715h10m170 0h10m10 0h10m1200 0h10M1060 1725h10m180 0h10m10 0h10m1170 0h40M1060 1735h10m20 0h10m900 0h10m430 0h20m20 0h10M2440 1745h20m10 0h10M1050 1755h10m10 0h10m10 0h10M1070 1765h10M2470 1785h30M1610 1795h10m860 0h20M1910 1835h10M1500 1845h30m360 0h30m10 0h10m10 0h10M1500 1855h20m10 0h10m360 0h10m50 0h10M1500 1865h20m10 0h30m340 0h10m50 0h10M1410 1875h30m60 0h20m10 0h20m350 0h20M1390 1885h60m40 0h60m370 0h30m10 0h10M1400 1895h60m40 0h50M1390 1905h70m30 0h70M1380 1915h40m20 0h50m10 0h50M1380 1925h60m10 0h20m10 0h40M1370 1935h10m10 0h10m70 0h30M1370 1945h10m80 0h50M1470 1955h30M1480 1965h20M1470 1975h10M1500 2015h10M2590 2065h10"/>
<path stroke="#f83d31" d="M410 375h10M400 385h10M400 405h10m10 0h10M400 425h10M360 435h10m10 0h10m30 0h10m170 0h10M360 445h10m40 0h10M520 455h10m40 0h10M420 465h10M420 475h10M390 485h10m20 0h20M360 495h10m20 0h10m20 0h10m290 0h10M350 505h10m20 0h20m20 0h20m70 0h10m130 0h10M340 515h10M350 525h10m60 0h10M360 535h10m30 0h10m30 0h20m10 0h10m10 0h10m10 0h20M380 545h10m40 0h50m30 0h20M450 555h20m70 0h10m20 0h10M450 565h20M440 575h10m90 0h20M540 585h20m270 0h10M440 595h10m90 0h10m280 0h10M440 605h10m90 0h20M440 615h20m70 0h30m290 0h20M440 625h10m90 0h10m300 0h10M320 635h10m100 0h10m100 0h10m50 0h10M340 645h10m100 0h20m10 0h40m20 0h10m20 0h10M330 655h10m10 0h10m120 0h10m30 0h30M310 665h10m130 0h10m60 0h10M320 675h10m10 0h20m80 0h30m60 0h10M320 685h10m10 0h20m50 0h10m10 0h50M320 695h50m40 0h10m10 0h30m10 0h10M310 705h40m10 0h10m80 0h40M320 715h20m60 0h20m10 0h30m20 0h10M310 725h10m10 0h30m30 0h20m10 0h40m20 0h10M340 735h20m30 0h50m10 0h30M320 745h10m10 0h20m10 0h10m40 0h20m30 0h10M340 755h50M350 765h10m30 0h10M280 775h10m60 0h10m10 0h20m10 0h10M280 785h10m70 0h10m10 0h20M340 795h20m50 0h10m190 0h10M340 805h40M350 815h10M260 835h10m340 0h10M260 845h10M330 855h10M260 865h20m60 0h10M270 885h10m30 0h10m50 0h10M330 895h10M180 905h10m150 0h10m10 0h10m300 0h40m20 0h10M170 915h10m100 0h30m50 0h20m300 0h30m20 0h10M190 925h10m90 0h10m30 0h10m30 0h10M290 935h20m10 0h20M250 945h10m10 0h10m50 0h10m10 0h20M250 955h10m20 0h20M250 965h20m50 0h30M260 975h10m30 0h10M190 985h10m90 0h10m160 0h10M240 995h20M210 1005h10m20 0h10m700 0h10m40 0h20M220 1015h10m770 0h10M200 1025h10m10 0h10m790 0h10M320 1035h10m90 0h10m570 0h10M200 1045h10m20 0h10m100 0h10m60 0h30M420 1055h10m10 0h10m40 0h20M290 1065h10m110 0h10m10 0h10M270 1075h10M280 1085h10m50 0h10M280 1095h10m60 0h10M230 1105h10m10 0h10m10 0h40m10 0h10m10 0h40m770 0h10M240 1115h10m100 0h20m770 0h30M230 1125h20m120 0h10m770 0h20M230 1135h10m60 0h10m60 0h10m740 0h10m50 0h10M220 1145h10m100 0h20m790 0h10M210 1155h10m10 0h10m100 0h10m80 0h10m700 0h10M200 1165h10m30 0h10m100 0h10m130 0h10M240 1175h20m70 0h10m150 0h10M240 1185h20m70 0h10m120 0h10m10 0h30M200 1195h10m120 0h20m150 0h10M230 1205h20m100 0h10m60 0h10m50 0h30M250 1215h10m80 0h20m60 0h10m10 0h10m30 0h20M350 1225h30m30 0h50m30 0h10m10 0h10M260 1235h20m70 0h20m40 0h10m20 0h10m10 0h40m10 0h10m20 0h10M410 1245h10m10 0h10m10 0h10m90 0h10M360 1255h10m10 0h10m50 0h10m90 0h30M260 1265h10m90 0h10m380 0h10M260 1275h10m100 0h10m30 0h10m80 0h10m20 0h10m390 0h10M260 1285h10m110 0h20m20 0h10m10 0h10m50 0h10m10 0h20M230 1295h40m150 0h10m60 0h10m20 0h20m380 0h10M290 1305h20m180 0h10m20 0h10m10 0h10M300 1315h10m180 0h30m20 0h10m30 0h10M300 1325h10m10 0h10m150 0h40m50 0h30M310 1335h20m150 0h60m30 0h10m10 0h10m350 0h10M330 1345h10m150 0h10m20 0h60m30 0h10m270 0h10m20 0h10m10 0h10m20 0h10M500 1355h40m80 0h10m270 0h10m30 0h20M270 1365h10m10 0h30m180 0h40m80 0h10m260 0h10m20 0h30M290 1375h10m200 0h10m10 0h40m50 0h10m280 0h10m10 0h10M300 1385h20m40 0h10m130 0h10m10 0h60m10 0h10m10 0h10m300 0h10M290 1395h20m50 0h30m90 0h10m20 0h70m10 0h10m340 0h10m1710 0h30M300 1405h40m20 0h10m10 0h10m70 0h10m10 0h10m10 0h20m20 0h10m40 0h10m10 0h10m2030 0h10m30 0h10M350 1415h10m110 0h10m10 0h30m60 0h20m2090 0h10M490 1425h30m70 0h20m270 0h10m1740 0h10m50 0h20M480 1435h20m90 0h10m30 0h10m220 0h10m30 0h10m1720 0h10m50 0h10M360 1445h40m80 0h40m70 0h10m290 0h10m1720 0h20m50 0h10M350 1455h50m120 0h10m350 0h20m1720 0h20m40 0h10M350 1465h40m210 0h10m20 0h10m1990 0h20m10 0h30M360 1475h10m240 0h20m10 0h10m380 0h10M630 1485h10M470 1495h10m40 0h10m80 0h20m360 0h10m20 0h30M460 1505h20m30 0h10m80 0h10m30 0h10m340 0h10m30 0h10m20 0h10M460 1515h30m20 0h20m70 0h10m10 0h20m350 0h10m10 0h10m20 0h20M470 1525h20m20 0h20m80 0h10m410 0h10M500 1535h40m80 0h30m340 0h10M450 1545h10m160 0h10m10 0h30M660 1555h10M680 1565h30M420 1575h10m280 0h10M670 1585h10m40 0h10M620 1595h30m10 0h10M620 1605h30m10 0h20M630 1615h40m40 0h10M610 1625h30m20 0h20m10 0h20m20 0h10M610 1635h10m50 0h10M590 1645h20M1240 1705h20M1250 1715h10M1090 1725h10M2460 1735h20M1060 1745h20m10 0h10M1060 1775h10M1920 1845h10m10 0h10M1520 1855h10m380 0h20m10 0h20M1520 1865h10m380 0h10m20 0h20M1520 1875h10m390 0h40M1420 1915h20m50 0h10M1500 1935h10"/>
<path stroke="#f81814" d="M410 385h10m10 0h10M360 425h10M370 435h10m20 0h10M370 445h40M380 455h10m10 0h20M380 465h10m20 0h10M390 475h30M400 485h10M400 495h20M360 505h20m20 0h20M360 515h40m10 0h20m80 0h10M360 525h10m10 0h40m60 0h20m10 0h10M370 535h20m20 0h10m80 0h10M480 545h30M470 555h20m10 0h40M470 565h50m10 0h40M450 575h40m10 0h40M440 585h50m10 0h40M450 595h30m20 0h40M450 605h20m30 0h40M460 615h10m40 0h20M450 625h20m20 0h50M450 635h20m10 0h60M440 645h10m20 0h10m40 0h20m10 0h10m50 0h10M340 655h10m100 0h10M330 665h20M330 675h10M330 685h10M380 695h10m30 0h10m30 0h10M430 705h20M340 715h10m40 0h10m20 0h10m30 0h20M320 725h10m80 0h10m40 0h20M320 735h20M410 755h20M280 765h10m90 0h10m10 0h10m10 0h10M390 775h10M370 785h10m20 0h10M370 795h20m10 0h10M340 815h10M350 905h10M340 915h20M270 925h10M340 935h10M310 945h10M340 955h20M210 965h10M230 995h10M230 1005h10m750 0h10m20 0h10M1010 1015h20M210 1025h10m10 0h20m130 0h10M230 1035h10M280 1045h10m10 0h10M290 1055h10m110 0h10M340 1095h10M260 1105h10m40 0h10m10 0h10M250 1115h100M250 1125h120M240 1135h20m20 0h20m10 0h60m780 0h10M230 1145h20m40 0h40M220 1155h10m10 0h20m50 0h30m20 0h10M210 1165h30m10 0h20m50 0h30m130 0h10M200 1175h40m20 0h10m70 0h10M200 1185h40M210 1195h50M210 1205h20m20 0h20m60 0h10M220 1215h10m10 0h10m10 0h20M210 1225h80m210 0h10M200 1235h60m20 0h10m50 0h10m70 0h20m10 0h10M200 1245h90m60 0h10m60 0h10m10 0h10m10 0h30M200 1255h30m10 0h50m60 0h10m50 0h30m10 0h40m10 0h20m10 0h10M210 1265h50m10 0h10m130 0h10m30 0h20m10 0h40m10 0h10M230 1275h30m10 0h20m70 0h10m50 0h60m10 0h10m10 0h10m20 0h10M220 1285h40m10 0h40m60 0h10m50 0h10m10 0h30m10 0h10m10 0h10M220 1295h10m40 0h50m60 0h20m10 0h10m10 0h20m10 0h30m10 0h20M230 1305h60m20 0h10m70 0h10m10 0h40m10 0h30m10 0h10m60 0h10M230 1315h10m40 0h20m10 0h20m100 0h10m10 0h40m30 0h10m390 0h10M270 1325h30m10 0h10m10 0h10m80 0h20m10 0h30m50 0h10M250 1335h60m20 0h10m80 0h10m10 0h40m60 0h10m390 0h10m10 0h10M240 1345h90m80 0h30m10 0h20m10 0h10m90 0h10M250 1355h100m10 0h10m20 0h60m20 0h30m40 0h50m10 0h20m270 0h10m10 0h10M240 1365h30m10 0h10m30 0h60m20 0h40m10 0h10m20 0h20m40 0h80M240 1375h50m10 0h150m10 0h40m10 0h10m40 0h50M240 1385h60m20 0h40m10 0h60m10 0h60m10 0h10m60 0h10m10 0h10M250 1395h40m20 0h50m30 0h90m10 0h20m70 0h10M260 1405h40m40 0h20m10 0h10m10 0h10m10 0h10m10 0h30m10 0h10m10 0h10m20 0h20m10 0h40m2070 0h30M290 1415h60m10 0h60m20 0h30m10 0h10m30 0h60m2060 0h50M300 1425h190m30 0h30m20 0h20m2050 0h10m10 0h30M310 1435h130m10 0h30m20 0h50m30 0h10m2050 0h20m10 0h20M320 1445h40m40 0h30m10 0h10m10 0h20m40 0h30m30 0h10m290 0h10m1750 0h50M340 1455h10m50 0h120m10 0h10m30 0h30m2040 0h40M390 1465h40m10 0h100m30 0h30m2050 0h10M370 1475h160m20 0h20m10 0h10m10 0h10M370 1485h160m20 0h20m10 0h40m390 0h10M380 1495h90m10 0h40m10 0h80M400 1505h30m10 0h20m20 0h30m10 0h20m10 0h50m380 0h10m10 0h10m30 0h10M440 1515h20m30 0h20m20 0h30m20 0h20m400 0h10M410 1525h10m30 0h20m20 0h20m20 0h80M420 1535h80m40 0h20m10 0h50M400 1545h50m10 0h90m20 0h50m10 0h10M400 1555h80m20 0h30m30 0h100M400 1565h90m10 0h30m50 0h100M400 1575h20m10 0h40m10 0h50m60 0h50m10 0h60M410 1585h120m70 0h70m10 0h20m10 0h10m10 0h10M520 1595h20m50 0h30m30 0h10m10 0h70M530 1605h90m30 0h10m20 0h60M540 1615h40m10 0h40m40 0h40m10 0h10M560 1625h20m10 0h20m70 0h10M580 1635h30m70 0h10M630 1645h10M1070 1715h10M1080 1725h10M1080 1735h10M1080 1745h10M1930 1855h10M1920 1865h20"/>
<path stroke="#d60c0a" d="M350 415h20M370 425h10M370 455h10M370 465h10m20 0h10M370 475h10M410 485h10M350 515h10m40 0h10M370 525h10m120 0h10M390 535h10M490 555h10M520 565h10M490 575h10M490 585h10M480 595h20M470 605h30M470 615h40M470 625h20M440 635h10m20 0h10M520 675h10M380 745h40M400 755h10M410 765h10M410 785h10M360 875h10M340 925h30M350 935h20M340 945h10M330 955h10M220 1005h10M230 1015h20M1010 1025h10M210 1035h20m10 0h10M260 1135h20M250 1145h40m60 0h10M260 1155h50M270 1165h10m10 0h30M300 1175h30M260 1185h20m40 0h10M260 1195h10m50 0h10M270 1205h30m20 0h10M230 1215h10m40 0h10m30 0h20m40 0h10m120 0h10M290 1225h10m30 0h20M290 1235h10M290 1245h10m40 0h10m140 0h10M230 1255h10m50 0h10m40 0h10m140 0h10m20 0h10M280 1265h20m50 0h10m60 0h30m20 0h10m40 0h10M210 1275h20m60 0h20m40 0h10m120 0h10M310 1285h20m20 0h20m110 0h10M350 1295h30m20 0h10m40 0h10M320 1305h20m20 0h30m10 0h10m40 0h10m50 0h10M240 1315h40m50 0h20m10 0h70m10 0h10M240 1325h30m70 0h80m20 0h10M240 1335h10m90 0h80m10 0h10M340 1345h70m30 0h10m20 0h10m110 0h20M350 1355h10m10 0h20m60 0h20m120 0h10M380 1365h20m40 0h10m10 0h20M450 1375h10M430 1385h10M400 1405h10m10 0h10M420 1415h20M550 1425h20m2080 0h10M440 1435h10m100 0h30m2080 0h10M430 1445h10m10 0h10m90 0h30m290 0h10M540 1455h30M430 1465h10m100 0h30M530 1475h20m20 0h10m10 0h10M530 1485h20m20 0h10M390 1505h10m30 0h10m100 0h10M390 1515h50m120 0h20M400 1525h10m10 0h30m540 0h10M400 1535h20m140 0h10M550 1545h20M480 1555h20m30 0h30M490 1565h10m30 0h10m20 0h20M470 1575h10m50 0h10m30 0h20m50 0h10M530 1585h20m30 0h20m100 0h10M540 1595h50M580 1615h10M580 1625h10M1070 1725h10M1070 1735h10"/>
<path stroke="#b40000" d="M280 1165h10M270 1175h30M280 1185h40M270 1195h50M300 1205h20M290 1215h30M300 1225h30M300 1235h40M300 1245h40M300 1255h40M300 1265h50M310 1275h40M330 1285h20M320 1295h30M340 1305h20M350 1315h10M540 1565h20M540 1575h30M550 1585h30"/></g>
<clipPath id="panel"><rect x="100" y="297.9" width="3048" height="1973.8"/></clipPath><g clip-path="url(#panel)" fill="none" stroke="#333" stroke-width="3.9" stroke-linejoin="round" stroke-linecap="round"><path d="M411.4 384l4.4 29.3 -4.4 21.9 -5.5 25.7 -4.8 25.6 -11.7 18.3 -16.5 4.4 -6.2 -15.4 8 -18.3 12.8 -25.6 -3.6 -13.9 -27.5 -18.3 -22 -8.1 -20.1 -11 -7.3 16.5 1.8 34.8 3.7 36.6 -1.9 14.7 9.2 4.4 -10.3 7.3 -4.4 21.2 -5.5 15.4 5.5 7.3 -11 17.6 -7.3 29.3 -11 29.3 -11 33 -11 33 -14.6 25.6 -16.5 18.3 -12.8 25.7 -5.5 21.9 -3.7 25.7 1.9 14.6 -5.5 14.7 3.6 22 -9.1 22 -14.7 25.6 -14.6 22"/>
<path d="M305.1 556.8l22 3 18.3 14.6 3.7 29.3 18.3 16.5 25.6 -3.6 25.7 9.1 32.9 5.5 36.7 1.8 43.9 -1.8 97.1 22.7"/>
<path d="M669.6 451.7l-40.3 177.7 0 24.5 9.2 15.8 7.3 14.6 -18.3 25.7 -14.7 21.9 -18.3 22 -5.5 11 11 14.7 -7.3 18.3 -29.3 125.6"/>
<path d="M713.6 462.7l-12.9 65.9 9.2 31.2 12.8 22 18.3 36.6 7.4 14.6 12.8 1.9 -5.5 23.8 -11 18.3 1.8 14.6 -9.1 14.7 7.3 11 22 -11 7.3 22 7.3 29.3 14.7 22 3.6 18.3 7.4 5.5 25.6 -5.5 22 5.5 18.3 -1.9 7.3 -9.1 7.3 9.1 5.5 14.7"/>
<path stroke-width="3" d="M759.3 299.7l0 40.3 14.7 14.7 11 21.9 7.3 29.3 -9.1 25.7 7.3 22 16.5 23.8"/>
<path stroke-width="3" d="M279.5 299.7l3.7 18.3 -3.7 22 11 14.7 9.1 -3.7 3.7 14.6 23.8 22 29.3 25.7 22 5.5 11 -12.9 -16.5 -29.3 -16.5 -25.6 -14.6 -33 -7.4 -18.3"/>
<path stroke-width="3" d="M411.4 384l-1.9 -9.2 -11 1.8 -5.5 -14.6 22 -3.7 1.8 -7.3 -16.4 -11 -7.4 -18.3 -14.6 -22"/>
<path d="M1581.3 558.7l8.1 19.4 -4.4 18.3 7.3 36.6 7.3 29.3 1.9 36.7 3.6 25.6 5.5 18.3 1.9 27.5 -3.7 12.8 -11 7.3 7.3 14.7 12.8 7.3 -0.7 127.5"/>
<path d="M1700 574.4l18.3 3.7 25.7 11.7 14.6 -8 25.6 0 12.9 9.1 12.8 12.8 14.6 -4.4 18.4 13.6 14.6 2.6 22 -11.8 11 9.2 25.6 -1.8 14.7 5.5 11 -2.6"/>
<path d="M1941.8 614l-22 15.4 -25.7 14.6 -21.9 18.3 -22 25.7 -22 20.1 14.7 5.5 21.9 -5.5 16.5 -7.3 3.7 16.5 12.8 -7.3 12.8 7.3 23.8 -11 7.4 -7.3 21.9 -7.4 11 -10.9 18.3 -18.4 18.4 -12.8 20.1 -1.8 -9.2 11 -14.6 18.3 -7.3 16.5 11 -9.2 18.3 1.9 18.3 9.1 9.1 14.7 20.2 1.8 11 -5.5 14.6 -5.5 11 -7.3 25.7 -5.5 25.6 -5.5 3.7 18.3 18.3 1.8 18.3 -9.1"/>
<path d="M2205.5 693.5l5.5 20.1 9.1 11 -7.3 3.7 -22 3.6 -3.6 11 -14.7 -11 -22 -1.8 -18.3 9.2 -18.3 7.3 -11 14.6 -7.3 11 -14.6 18.3 -11 14.7 -7.4 7.3 -11 0 -5.4 18.3 -7.4 20.2 9.2 -9.2 18.3 -25.6 14.7 -25.7 14.6 -32.9 -7.3 29.3 -7.3 14.6 -11 29.3 -7.4 36.7 -5.5 36.6 -5.5 35.9"/>
<path d="M2128.6 940l-11 -28.6 -1.8 -32.9 9.1 -25.7 1.8 -25.6 18.4 -22 9.1 14.7 5.5 -29.4 14.7 -25.6 9.1 -18.3 5.5 -3.7 16.5 11 22 7.3 18.3 7.4 14.6 11 5.5 10.9 -7.3 3.7 9.2 18.3 1.8 29.3 -9.2 18.3 -14.6 11 0 14.7 11 5.5 14.6 -20.2 18.3 -14.6 14.7 7.3 11 25.7 7.3 21.9 5.5 14.7 1.8 13.9"/>
<path d="M1828.2 708.1l-10.3 9.2 -0.7 40.3 -7.3 3.6 -16.5 22 -1.8 7.3 12.8 14.7 -7.3 22 1.8 22 22 18.3 22 18.3 21.9 14.6 11 14.7 5.5 24.9"/>
<path d="M1910.6 717.3l14.7 16.5 31.1 9.1 33 7.4 22 3.6 14.6 11 11 7.3 5.5 18.3 5.5 7.4 3.6 14.6"/>
<path stroke-width="3" d="M1941.8 614l14.6 -17.6 3.7 -14.6 18.3 -7.4 7.3 -14.6 14.7 -14.7 11 -3.6 18.3 9.1 36.6 1.9 18.3 -1.9 11 12.8 11 25.7 14.6 12.8 18.4 1.8 25.6 -4.4 -5.5 22.8 12.8 10.9 11 11 -7.3 22 11 11 7.3 14.6 11 1.9"/>
<path stroke-width="3" d="M1960.1 623.9l18.3 -12.8 18.3 -11 -14.6 14.6 -18.4 12.8 -3.6 -3.6"/>
<path stroke-width="3" d="M2364.8 299.7l9.2 40.3 43.9 252.7 14.7 25.7 22 33 18.3 14.6 27.1 -1.8"/>
<path stroke-width="3" d="M2220.1 724.6l-7.3 -22 36.7 3.7 36.6 0 36.6 0 36.6 3.7 20.2 0 9.1 14.6 14.7 18.3 18.3 18.3 20.2 20.2 -9.2 23.8 -18.3 -3.7 -25.7 -7.3 -3.6 9.2 -14.7 5.5 -7.3 21.9 -11 18.4 3.7 25.6 3.6 22 -14.6 22 -14.7 5.4"/>
<path stroke-width="3" d="M2220.1 724.6l29.4 3.7 36.6 7.3 36.6 9.2 11 -5.5 -3.7 -22 -43.9 -3.7 -36.6 -3.6 -25.7 3.6"/>
<path stroke-width="3" d="M2337.4 757.6l21.9 18.3 18.4 18.3 7.3 9.2"/>
<path d="M2639.2 768.6l14.6 -25.7 18.4 -21.9 18.3 -5.5"/>
<path d="M2690.5 715.5l58.6 -13.6 86.1 -21.2 1.8 -18.4 14.6 -7.3 11 -3.6 3.7 -18.4 7.3 -7.3 3.7 -22 -3.7 -25.6 5.5 -33 9.2 -29.3 11 -29.3 9.1 0 5.5 11 14.7 -7.3 14.6 -9.2 18.3 3.7 12.9 9.1 23.8 80.6 14.6 9.2 11 12.8 7.3 14.7 14.7 3.6 11 14.7"/>
<path d="M3056.8 629.4l-7.3 11 -18.4 11 -18.3 14.6 -18.3 11 -22 11 -3.6 18.3 -11 11 -18.3 11 -14.7 14.6 -3.7 18.3 -7.3 18.4 -1.8 21.9 -3.7 14.7 12.8 12.8 -10.9 16.5 -1.9 11 16.5 11 18.3 14.6 22 0 7.3 -11 -18.3 -11 18.3 7.4 3.7 22 -18.3 7.3 -18.3 7.3 -7.4 11 -14.6 -3.7 -11 14.7 -7.3 13.9"/>
<path d="M2851.6 655l42.2 139.2 16.5 7.3"/>
<path d="M2835.2 680.7l5.5 21.9 -1.9 18.4 -16.5 14.6 3.7 22 -5.5 29.3 1.8 25.6 3.7 33"/>
<path d="M2749.1 701.9l3.6 22.7 7.4 18.3 3.6 29.3 7.4 25.7 7.3 3.6 11 53.2"/>
<path d="M2789.4 854.7l98.9 -22 18.3 -16.5"/>
<path d="M2789.4 854.7l1.8 49.4 5.5 35.9"/>
<path d="M2791.2 904.1l104.4 -23.8 7.3 20.1 3.7 25.7"/>
<path d="M2875.5 885.8l9.1 40.3 -3.6 13.9"/>
<path stroke-width="3" d="M2500 664.2l22 1.8 22 9.2 21.9 7.3 14.7 18.3 18.3 3.7 22 -1.9 14.6 -11 18.3 -12.8 18.4 -5.5 18.3 1.9 14.6 5.5"/>
<path stroke-width="3" d="M2690.5 715.5l14.6 -23.9 22 -21.9 11 -36.7 18.3 -21.9 22 -29.3 36.6 -25.7 14.7 -25.6 18.3 -33 18.3 -47.6 14.7 -55 21.9 -32.9 36.7 -25.7 9.1 -18.3 -1.1 -19"/>
<path stroke-width="3" d="M2734.4 669.7l22 -51.3 36.6 -47.6 29.3 -22 22 -25.6 22 -58.7 22 -32.9 32.9 -36.7 66 -54.9 32.9 -14.7 36.7 -3.6 29.3 7.3 14.6 11 -14.6 22 -14.7 18.3 -14.6 14.6 -25.7 -1.8 -18.3 12.8 -22 18.3 -18.3 9.2 -12.8 -5.5 -20.1 9.2 -12.9 7.3 7.4 23.8 -5.5 22"/>
<path stroke-width="3" d="M3056.8 424.2l14.6 -18.3 22 -3.6 7.3 -14.7 -7.3 25.7 0 32.9 -11 9.2 22 -5.5 3.7 18.3 21.9 18.3 11 11 5.5 0 0 40.3 -23.8 25.6 -22 18.4 -29.3 21.9 -14.6 25.7"/>
<path stroke-width="3" d="M3146.5 437.1l-5.5 5.5 -7.3 25.6 12.8 0 0 -31.1"/>
<path stroke-width="3" d="M3146.5 578.1l-31.1 40.3 -14.7 33 -5.5 7.3 12.9 -25.7 -1.9 18.4 5.5 18.3 11 18.3 23.8 12.8 0 -122.7"/>
<path d="M162.3 940l11 22 5.5 22 -3.7 21.9 -5.5 14.7 -3.7 23.8 12.9 20.1 9.1 22 3.7 18.3 -5.5 14.7 12.8 7.3 11 11 -5.5 18.3 -1.8 22 7.3 18.3 14.6 11 3.7 14.7 -14.6 7.3 -1.9 22 9.2 14.6 7.3 18.3 7.3 18.3 11 18.4 3.7 14.6 7.3 14.7 -3.7 18.3 -5.4 18.3 9.1 9.1 22 5.5 18.3 11 14.7 7.4 10.9 14.6 14.7 12.8 18.3 5.5 5.5 14.7 9.2 9.1 14.6 12.9 11 14.6 9.2 18.3 5.5 17.6"/>
<path d="M649.5 1302.6l-12.9 55 -9.1 11 -7.4 -7.4 -7.3 -5.4 -16.5 3.6 -1.8 20.2 -1.8 29.3 -5.5 23.8 -1.9 12.8 7.4 18.3 1.8 14.7 12.8 9.1 -20.1 11 -9.2 12.8 -1.8 18.3 -7.3 10.3"/>
<path d="M1511.7 974.1l11 8 14.7 9.2 7.3 -7.3 25.6 0.7 14.7 6.6 14.6 7.3 11 11"/>
<path d="M1610.6 940l3.7 22 -7.3 25.6 3.6 22 12.8 22 9.2 22 3.7 21.9 7.3 22 1.8 33 9.2 16.5 7.3 20.1 7.3 19.1 3.7 -4.4 14.6 10.9 12.5 9.2"/>
<path d="M2049.8 940l7.3 29.3 1.9 29.3 7.3 22 11 22 14.6 7.3 18.4 -7.3 16.4 -18.4 9.2 -21.9 3.7 -25.7 -1.9 -25.6 -3.6 -11"/>
<path d="M1916.1 1002.3l141 -9.2"/>
<path d="M1881.3 940l5.5 22 11 25.6 18.3 14.7 11 11 12.8 14.6 1.9 18.3 -11 18.3 -18.3 11 -16.5 7.4 1.8 18.3 5.5 11 -7.3 18.3 -12.8 12.8 -5.5 20.1 3.6 22 12.8 18.3 18.4 18.4 12.8 14.6 3.6 14.7 12.9 0 14.6 9.1 -5.5 20.2 -5.5 14.6 7.3 11 18.4 14.7 18.3 12.8 7.3 12.8 5.5 18.3 9.2 16.5 9.1 9.1 -5.5 22 -14.6 7.4 -3.7 21.9 -5.5 14.7 -1.8 18.3 -11 14.7 -7.3 21.9 -7.4 18.3 -9.1 10.3"/>
<path d="M1689 1146.2l11 -0.3 163 -8.1 16.5 14.7"/>
<path d="M1694.1 1201.9l5.9 27.5 14.7 14.6 1.8 153.9 0 32.9 12.8 80.6 -0.7 28.6"/>
<path d="M1716.5 1430.8l247.2 -8 7.4 11.7 -14.7 23.8 34.8 -1.8"/>
<path d="M2079.1 1046.2l12.8 164.9 5.5 40.3 -9.1 25.6 -11 18.3 -3.7 25.7"/>
<path d="M2011.4 1381.4l7.3 -11 11 -3.7 21.9 9.2 3.7 -22 18.3 -11 -3.6 -18.3 11 -11 21.9 -3.6 22 7.3 14.7 -12.8 18.3 -3.7 7.3 -12.8 18.3 11 7.3 -18.3 11 -14.7 7.4 -22 18.3 -7.3 14.6 -7.3 -3.6 -14.7 18.3 -3.6 14.6 14.6 14.7 5.5 18.3 7.3 18.3 -3.6 18.3 -9.2 14.7 11 9.1 9.2 12.9 -12.9 7.3 -25.6 14.6 -7.3 3.7 -18.3 14.6 -14.7 14.7 -11 11 -22 3.7 -29.3 1.8 -25.6"/>
<path d="M2218.3 1029.7l22 183.2"/>
<path d="M2115.8 1038.9l102.5 -9.9 69.6 -7.7"/>
<path d="M2449.1 1079.2l12.8 58.6 38.1 -5.5"/>
<path d="M2364.8 1245.9l1.9 16.4 11 18.4 14.6 14.6 14.7 9.2"/>
<path d="M2407 1304.5l-29.3 27.4 -22 29.3 -33 20.2"/>
<path d="M2005.9 1418l75.1 -3.6 0 -12.1 241.7 -20.9"/>
<path d="M2434.4 1364.9l-5.5 18.3 -18.3 14.7 -25.6 14.6 -14.7 18.3 -25.6 18.4 -22 10.9 -18.3 18.4 -3.7 17.5"/>
<path d="M1963.7 1529.7l119.1 -9.1 146.5 -12.8 71.4 -11.8 69.6 -6.5 36.7 -20.2 76.9 -9.2 16.1 14.7"/>
<path d="M2082.8 1520.6l5.5 19.4"/>
<path d="M2229.3 1507.8l9.2 32.2"/>
<path d="M2370.3 1489.5l-11 21.9 18.4 14.7 10.9 13.9"/>
<path d="M2933 937.8l-28.6 -8.8 -33 7.3 -40.3 3.7 -36.6 16.5 -7.3 25.6 -7.3 20.2 -3.7 16.5"/>
<path d="M2779.9 1016.9l14.6 -25.6 36.6 -23.8 29.3 -14.7 29.3 -12.8 18.4 -9.2 -22 20.2 -36.6 23.8 -36.7 25.6 -25.6 19.5"/>
<path d="M2776.2 1018.8l14.6 5.4 5.5 36.7 -5.5 25.6 -10.9 22 -5.5 14.7 -7.4 12.8 -12.8 -16.5 -14.6 -7.3 -14.7 -11 -3.7 -11 3.7 14.6 11 18.4 18.3 21.9 9.2 14.7 3.6 14.6 -1.8 22 -7.3 14.7 -7.4 18.3 -3.6 22 -3.7 18.3 -5.5 0 -5.5 -18.3 3.7 -22 -7.3 -25.7 -11 -14.6 -11 -14.7 -3.7 -14.6 -7.3 -14.7 3.7 -21.9 1.8 -14.7 -12.8 7.3 -7.3 22 3.6 18.3 7.3 18.3 7.4 18.3 3.6 16.5 -18.3 1.9 -18.3 -7.4 -18.3 -7.3 3.6 -18.3 9.2 -16.5 -3.7 20.2 12.9 14.6 18.3 7.3 18.3 11 7.3 18.3 7.3 18.4 -3.6 18.3 11 14.6 11 1.9 7.3 16.4 5.5 10.3 -12.8 15.4 -25.7 11 7.3 18.3 29.3 -7.3 18.4 10.9 -11 18.4 -25.7 14.6 -29.3 1.8 25.7 12.9 7.3 14.6 -18.3 3.7 25.6 3.6 3.7 22 -18.3 -3.6 -18.3 10.9 -14.7 11 -14.6 18.4 -7.4 21.9 -1.8 14.7 -20.2 3.6 -21.9 10.3"/>
<path d="M2752.4 1312.9l12.8 22.7 14.7 22 9.1 18.3 1.8 18.3 -18.3 18.3 -14.6 14.7 -11 25.6"/>
<path d="M2649.8 940.4l16.5 -1.5 47.6 1.1"/>
<path d="M2461.2 1137.8l247.2 -46.5 5.5 -6.6 7.3 -3.7"/>
<path d="M2713.9 940l14.7 18.3 9.1 7.3 -12.8 29.3 7.3 29.3 25.7 23.9 -18.3 23.8 -14.7 11 -3.7 7.3"/>
<path d="M2737.7 965.6l49.5 16.5"/>
<path d="M2712.1 1092l20.1 84.3 34.8 -5.5"/>
<path d="M2516.1 1130.5l5.5 32.9 16.5 -14.6 14.6 -20.2 18.4 3.7 14.6 -14.6 14.7 5.5 11 14.6 18.3 14.7 18.3 7.3 12.8 1.8"/>
<path d="M2611.4 1137.8l0 14.7 -31.2 -14.7 -1.8 22 -14.7 22 -14.6 14.6 -7.3 18.3 -20.2 -3.6 -5.5 21.9 -11 29.3 -7.3 22 -14.6 11 -14.7 7.3 -14.7 11 -14.6 0 -11 9.2 -14.6 -5.5 -7.4 -12.8"/>
<path d="M2323.8 1381.4l111.7 -16.5 316.9 -53.1"/>
<path d="M2369.6 1489.5l38.5 -20.2 75.1 -9.2 18.3 20.2 60.4 -8.4 78.8 59.7"/>
<path d="M409.9 1540l-1.8 18.3 3.6 16.5"/>
<path d="M411.7 1574.8l153.9 14.7 -16.5 3.6 -5.5 12.1 202.6 118.7 120.8 16.8 48.4 7.4 4.7 -30.4 94.2 9.1 0 -11"/>
<path d="M1014.3 1715.8l3.6 14.7 11 9.1 11 20.2 14.7 11 14.6 18.3 18.3 14.6 12.5 9.2"/>
<path d="M563.7 1540l-5.5 18.3 11 14.7 -3.6 16.5"/>
<path stroke-width="3" d="M411.7 1574.8l5.5 16.5 1.8 18.3 11 18.3 -7.3 18.3 9.2 14.7 5.5 18.3 1.8 14.6 7.3 14.7 -1.8 22 5.5 7.3 3.6 22 0 20.1 11 16.5 14.7 11 12.8 7.3 9.2 18.3 11 18.4 7.3 7.3 5.5 14.6 9.1 11 -5.5 14.7 -3.6 11 -3.7 7.3 -9.1 5.5 1.8 12.8 12.8 5.5 -7.3 -9.2 -14.7 -1.8 -14.6 -1.8 -23.8 -7.3 5.5 10.9 18.3 22 3.6 14.7 11 7.3 11 11 18.3 14.6 7.4 9.2 10.9 -3.7 11 9.2 7.4 -14.7 -7.4 14.7 14.7 14.6 14.6 14.7 11 11 7.4 11 7.3 22"/>
<path stroke-width="3" d="M543.6 1605.2l-9.2 0.7 -7.3 14.7 -2.9 20.1 10.2 12.9 -5.5 14.6 -7.3 25.6 3.7 22 1.8 25.7 -6.2 21.9 6.2 18.4 7.3 14.6 7.4 3.7 10.9 14.6 11 14.7 7.4 14.6 1.8 18.3 9.2 7.4 9.1 7.3 1.8 23.8 11 3.7 1.9 16.5 1.8 14.6 -1.8 11 5.5 14.6 14.6 11 3.7 18.3 11 18.4 5.5 18.3 -1.9 7.3 9.2 11 11 -11 5.5 25.6 1.8 22"/>
<path stroke-width="3" d="M521.6 1920.2l86.1 14.7"/>
<path stroke-width="3" d="M524.2 1640.7l28.5 23.8 14.7 14.7 12.8 1.8 1.9 -9.1 14.6 14.6 3.7 11 14.6 7.3 12.8 5.5 0 12.9 -5.5 14.6 0 14.7 7.4 14.6 3.6 14.7 0 18.3 7.4 22 7.3 18.3 5.5 11 1.8 21.9 11 14.7 11 22 12.8 12.8 9.2 20.1 7.3 12.9 14.6 9.1 5.5 -3.7 16.5 5.5 -9.1 12.9 1.8 18.3 11 14.6 11 9.2 11 1.8 3.6 22 11 11 9.2 -3.7 9.1 14.7 9.2 14.6 1.8 7.4"/>
<path stroke-width="3" d="M574.7 1822.1l7.4 -3.7 7.3 14.6 7.3 25.7 -7.3 -3.7 -9.2 -14.6 -5.5 -18.3"/>
<path stroke-width="3" d="M629.7 1877l9.1 -20.2 11 -1.8 3.7 14.7 -9.2 18.3 -14.6 -11"/>
<path stroke-width="3" d="M453.1 1895.3l6.2 -14.6 5.5 5.5 -3.6 18.3 -8.1 -9.2"/>
<path stroke-width="3" d="M873.3 1752.5l5.5 -3.7 -0.8 40.3 4.4 43.9 -7.3 44 -7.3 1.8 -0.8 42.2 -4.7 10.9 3.6 22 -9.1 5.5 -14.7 -9.1 -12.8 7.3 9.2 22 11 21.9 3.6 18.4 -3.6 14.6 10.9 11 11 -3.7 14.7 11 9.1 18.3"/>
<path stroke-width="3" d="M811 2082.1l48.7 -26.3"/>
<path stroke-width="3" d="M999.6 2096.8l11 -22 18.3 11 25.7 14.6 25.6 5.5 19.8 5.5"/>
<path d="M1100 1812.9l7.3 16.5 7.4 22 1.8 18.3 9.1 18.3 14.7 14.6 14.6 11 18.4 14.7 18.3 11 12.8 1.8 12.8 -14.7 9.2 -20.1 9.1 -14.7 22 -7.3 18.3 7.3 22 1.9 14.7 1.8 10.9 14.7 14.7 14.6 14.6 14.7 7.4 18.3 7.3 18.3 7.3 18.3 11 14.7 11 18.3 7.3 14.6 14.7 7.4 3.6 21.9 7.4 18.4 7.3 18.3 7.3 18.3 18.3 13.9"/>
<path d="M1900 1913.6l-30.8 1.9 -36.6 -9.2 -36.6 -5.5 -25.7 3.7 -25.6 9.1 -22 11 -7.3 11 -14.7 11 -21.9 18.3 -29.3 14.7 -25.7 12.8 -18.3 12.8 -22 18.3 -14.6 18.3 -11 22 -5.5 25.7 1.8 25.6 7.3 24.9"/>
<path d="M1411.4 1540l0 22 14.6 12.8 18.3 -1.8 11 14.6 18.3 7.3 22 3.7 22 -1.8 7.3 16.5 22 -3.7 14.6 7.3 11 11 14.7 -16.5 14.6 3.7 18.3 12.8 18.4 -9.1 25.6 -5.5 18.3 -3.7 18.3 11 18.3 11 10.3 5.5"/>
<path d="M1728.6 1540l0.7 97.1 22.7 0 1.8 38.4 1.9 69.6 11 14.7 3.6 18.3 11 18.3 5.5 18.3 -5.5 18.3 -5.5 18.4 1.9 18.3 -3.7 18.3 -7.3 14.6"/>
<path d="M1753.8 1675.5l146.2 -4.4"/>
<path stroke-width="3" d="M1193.4 1941.1l-45.8 73.3 12.8 86 16.5 18.4"/>
<path stroke-width="3" d="M1354.6 2089.5l-16.5 -7.4 3.7 -14.6 21.9 -7.4 14.7 -25.6 14.6 11 11 -3.7"/>
<path stroke-width="3" d="M1396.7 2056.5l14.7 25.6"/>
<path d="M2627.1 1540l-9.2 18.3 -9.1 18.3 -5.5 14.7 -14.7 7.3 -10.9 18.3 -18.4 14.7 -14.6 14.6 -14.7 22 -7.3 18.3 -7.3 25.7 -7.3 29.3 -3.7 29.3 11 25.6 14.6 33 18.4 32.9 18.3 25.7 14.6 18.3 7.3 11 -1.8 18.3 9.2 14.7 14.6 25.6 11 22 11 18.3 7.3 18.3 1.9 25.6 1.8 29.4 0 29.3 -3.7 21.2"/>
<path d="M2592.3 2140l-7.3 -10.3 -14.7 -14.6 -14.6 -7.3 -11 -3.7 -7.3 -18.3 -14.7 -14.7 -14.6 -3.6 -7.4 -14.7 0 -14.6 -14.6 -11 -14.7 -18.3 -7.3 -7.4 7.3 -11 7.4 -10.9 -14.7 -11 -11 7.3 -1.8 -14.7 5.5 -25.6 0 -22 -11 -22 -18.3 -3.6 -14.7 -14.7 -18.3 -18.3 -14.6 -11 -18.4 -9.1 -18.3 5.5 -3.6 9.1 -14.7 11 -22 14.7 -18.3 -1.9 -5.5 -11 -9.1 -12.8 -18.4 -11 -21.9 -7.3 -18.3 0 -25.7 5.5 -29.3 5.5 -18.3 5.5 -11 1.8 -7.3 -25.6 -5.5 20.1 -9.2 0 -14.6 1.9 -22 -3.7 -14.7 3.7 -14.6 5.5 -11 10.9 -14.6 11 10.9 7.4 14.7 3.6 -14.7 11 1.9 14.7 16.5 7.3 18.3 7.3 3.6 7.3 -18.3 11 -11 -14.6 -18.3 -7.3 -14.6 10.9 -18.4 7.4 -25.6 3.6 -22 -7.3 -11 -11 -18.3 -14.6 -7.3 -9.2"/>
<path d="M1954.9 1540l-10.9 22 -11 18.3 -11 25.6 -3.7 25.7 7.3 18.3 -3.6 20.1 7.3 23.8 9.2 22 -12.9 22 -10.9 18.3 -7.4 18.3 -7.3 18.3 -3.7 18.4"/>
<path d="M1896.3 1811.1l117.3 -6.6 -5.5 24.9 12.8 22 7.3 10.9"/>
<path d="M2088.6 1540l-5.4 190.5 14.6 113.5"/>
<path d="M2237 1540l44 135.5 9.1 14.7 -7.3 18.3 -1.8 22 7.3 29.3 5.5 20.1 9.1 18.3"/>
<path d="M2154.6 1836.7l-1.9 -14.6 -9.1 -11 -3.7 -16.5 153.9 -14.7"/>
<path d="M2302.9 1798.2l163 -9.8 3.7 13.5 7.3 -1.8 -1.8 -25.7 3.7 -7.3 27.4 3.7"/>
<path d="M2398.2 1540l21.9 22 25.7 18.3 18.3 22 22 21.9 14.6 22 14.7 22 14.6 7.3"/>
<path d="M1461.2 2137.6l14.6 9.2 22 11 22 1.8 14.6 5.5 14.7 9.1 18.3 -7.3"/>
<path d="M1552.7 2137.6l7.4 25.7 7.3 3.6"/>
<path d="M1561.9 2139.8l2.6 12.5 2.9 14.6"/>
<path stroke-width="3" d="M1567.4 2166.9l-1.8 18.3 -9.2 22 -11 18.3 -7.3 22 -6.2 22.7 -600 0"/>
<path stroke-width="3" d="M1404.4 2088.2l5.5 12.8 11 11 3.6 18.3 14.7 11 3.7 14.6 14.6 3.7 20.2 0 -1.9 36.6 7.4 3.7 -29.4 25.6 -9.1 -3.6 -7.3 7.3 -1.9 12.8 -14.6 3.7 -22 14.6 9.2 9.9"/>
<path stroke-width="3" d="M1354.9 2088.2l0 12.8 -10.9 12.8 -7.4 -5.5 -25.6 20.2 11 20.1 11 14.7 3.6 18.3 11 7.3 -7.3 1.8 14.6 12.9 16.5 3.6 -5.5 5.5 -25.6 -1.8 -9.2 9.1 -1.8 16.5 -1.8 18.3 -12.8 15.4"/>
<path stroke-width="3" d="M1300 2236.5l11 14.7 16.5 1.8 12.8 17.2"/>
<path d="M2585.7 2144.9l11 3.7 18.3 -3.7 14.7 -7.3"/>
<path d="M2638.8 2126.6l-9.1 22 -18.3 18.3 -18.4 12.8 -21.9 7.4 -18.4 9.1"/>
<path stroke-width="3" d="M617.6 2084.9l0.7 5.1 1.8 18.3 -9.1 25.7 -7.3 18.3 3.6 18.3 14.7 7.3 14.6 3.7 7.4 14.6 14.6 11 14.7 11 10.9 18.3 11 14.7 12.9 7.3 6.2 11.7 51.3 0"/>
<path stroke-width="3" d="M671.8 2068.8l-2.2 21.2 7.3 18.3 9.2 14.7 3.6 21.9 11 11 1.9 18.3 -7.4 14.7 1.9 14.7 12.8 14.6 12.8 -9.2 11 12.9 11 14.6 5.5 14.7 3.6 11 11.8 8"/>
<path stroke-width="3" d="M812.8 2088.5l-0.3 1.5 -12.9 7.3 -9.1 11 0 11 14.6 14.7 18.3 -9.2 -10.9 16.5 14.6 0 3.7 11 18.3 11 3.6 7.3 14.7 3.6 5.5 11 -3.7 11 1.9 11 11 7.3 10.9 7.4 11 14.6 14.7 18.3 13.5 15.4"/>
<path stroke-width="3" d="M895.2 2071.7l1.5 18.3 0 14.7 25.6 9.1 3.7 16.5 9.2 14.6 0 14.7 -5.5 18.3 3.6 18.3 9.2 11 11 14.7 7.3 18.3 9.2 3.6 9.1 -5.4 12.8 12.8 7.4 19"/>
<path stroke-width="3" d="M935.2 2149.7l21.9 1.8 14.7 -8.4 3.7 -16.5 9.1 -7.3 -1.8 -14.6 12.8 -3.7 5.5 -11"/>
<path stroke-width="3" d="M1100 2115.6l23.8 -23.8 34.8 5.5 12.8 14.7 9.2 14.6 -5.5 18.3 0 18.4 -11 14.6 1.8 11 -5.5 7.3 7.4 11 9.1 9.2 1.9 9.1 21.9 11 0 -11 12.9 -14.6 25.6 -1.9 23.8 9.2 11 11 7.3 11 22 -3.7 11 12.8 12.8 3.7 12.8 17.2"/>
<path stroke-width="3" d="M1213.6 2210.9l9.1 18.3 -1.8 27.5 -16.5 -1.9 -33 -3.6 -23.8 11 0 8"/>
<path d="M1266 540.5l-17.7 211.3 -6.1 65.7 -11.8 139.7 -11.8 140.2"/>
<path d="M1248.3 751.8l24.2 2 24.2 1.9 24.2 1.8 24.2 1.7 24.2 1.5 24.3 1.4 24.2 1.3 24.2 1.1 24.3 1 24.2 0.9 24.3 0.8 24.2 0.6 24.3 0.5 24.3 0.4 24.3 0.3"/>
<path d="M899.8 775.7l24.4 3.8 24.3 3.7 24.4 3.6 24.4 3.4 24.5 3.3 24.4 3.2 24.4 3.1 24.5 2.9 24.5 2.8 24.5 2.6 24.5 2.6 24.5 2.4 24.6 2.3 24.5 2.1"/>
<path d="M899.8 775.7l-33.2 207.9 -11.1 69.5"/>
<path d="M206.9 830.8l23 7 23 6.8 23.1 6.8 23.1 6.6 23.2 6.5 23.2 6.5 23.2 6.2 23.2 6.2 23.3 6.1 24.7 6.3 24.8 6.2 24.8 6 24.8 6 24.8 5.8 24.9 5.6 25.1 5.6 25.1 5.4 25.1 5.3 25.2 5.2 25.1 5.1 25.3 4.9 25.2 4.7 25.3 4.7 25.2 4.5 25.3 4.4 25.4 4.2 25.3 4.2"/>
<path d="M415.2 889.5l-52.8 204.7 19.1 31.3 19.5 31.3 19.7 31.2 20 31.2 20.3 31.1 20.6 31 20.9 30.9 21.2 30.8 21.4 30.8 21.8 30.6 22 30.6"/>
<path d="M714.9 956.9l-67.1 346"/>
<path d="M855.5 1053.1l20.7 3.2 20.7 3.2 20.6 3.1 20.7 3 20.8 2.9 25.8 3.5 25.9 3.3 26 3.3 25.9 3.1 26 2.9 25.9 2.9 26 2.7 26 2.5 26 2.4 26.1 2.3 20.8 1.7 20.9 1.7 20.9 1.5 20.9 1.5 20.9 1.4"/>
<path d="M959 1068.5l-38.4 279.4 -54.9 395.2"/>
<path d="M647.8 1302.9l24.7 4.7 24.7 4.5 24.8 4.5 24.7 4.3 24.8 4.2 24.8 4.1 24.9 4 24.8 3.8 24.9 3.8 24.8 3.6 24.9 3.5 25.5 3.4 25.5 3.4 25.4 3.2 25.5 3.1 25.6 2.9 25.5 2.8 25.6 2.7 25.5 2.6 25.6 2.5 25.6 2.3 25.6 2.2 25.6 2.1 25.6 1.9 26.4 1.9 26.5 1.8 27.3 1.6 27.3 1.6 27.3 1.3 27.3 1.3 27.3 1.1 27.3 0.9 27.3 0.8 27.3 0.7 27.4 0.5 27.3 0.4 27.3 0.3 27.3 0.1 27.4 -0.1 27.3 -0.2 27.3 -0.3"/>
<path d="M1323 1105.2l-4.5 70.3 -12.9 211.2"/>
<path d="M1318.5 1175.5l25.5 1.6 25.5 1.4 25.5 1.3 25.5 1.2 25.5 1 25.5 0.9 25.5 0.8 25.5 0.7 25.5 0.5 25.6 0.4 25.5 0.2 25.5 0.2 25.5 0 25.6 -0.1"/>
<path d="M1230.4 957.2l23.4 2 23.5 1.8 23.4 1.7 23.5 1.6 23.4 1.4 23.5 1.4 23.5 1.3 23.5 1.1 23.5 1 23.5 0.9 23.5 0.8 23.5 0.7"/>
<path d="M1252.7 1383l-2.6 35.2 23.8 1.7 23.8 1.6 23.8 1.5 23.7 1.4 23.9 1.2 23.8 1.2 23.8 1.1 -5.8 136.6"/>
<path d="M1247.9 1418l-24.6 315.8 -26.2 -2 -26.1 -2.1 -26.2 -2.3 -26.1 -2.4 -26.1 -2.5 -26.1 -2.6 -26.1 -2.7 -26.1 -2.9"/>
<path d="M1616.4 939.4l24 0 24 0 23.9 -0.2 24 -0.3 24 -0.4 24 -0.6 23.9 -0.7 24 -0.7 23.9 -0.9 24 -1.1 24 -1.1"/>
<path stroke-width="3" d="M991.8 508.6l36.1 -243.4"/>
<path stroke-width="3" d="M252 299.4l75 0"/>
<path stroke-width="3" d="M348 299.4l2601 0"/>
<path d="M413.7 382.7l22 6.3 22 6.2 22.1 6 22.1 6 22.1 5.8 22.1 5.7 22.2 5.7 22.2 5.5 22.3 5.3 22.2 5.3 22.3 5.1 22.3 5.1 22.4 4.9 22.3 4.8 22.4 4.7 22.4 4.6 22.5 4.4 22.4 4.4 22.5 4.2 22.5 4.1 22.5 4 22.6 3.8 22.6 3.8 22.5 3.6 22.6 3.5 22.7 3.5 22.6 3.2 22.7 3.2 22.6 3.1 22.7 2.9 22.7 2.8 22.7 2.7 22.8 2.6 22.7 2.4 22.8 2.4 22.7 2.2 22.8 2.1 22.8 2 22.8 1.9 22.8 1.7 22.8 1.7 22.8 1.5 22.9 1.4 22.8 1.2 22.8 1.2 22.9 1.1 22.9 0.9 22.8 0.8 22.9 0.7 22.8 0.5 22.9 0.5 22.9 0.3 22.9 0.2 22.8 0.1 22.9 0 22.9 -0.2"/>
<path stroke-width="3" d="M1678.4 556.1l-2.4 -262.9"/>
<path fill="#333" d="M1676.8 515.2l10.9 -4.2 11 -4.1 1.4 -8.2 -1.4 -9.6 11 -1.4 -1.3 11 10.9 13.7 1.4 8.3 20.6 6.8 -9.6 6.9 4.1 11 -2.7 9.6 -11 -4.1 -8.3 8.2 -9.6 2.8 -4.1 5.5 -4.1 -16.5 -4.1 -13.8 -8.3 -4.1 -4.1 -2.7 -2.7 -15.1Z"/>
<path fill="#fff" stroke="none" d="M1705.6 528.9l9.6 -2.7 2.8 5.4 8.2 6.9 -4.1 1.4 -6.9 -4.1 -6.8 -1.4Z"/>
<path d="M1679.5 557.7l0 -23.3 5.5 0 6.9 5.5 5.5 13.7 2.7 13.8 4.1 8.2"/>
<path stroke-width="3" d="M2328.8 924.8l1.8 11 -0.9 11 -0.9 12.8 5.4 3.7 0 9.2 -5.4 1.8 -16.5 0.9 -1.9 -2.7"/>
<path stroke-width="3" d="M2301.3 996.3l9.1 1.8 9.2 -1.8 9.2 -1.9 4.5 7.4 2.8 -11 9.1 -7.4 9.2 -7.3 9.2 -5.5 0.9 -5.5 10 -12.8 7.4 -7.3 11 -5.5 14.6 -1.8 11 1.8 7.3 1.8 7.4 -4.6 20.1 1.9 -12.8 -2.8 -7.3 0 7.3 -11 11 -3.6 14.6 -5.5 12.8 -5.5 14.7 -2.8 11 -2.7"/>
<path stroke-width="3" d="M2494.5 881.8l-8.2 4.6 -11 2.7 -11 0 -7.3 -2.7 -1 -3.7 4.6 -9.1 2.8 -8.3 4.5 -5.5 7.4 -2.7 7.3 -9.2 5.5 -5.5 12.8 -5.5 14.7 -5.5 14.6 -7.3 12.8 -5.5 11 -5.5 7.4 -5.5 10.9 -5.5 12.9 -3.6 12.8 -3.7 11 -5.5 11 -7.3 11 -9.2 9.1 -9.1 3.7 -3.7"/>
<path fill="#333" d="M2557.7 813.1l7.3 -7.3 14.7 -6.4 14.6 -2.8 3.7 5.5 -7.3 7.4 -3.7 7.3 -7.3 4.6 -5.5 -6.5 -9.2 1.9Z"/>
<path stroke-width="3" d="M2444.1 851.6l1 7.3 8.2 1.8 9.2 4.6"/>
<path d="M2435 984.4l13.7 75.6 0.4 19"/>
<path d="M2470.7 958.7l3.7 15.2 175.6 -33.5"/>
<path stroke-width="3" d="M1390.5 549.3l6.4 -259.6"/>
<path d="M2330 940l-2.2 6.8 -4.5 5.5 -7.4 -1.8 -3.6 6.4 0 8.2 -1.9 7.4 -8.2 4.5 -1.8 10.1 0.9 9.2 -3.7 7.3 -5.5 9.1 -3.6 7.4"/>
<path d="M2288.5 1020.1l5.5 3.6 10.9 1 5.5 4.5 9.2 -0.9 9.2 2.8 5.4 5.5 6.5 2.7 6.4 -4.6 11 -3.6 9.1 -4.6 11 -0.9 7.3 -7.4 9.2 -10.9 11 -7.4 12.8 -7.3 14.7 -7.3 10.9 -7.4 9.2 -9.1 9.2 -7.3 9.1 -7.4 9.2 -9.1 9.1 -9.2 7.4 -7.3 3.6 -7.3 5.5 -7.4 1.8 -7.3 -3.6 -1.8 -5.5 -9.2 -2.8 -7.3 -1.8 -6.4 8.2 -4.6 11 -5.5 11 -3.6 14.7 -2.8 12.8 -0.9 9.2 1.8 7.3 2.8 9.1 -2.8 11 -3.6 11 -2.8 9.2 -6.4 7.3 -7.3 7.3 -7.3 7.4 -5.5 2.7 -7.4 -2.7 -9.1 -3.7 -7.3 3.7 -7.4 -3.7 -5.5 7.3 -18.3"/></g>

<rect x="75" y="75" width="3150" height="2400" fill="none" stroke="#000" stroke-width="3.8"/>
<text x="2847.5" y="1072" class="lt">Dry N</text>
<text x="2850" y="1154" class="ls">(Pct of Total)</text>
<defs><linearGradient id="cb" x1="0" y1="0" x2="0" y2="1"><stop offset="0.000" stop-color="#2b2d8f"/><stop offset="0.050" stop-color="#3c3a93"/><stop offset="0.100" stop-color="#4f4797"/><stop offset="0.150" stop-color="#62589b"/><stop offset="0.200" stop-color="#7568a0"/><stop offset="0.250" stop-color="#8979a5"/><stop offset="0.300" stop-color="#9c8aaa"/><stop offset="0.350" stop-color="#b09dad"/><stop offset="0.400" stop-color="#c4b0af"/><stop offset="0.450" stop-color="#dac6b0"/><stop offset="0.500" stop-color="#f2dcb1"/><stop offset="0.550" stop-color="#f0c79d"/><stop offset="0.600" stop-color="#eeb28a"/><stop offset="0.650" stop-color="#ed9d77"/><stop offset="0.700" stop-color="#eb8865"/><stop offset="0.750" stop-color="#ea7151"/><stop offset="0.800" stop-color="#e9583c"/><stop offset="0.850" stop-color="#eb3a2d"/><stop offset="0.880" stop-color="#ec1d25"/><stop offset="0.900" stop-color="#df1f27"/><stop offset="0.950" stop-color="#be252d"/><stop offset="1.000" stop-color="#9b2a30"/></linearGradient></defs><rect x="2864" y="1232.7" width="59" height="1019.9999999999998" fill="url(#cb)"/><rect x="2923" y="1230.0" width="31" height="5.8" fill="#3f3f3f"/><text x="2968.5" y="1249.1" class="tk">0</text><rect x="2923" y="1330.6" width="31" height="5.8" fill="#3f3f3f"/><text x="2968.5" y="1349.7" class="tk">10</text><rect x="2923" y="1431.1" width="31" height="5.8" fill="#3f3f3f"/><text x="2968.5" y="1450.2" class="tk">20</text><rect x="2923" y="1533.6" width="31" height="5.8" fill="#3f3f3f"/><text x="2968.5" y="1552.7" class="tk">30</text><rect x="2923" y="1634.9" width="31" height="5.8" fill="#3f3f3f"/><text x="2968.5" y="1654.0" class="tk">40</text><rect x="2923" y="1737.6" width="31" height="5.8" fill="#3f3f3f"/><text x="2968.5" y="1756.7" class="tk">50</text><rect x="2923" y="1838.9" width="31" height="5.8" fill="#3f3f3f"/><text x="2968.5" y="1858.0" class="tk">60</text><rect x="2923" y="1941.9" width="31" height="5.8" fill="#3f3f3f"/><text x="2968.5" y="1961.0" class="tk">70</text><rect x="2923" y="2042.5" width="31" height="5.8" fill="#3f3f3f"/><text x="2968.5" y="2061.6" class="tk">80</text><rect x="2923" y="2146.0" width="31" height="5.8" fill="#3f3f3f"/><text x="2968.5" y="2165.1" class="tk">90</text><rect x="2923" y="2247.0" width="31" height="5.8" fill="#3f3f3f"/><text x="2968.5" y="2266.1" class="tk">>100</text>
<text x="3108" y="2359" class="cap" text-anchor="end">Pct of total N as dry deposition 20082010</text>
<text x="151" y="2450" class="src">Source: v2025_dev, data: CASTNET/CMAQ/NADP</text>
<text x="3156" y="2450" class="src" text-anchor="end" style="font-size:60.3px">USEPA 11/07/25</text>
</svg>
</body></html>
